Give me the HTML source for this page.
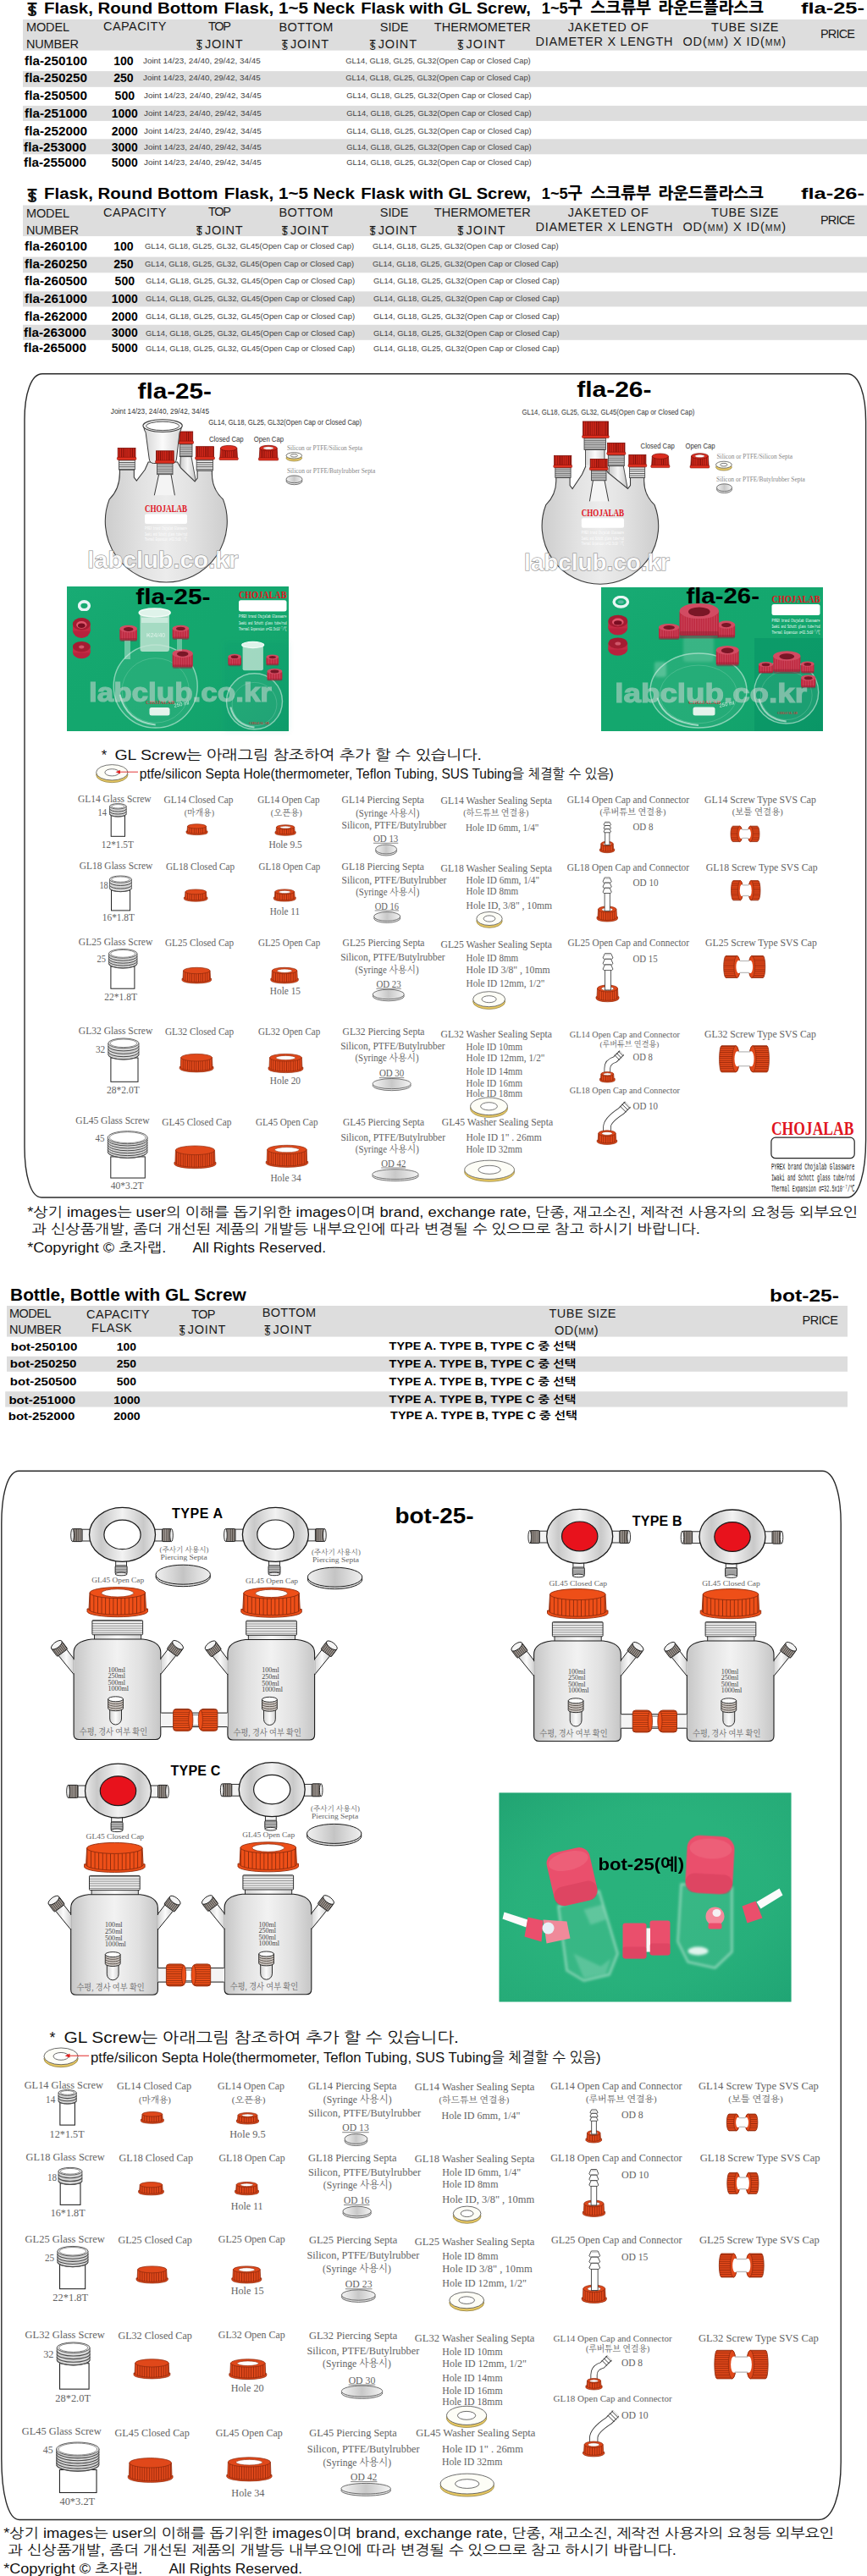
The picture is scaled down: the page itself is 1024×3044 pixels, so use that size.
<!DOCTYPE html>
<html lang="ko"><head><meta charset="utf-8"><title>fla-25 / fla-26 / bot-25</title>
<style>
html,body{margin:0;padding:0;background:#fff}
body{width:1024px;height:3044px;overflow:hidden;position:relative}
svg{display:block;position:absolute;left:0;top:0}
text{white-space:pre}
</style></head><body>
<svg width="1024" height="3044" viewBox="0 0 1024 3044">
<defs>
<linearGradient id="gl" x1="0" x2="1" y1="0" y2="0"><stop offset="0" stop-color="#d4d4d4"/><stop offset="0.5" stop-color="#fbfbfb"/><stop offset="1" stop-color="#d4d4d4"/></linearGradient>
<linearGradient id="gl2" x1="0" x2="1" y1="0" y2="0"><stop offset="0" stop-color="#c4c4c4"/><stop offset="0.5" stop-color="#f6f6f6"/><stop offset="1" stop-color="#c4c4c4"/></linearGradient>
<linearGradient id="ring" x1="0" x2="1" y1="0" y2="0"><stop offset="0" stop-color="#e8e8e8"/><stop offset="0.18" stop-color="#c9c9c9"/><stop offset="0.5" stop-color="#f2f2f2"/><stop offset="0.82" stop-color="#c9c9c9"/><stop offset="1" stop-color="#e8e8e8"/></linearGradient>
<linearGradient id="disc" x1="0" x2="1" y1="0" y2="0"><stop offset="0" stop-color="#f4f4f4"/><stop offset="0.5" stop-color="#c8c8c8"/><stop offset="1" stop-color="#f4f4f4"/></linearGradient>
<linearGradient id="body" x1="0" x2="1" y1="0" y2="0"><stop offset="0" stop-color="#cdcdcd"/><stop offset="0.3" stop-color="#e2e2e2"/><stop offset="0.5" stop-color="#ececec"/><stop offset="0.7" stop-color="#e2e2e2"/><stop offset="1" stop-color="#cdcdcd"/></linearGradient>
<pattern id="ribR" width="2.2" height="4" patternUnits="userSpaceOnUse"><rect width="2.2" height="4" fill="#d92a1c"/><rect x="0" width="0.9" height="4" fill="#7d0e08"/></pattern>
<pattern id="ribO" width="2.6" height="4" patternUnits="userSpaceOnUse"><rect width="2.6" height="4" fill="#e0481a"/><rect x="0" width="0.8" height="4" fill="#9a280a"/></pattern>
<pattern id="ribH" width="4" height="2.4" patternUnits="userSpaceOnUse"><rect width="4" height="2.4" fill="#e0481a"/><rect y="0" width="4" height="0.8" fill="#9a280a"/></pattern>
<pattern id="thr" width="4" height="2.6" patternUnits="userSpaceOnUse"><rect width="4" height="2.6" fill="#f4f4f4"/><rect y="0" width="4" height="1.1" fill="#555"/></pattern>
<pattern id="thrg" width="4" height="2.6" patternUnits="userSpaceOnUse"><rect width="4" height="2.6" fill="#bdbdbd"/><rect y="0" width="4" height="1" fill="#777"/></pattern>
<pattern id="thrv" width="2.2" height="4" patternUnits="userSpaceOnUse"><rect width="2.2" height="4" fill="#aaa49f"/><rect x="0" width="1" height="4" fill="#4a423c"/></pattern>
<filter id="b1" x="-10%" y="-10%" width="120%" height="120%"><feGaussianBlur stdDeviation="0.6"/></filter>
<filter id="b2" x="-10%" y="-10%" width="120%" height="120%"><feGaussianBlur stdDeviation="1.6"/></filter>
<filter id="b3" x="-20%" y="-20%" width="140%" height="140%"><feGaussianBlur stdDeviation="3"/></filter>
</defs>
<defs>
<linearGradient id="pgrad" x1="0" y1="0" x2="1" y2="1"><stop offset="0" stop-color="#25b888" stop-opacity="0.25"/><stop offset="0.5" stop-color="#14a76e" stop-opacity="0"/><stop offset="1" stop-color="#0a8660" stop-opacity="0.3"/></linearGradient>
</defs>
<defs>
<linearGradient id="bot" x1="0" x2="1" y1="0" y2="0"><stop offset="0" stop-color="#c6c6c6"/><stop offset="0.22" stop-color="#e0e0e0"/><stop offset="0.5" stop-color="#f2f2f2"/><stop offset="0.78" stop-color="#e0e0e0"/><stop offset="1" stop-color="#c6c6c6"/></linearGradient>
<linearGradient id="disc2" x1="0" x2="1" y1="0" y2="0"><stop offset="0" stop-color="#f0f0f0"/><stop offset="0.5" stop-color="#c4c4c4"/><stop offset="1" stop-color="#f0f0f0"/></linearGradient>
<pattern id="ribB" width="4.6" height="4" patternUnits="userSpaceOnUse"><rect width="4.6" height="4" fill="#ee4f18"/><rect x="0" width="0.9" height="4" fill="#8a2a0a"/></pattern>
<pattern id="ribH2" width="4" height="2.6" patternUnits="userSpaceOnUse"><rect width="4" height="2.6" fill="#ee4f18"/><rect y="0" width="4" height="0.8" fill="#8a2a0a"/></pattern>
<pattern id="thrb" width="4" height="2.8" patternUnits="userSpaceOnUse"><rect width="4" height="2.8" fill="#ececec"/><rect y="0" width="4" height="0.9" fill="#8a8a8a"/></pattern>
<pattern id="thrg2" width="2.2" height="4" patternUnits="userSpaceOnUse"><rect width="2.2" height="4" fill="#aaa49f"/><rect x="0" width="1" height="4" fill="#4a423c"/></pattern>
</defs>
<defs>
<linearGradient id="pgrad3" x1="0" y1="0" x2="1" y2="1"><stop offset="0" stop-color="#108a60" stop-opacity="0.22"/><stop offset="0.4" stop-color="#29b27c" stop-opacity="0"/><stop offset="1" stop-color="#0f956c" stop-opacity="0.25"/></linearGradient>
<radialGradient id="pvig3" cx="0.5" cy="0.5" r="0.75"><stop offset="0.55" stop-color="#0c7a58" stop-opacity="0"/><stop offset="1" stop-color="#0c7a58" stop-opacity="0.14"/></radialGradient>
</defs>
<text transform="translate(37.9,17.4) scale(1.87,1.99)" text-anchor="middle" font-family="'Liberation Sans','NanumGothic','Noto Sans CJK KR',sans-serif" font-size="10.0" font-weight="bold" fill="#111">T</text>
<text transform="translate(37.9,19.0) scale(1.71,1.67)" text-anchor="middle" font-family="'Liberation Sans','NanumGothic','Noto Sans CJK KR',sans-serif" font-size="10.0" font-weight="bold" fill="#111">S</text>
<text x="52.0" y="15.7" font-family="'Liberation Sans','NanumGothic','Noto Sans CJK KR',sans-serif" font-size="19.2" font-weight="bold" fill="#000" textLength="205.4" lengthAdjust="spacingAndGlyphs">Flask, Round Bottom</text>
<text x="264.7" y="15.7" font-family="'Liberation Sans','NanumGothic','Noto Sans CJK KR',sans-serif" font-size="19.2" font-weight="bold" fill="#000" textLength="154.3" lengthAdjust="spacingAndGlyphs">Flask, 1~5 Neck</text>
<text x="426.3" y="15.7" font-family="'Liberation Sans','NanumGothic','Noto Sans CJK KR',sans-serif" font-size="19.2" font-weight="bold" fill="#000" textLength="200.6" lengthAdjust="spacingAndGlyphs">Flask with GL Screw,</text>
<text x="639.8" y="15.7" font-family="'Liberation Sans','NanumGothic','Noto Sans CJK KR',sans-serif" font-size="19.2" font-weight="800" fill="#000" textLength="48.0" lengthAdjust="spacingAndGlyphs">1~5구</text>
<text x="697.8" y="15.7" font-family="'Liberation Sans','NanumGothic','Noto Sans CJK KR',sans-serif" font-size="19.2" font-weight="800" fill="#000" textLength="71.2" lengthAdjust="spacingAndGlyphs">스크류부</text>
<text x="777.5" y="15.7" font-family="'Liberation Sans','NanumGothic','Noto Sans CJK KR',sans-serif" font-size="19.2" font-weight="800" fill="#000" textLength="124.5" lengthAdjust="spacingAndGlyphs">라운드플라스크</text>
<text x="946.0" y="15.7" font-family="'Liberation Sans','NanumGothic','Noto Sans CJK KR',sans-serif" font-size="19.2" font-weight="bold" fill="#000" textLength="75.0" lengthAdjust="spacingAndGlyphs">fla-25-</text>
<rect x="27.0" y="23.0" width="997.0" height="36.6" fill="#dddddd"/>
<text x="31.0" y="37.4" font-family="'Liberation Sans','NanumGothic','Noto Sans CJK KR',sans-serif" font-size="14.5" fill="#1a1a1a" textLength="51.0" lengthAdjust="spacing">MODEL</text>
<text x="31.0" y="57.4" font-family="'Liberation Sans','NanumGothic','Noto Sans CJK KR',sans-serif" font-size="14.5" fill="#1a1a1a" textLength="62.0" lengthAdjust="spacing">NUMBER</text>
<text x="122.0" y="36.0" font-family="'Liberation Sans','NanumGothic','Noto Sans CJK KR',sans-serif" font-size="14.5" fill="#1a1a1a" textLength="74.5" lengthAdjust="spacing">CAPACITY</text>
<text x="246.0" y="35.5" font-family="'Liberation Sans','NanumGothic','Noto Sans CJK KR',sans-serif" font-size="14.5" fill="#1a1a1a" textLength="27.0" lengthAdjust="spacing">TOP</text>
<text transform="translate(235.3,57.4) scale(1.18,1.48)" text-anchor="middle" font-family="'Liberation Sans','NanumGothic','Noto Sans CJK KR',sans-serif" font-size="10.0" font-weight="normal" fill="#111">T</text>
<text transform="translate(235.3,58.6) scale(1.08,1.24)" text-anchor="middle" font-family="'Liberation Sans','NanumGothic','Noto Sans CJK KR',sans-serif" font-size="10.0" font-weight="normal" fill="#111">S</text>
<text x="242.0" y="57.4" font-family="'Liberation Sans','NanumGothic','Noto Sans CJK KR',sans-serif" font-size="14.5" fill="#1a1a1a" textLength="44.5" lengthAdjust="spacing">JOINT</text>
<text x="329.4" y="36.7" font-family="'Liberation Sans','NanumGothic','Noto Sans CJK KR',sans-serif" font-size="14.5" fill="#1a1a1a" textLength="64.0" lengthAdjust="spacing">BOTTOM</text>
<text transform="translate(336.3,57.4) scale(1.18,1.48)" text-anchor="middle" font-family="'Liberation Sans','NanumGothic','Noto Sans CJK KR',sans-serif" font-size="10.0" font-weight="normal" fill="#111">T</text>
<text transform="translate(336.3,58.6) scale(1.08,1.24)" text-anchor="middle" font-family="'Liberation Sans','NanumGothic','Noto Sans CJK KR',sans-serif" font-size="10.0" font-weight="normal" fill="#111">S</text>
<text x="343.0" y="57.4" font-family="'Liberation Sans','NanumGothic','Noto Sans CJK KR',sans-serif" font-size="14.5" fill="#1a1a1a" textLength="45.0" lengthAdjust="spacing">JOINT</text>
<text x="448.8" y="36.7" font-family="'Liberation Sans','NanumGothic','Noto Sans CJK KR',sans-serif" font-size="14.5" fill="#1a1a1a" textLength="33.6" lengthAdjust="spacing">SIDE</text>
<text transform="translate(440.0,57.4) scale(1.18,1.48)" text-anchor="middle" font-family="'Liberation Sans','NanumGothic','Noto Sans CJK KR',sans-serif" font-size="10.0" font-weight="normal" fill="#111">T</text>
<text transform="translate(440.0,58.6) scale(1.08,1.24)" text-anchor="middle" font-family="'Liberation Sans','NanumGothic','Noto Sans CJK KR',sans-serif" font-size="10.0" font-weight="normal" fill="#111">S</text>
<text x="446.7" y="57.4" font-family="'Liberation Sans','NanumGothic','Noto Sans CJK KR',sans-serif" font-size="14.5" fill="#1a1a1a" textLength="45.3" lengthAdjust="spacing">JOINT</text>
<text x="512.8" y="36.7" font-family="'Liberation Sans','NanumGothic','Noto Sans CJK KR',sans-serif" font-size="14.5" fill="#1a1a1a" textLength="113.9" lengthAdjust="spacing">THERMOMETER</text>
<text transform="translate(543.8,57.4) scale(1.18,1.48)" text-anchor="middle" font-family="'Liberation Sans','NanumGothic','Noto Sans CJK KR',sans-serif" font-size="10.0" font-weight="normal" fill="#111">T</text>
<text transform="translate(543.8,58.6) scale(1.08,1.24)" text-anchor="middle" font-family="'Liberation Sans','NanumGothic','Noto Sans CJK KR',sans-serif" font-size="10.0" font-weight="normal" fill="#111">S</text>
<text x="550.5" y="57.4" font-family="'Liberation Sans','NanumGothic','Noto Sans CJK KR',sans-serif" font-size="14.5" fill="#1a1a1a" textLength="46.1" lengthAdjust="spacing">JOINT</text>
<text x="670.7" y="36.7" font-family="'Liberation Sans','NanumGothic','Noto Sans CJK KR',sans-serif" font-size="14.5" fill="#1a1a1a" textLength="95.1" lengthAdjust="spacing">JAKETED OF</text>
<text x="632.6" y="53.6" font-family="'Liberation Sans','NanumGothic','Noto Sans CJK KR',sans-serif" font-size="14.5" fill="#1a1a1a" textLength="161.9" lengthAdjust="spacing">DIAMETER X LENGTH</text>
<text x="840.0" y="36.7" font-family="'Liberation Sans','NanumGothic','Noto Sans CJK KR',sans-serif" font-size="14.5" fill="#1a1a1a" textLength="79.5" lengthAdjust="spacing">TUBE SIZE</text>
<text x="806.4" y="53.6" font-family="'Liberation Sans','NanumGothic','Noto Sans CJK KR',sans-serif" font-size="14.5" fill="#1a1a1a" textLength="121.6" lengthAdjust="spacing"><tspan>OD(</tspan><tspan font-size="10.5">MM</tspan><tspan>) X ID(</tspan><tspan font-size="10.5">MM</tspan><tspan>)</tspan></text>
<text x="969.0" y="45.0" font-family="'Liberation Sans','NanumGothic','Noto Sans CJK KR',sans-serif" font-size="14.5" fill="#1a1a1a" textLength="41.0" lengthAdjust="spacing">PRICE</text>
<rect x="27.0" y="84.1" width="997.0" height="18.7" fill="#dddddd"/>
<rect x="27.0" y="124.9" width="997.0" height="18.0" fill="#dddddd"/>
<rect x="27.0" y="164.3" width="997.0" height="18.0" fill="#dddddd"/>
<text x="29.1" y="76.5" font-family="'Liberation Sans','NanumGothic','Noto Sans CJK KR',sans-serif" font-size="13.8" font-weight="bold" fill="#000" textLength="74.0" lengthAdjust="spacingAndGlyphs">fla-250100</text>
<text x="134.2" y="76.5" font-family="'Liberation Sans','NanumGothic','Noto Sans CJK KR',sans-serif" font-size="13.8" font-weight="bold" fill="#000" textLength="23.5" lengthAdjust="spacingAndGlyphs">100</text>
<text x="169.0" y="74.6" font-family="'Liberation Sans','NanumGothic','Noto Sans CJK KR',sans-serif" font-size="9.5" fill="#444" textLength="138.7" lengthAdjust="spacingAndGlyphs">Joint 14/23, 24/40, 29/42, 34/45</text>
<text x="408.3" y="74.6" font-family="'Liberation Sans','NanumGothic','Noto Sans CJK KR',sans-serif" font-size="9.5" fill="#444" textLength="218.4" lengthAdjust="spacingAndGlyphs">GL14, GL18, GL25, GL32(Open Cap or Closed Cap)</text>
<text x="29.1" y="97.2" font-family="'Liberation Sans','NanumGothic','Noto Sans CJK KR',sans-serif" font-size="13.8" font-weight="bold" fill="#000" textLength="74.0" lengthAdjust="spacingAndGlyphs">fla-250250</text>
<text x="134.2" y="97.2" font-family="'Liberation Sans','NanumGothic','Noto Sans CJK KR',sans-serif" font-size="13.8" font-weight="bold" fill="#000" textLength="23.5" lengthAdjust="spacingAndGlyphs">250</text>
<text x="169.0" y="95.3" font-family="'Liberation Sans','NanumGothic','Noto Sans CJK KR',sans-serif" font-size="9.5" fill="#444" textLength="138.7" lengthAdjust="spacingAndGlyphs">Joint 14/23, 24/40, 29/42, 34/45</text>
<text x="408.3" y="95.3" font-family="'Liberation Sans','NanumGothic','Noto Sans CJK KR',sans-serif" font-size="9.5" fill="#444" textLength="218.4" lengthAdjust="spacingAndGlyphs">GL14, GL18, GL25, GL32(Open Cap or Closed Cap)</text>
<text x="29.1" y="117.6" font-family="'Liberation Sans','NanumGothic','Noto Sans CJK KR',sans-serif" font-size="13.8" font-weight="bold" fill="#000" textLength="74.0" lengthAdjust="spacingAndGlyphs">fla-250500</text>
<text x="135.6" y="117.6" font-family="'Liberation Sans','NanumGothic','Noto Sans CJK KR',sans-serif" font-size="13.8" font-weight="bold" fill="#000" textLength="23.5" lengthAdjust="spacingAndGlyphs">500</text>
<text x="170.0" y="115.7" font-family="'Liberation Sans','NanumGothic','Noto Sans CJK KR',sans-serif" font-size="9.5" fill="#444" textLength="138.7" lengthAdjust="spacingAndGlyphs">Joint 14/23, 24/40, 29/42, 34/45</text>
<text x="409.3" y="115.7" font-family="'Liberation Sans','NanumGothic','Noto Sans CJK KR',sans-serif" font-size="9.5" fill="#444" textLength="218.4" lengthAdjust="spacingAndGlyphs">GL14, GL18, GL25, GL32(Open Cap or Closed Cap)</text>
<text x="29.1" y="138.7" font-family="'Liberation Sans','NanumGothic','Noto Sans CJK KR',sans-serif" font-size="13.8" font-weight="bold" fill="#000" textLength="74.0" lengthAdjust="spacingAndGlyphs">fla-251000</text>
<text x="131.8" y="138.7" font-family="'Liberation Sans','NanumGothic','Noto Sans CJK KR',sans-serif" font-size="13.8" font-weight="bold" fill="#000" textLength="31.0" lengthAdjust="spacingAndGlyphs">1000</text>
<text x="170.0" y="136.8" font-family="'Liberation Sans','NanumGothic','Noto Sans CJK KR',sans-serif" font-size="9.5" fill="#444" textLength="138.7" lengthAdjust="spacingAndGlyphs">Joint 14/23, 24/40, 29/42, 34/45</text>
<text x="409.3" y="136.8" font-family="'Liberation Sans','NanumGothic','Noto Sans CJK KR',sans-serif" font-size="9.5" fill="#444" textLength="218.4" lengthAdjust="spacingAndGlyphs">GL14, GL18, GL25, GL32(Open Cap or Closed Cap)</text>
<text x="29.1" y="159.5" font-family="'Liberation Sans','NanumGothic','Noto Sans CJK KR',sans-serif" font-size="13.8" font-weight="bold" fill="#000" textLength="74.0" lengthAdjust="spacingAndGlyphs">fla-252000</text>
<text x="131.8" y="159.5" font-family="'Liberation Sans','NanumGothic','Noto Sans CJK KR',sans-serif" font-size="13.8" font-weight="bold" fill="#000" textLength="31.0" lengthAdjust="spacingAndGlyphs">2000</text>
<text x="170.0" y="157.6" font-family="'Liberation Sans','NanumGothic','Noto Sans CJK KR',sans-serif" font-size="9.5" fill="#444" textLength="138.7" lengthAdjust="spacingAndGlyphs">Joint 14/23, 24/40, 29/42, 34/45</text>
<text x="409.3" y="157.6" font-family="'Liberation Sans','NanumGothic','Noto Sans CJK KR',sans-serif" font-size="9.5" fill="#444" textLength="218.4" lengthAdjust="spacingAndGlyphs">GL14, GL18, GL25, GL32(Open Cap or Closed Cap)</text>
<text x="28.1" y="178.9" font-family="'Liberation Sans','NanumGothic','Noto Sans CJK KR',sans-serif" font-size="13.8" font-weight="bold" fill="#000" textLength="74.0" lengthAdjust="spacingAndGlyphs">fla-253000</text>
<text x="131.8" y="178.9" font-family="'Liberation Sans','NanumGothic','Noto Sans CJK KR',sans-serif" font-size="13.8" font-weight="bold" fill="#000" textLength="31.0" lengthAdjust="spacingAndGlyphs">3000</text>
<text x="170.0" y="177.0" font-family="'Liberation Sans','NanumGothic','Noto Sans CJK KR',sans-serif" font-size="9.5" fill="#444" textLength="138.7" lengthAdjust="spacingAndGlyphs">Joint 14/23, 24/40, 29/42, 34/45</text>
<text x="409.3" y="177.0" font-family="'Liberation Sans','NanumGothic','Noto Sans CJK KR',sans-serif" font-size="9.5" fill="#444" textLength="218.4" lengthAdjust="spacingAndGlyphs">GL14, GL18, GL25, GL32(Open Cap or Closed Cap)</text>
<text x="28.1" y="196.9" font-family="'Liberation Sans','NanumGothic','Noto Sans CJK KR',sans-serif" font-size="13.8" font-weight="bold" fill="#000" textLength="74.0" lengthAdjust="spacingAndGlyphs">fla-255000</text>
<text x="131.8" y="196.9" font-family="'Liberation Sans','NanumGothic','Noto Sans CJK KR',sans-serif" font-size="13.8" font-weight="bold" fill="#000" textLength="31.0" lengthAdjust="spacingAndGlyphs">5000</text>
<text x="170.0" y="195.0" font-family="'Liberation Sans','NanumGothic','Noto Sans CJK KR',sans-serif" font-size="9.5" fill="#444" textLength="138.7" lengthAdjust="spacingAndGlyphs">Joint 14/23, 24/40, 29/42, 34/45</text>
<text x="409.3" y="195.0" font-family="'Liberation Sans','NanumGothic','Noto Sans CJK KR',sans-serif" font-size="9.5" fill="#444" textLength="218.4" lengthAdjust="spacingAndGlyphs">GL14, GL18, GL25, GL32(Open Cap or Closed Cap)</text>
<text transform="translate(37.9,236.9) scale(1.87,1.99)" text-anchor="middle" font-family="'Liberation Sans','NanumGothic','Noto Sans CJK KR',sans-serif" font-size="10.0" font-weight="bold" fill="#111">T</text>
<text transform="translate(37.9,238.5) scale(1.71,1.67)" text-anchor="middle" font-family="'Liberation Sans','NanumGothic','Noto Sans CJK KR',sans-serif" font-size="10.0" font-weight="bold" fill="#111">S</text>
<text x="52.0" y="235.2" font-family="'Liberation Sans','NanumGothic','Noto Sans CJK KR',sans-serif" font-size="19.2" font-weight="bold" fill="#000" textLength="205.4" lengthAdjust="spacingAndGlyphs">Flask, Round Bottom</text>
<text x="264.7" y="235.2" font-family="'Liberation Sans','NanumGothic','Noto Sans CJK KR',sans-serif" font-size="19.2" font-weight="bold" fill="#000" textLength="154.3" lengthAdjust="spacingAndGlyphs">Flask, 1~5 Neck</text>
<text x="426.3" y="235.2" font-family="'Liberation Sans','NanumGothic','Noto Sans CJK KR',sans-serif" font-size="19.2" font-weight="bold" fill="#000" textLength="200.6" lengthAdjust="spacingAndGlyphs">Flask with GL Screw,</text>
<text x="639.8" y="235.2" font-family="'Liberation Sans','NanumGothic','Noto Sans CJK KR',sans-serif" font-size="19.2" font-weight="800" fill="#000" textLength="48.0" lengthAdjust="spacingAndGlyphs">1~5구</text>
<text x="697.8" y="235.2" font-family="'Liberation Sans','NanumGothic','Noto Sans CJK KR',sans-serif" font-size="19.2" font-weight="800" fill="#000" textLength="71.2" lengthAdjust="spacingAndGlyphs">스크류부</text>
<text x="777.5" y="235.2" font-family="'Liberation Sans','NanumGothic','Noto Sans CJK KR',sans-serif" font-size="19.2" font-weight="800" fill="#000" textLength="124.5" lengthAdjust="spacingAndGlyphs">라운드플라스크</text>
<text x="946.0" y="235.2" font-family="'Liberation Sans','NanumGothic','Noto Sans CJK KR',sans-serif" font-size="19.2" font-weight="bold" fill="#000" textLength="75.0" lengthAdjust="spacingAndGlyphs">fla-26-</text>
<rect x="27.0" y="242.5" width="997.0" height="36.6" fill="#dddddd"/>
<text x="31.0" y="256.9" font-family="'Liberation Sans','NanumGothic','Noto Sans CJK KR',sans-serif" font-size="14.5" fill="#1a1a1a" textLength="51.0" lengthAdjust="spacing">MODEL</text>
<text x="31.0" y="276.9" font-family="'Liberation Sans','NanumGothic','Noto Sans CJK KR',sans-serif" font-size="14.5" fill="#1a1a1a" textLength="62.0" lengthAdjust="spacing">NUMBER</text>
<text x="122.0" y="255.5" font-family="'Liberation Sans','NanumGothic','Noto Sans CJK KR',sans-serif" font-size="14.5" fill="#1a1a1a" textLength="74.5" lengthAdjust="spacing">CAPACITY</text>
<text x="246.0" y="255.0" font-family="'Liberation Sans','NanumGothic','Noto Sans CJK KR',sans-serif" font-size="14.5" fill="#1a1a1a" textLength="27.0" lengthAdjust="spacing">TOP</text>
<text transform="translate(235.3,276.9) scale(1.18,1.48)" text-anchor="middle" font-family="'Liberation Sans','NanumGothic','Noto Sans CJK KR',sans-serif" font-size="10.0" font-weight="normal" fill="#111">T</text>
<text transform="translate(235.3,278.1) scale(1.08,1.24)" text-anchor="middle" font-family="'Liberation Sans','NanumGothic','Noto Sans CJK KR',sans-serif" font-size="10.0" font-weight="normal" fill="#111">S</text>
<text x="242.0" y="276.9" font-family="'Liberation Sans','NanumGothic','Noto Sans CJK KR',sans-serif" font-size="14.5" fill="#1a1a1a" textLength="44.5" lengthAdjust="spacing">JOINT</text>
<text x="329.4" y="256.2" font-family="'Liberation Sans','NanumGothic','Noto Sans CJK KR',sans-serif" font-size="14.5" fill="#1a1a1a" textLength="64.0" lengthAdjust="spacing">BOTTOM</text>
<text transform="translate(336.3,276.9) scale(1.18,1.48)" text-anchor="middle" font-family="'Liberation Sans','NanumGothic','Noto Sans CJK KR',sans-serif" font-size="10.0" font-weight="normal" fill="#111">T</text>
<text transform="translate(336.3,278.1) scale(1.08,1.24)" text-anchor="middle" font-family="'Liberation Sans','NanumGothic','Noto Sans CJK KR',sans-serif" font-size="10.0" font-weight="normal" fill="#111">S</text>
<text x="343.0" y="276.9" font-family="'Liberation Sans','NanumGothic','Noto Sans CJK KR',sans-serif" font-size="14.5" fill="#1a1a1a" textLength="45.0" lengthAdjust="spacing">JOINT</text>
<text x="448.8" y="256.2" font-family="'Liberation Sans','NanumGothic','Noto Sans CJK KR',sans-serif" font-size="14.5" fill="#1a1a1a" textLength="33.6" lengthAdjust="spacing">SIDE</text>
<text transform="translate(440.0,276.9) scale(1.18,1.48)" text-anchor="middle" font-family="'Liberation Sans','NanumGothic','Noto Sans CJK KR',sans-serif" font-size="10.0" font-weight="normal" fill="#111">T</text>
<text transform="translate(440.0,278.1) scale(1.08,1.24)" text-anchor="middle" font-family="'Liberation Sans','NanumGothic','Noto Sans CJK KR',sans-serif" font-size="10.0" font-weight="normal" fill="#111">S</text>
<text x="446.7" y="276.9" font-family="'Liberation Sans','NanumGothic','Noto Sans CJK KR',sans-serif" font-size="14.5" fill="#1a1a1a" textLength="45.3" lengthAdjust="spacing">JOINT</text>
<text x="512.8" y="256.2" font-family="'Liberation Sans','NanumGothic','Noto Sans CJK KR',sans-serif" font-size="14.5" fill="#1a1a1a" textLength="113.9" lengthAdjust="spacing">THERMOMETER</text>
<text transform="translate(543.8,276.9) scale(1.18,1.48)" text-anchor="middle" font-family="'Liberation Sans','NanumGothic','Noto Sans CJK KR',sans-serif" font-size="10.0" font-weight="normal" fill="#111">T</text>
<text transform="translate(543.8,278.1) scale(1.08,1.24)" text-anchor="middle" font-family="'Liberation Sans','NanumGothic','Noto Sans CJK KR',sans-serif" font-size="10.0" font-weight="normal" fill="#111">S</text>
<text x="550.5" y="276.9" font-family="'Liberation Sans','NanumGothic','Noto Sans CJK KR',sans-serif" font-size="14.5" fill="#1a1a1a" textLength="46.1" lengthAdjust="spacing">JOINT</text>
<text x="670.7" y="256.2" font-family="'Liberation Sans','NanumGothic','Noto Sans CJK KR',sans-serif" font-size="14.5" fill="#1a1a1a" textLength="95.1" lengthAdjust="spacing">JAKETED OF</text>
<text x="632.6" y="273.1" font-family="'Liberation Sans','NanumGothic','Noto Sans CJK KR',sans-serif" font-size="14.5" fill="#1a1a1a" textLength="161.9" lengthAdjust="spacing">DIAMETER X LENGTH</text>
<text x="840.0" y="256.2" font-family="'Liberation Sans','NanumGothic','Noto Sans CJK KR',sans-serif" font-size="14.5" fill="#1a1a1a" textLength="79.5" lengthAdjust="spacing">TUBE SIZE</text>
<text x="806.4" y="273.1" font-family="'Liberation Sans','NanumGothic','Noto Sans CJK KR',sans-serif" font-size="14.5" fill="#1a1a1a" textLength="121.6" lengthAdjust="spacing"><tspan>OD(</tspan><tspan font-size="10.5">MM</tspan><tspan>) X ID(</tspan><tspan font-size="10.5">MM</tspan><tspan>)</tspan></text>
<text x="969.0" y="264.5" font-family="'Liberation Sans','NanumGothic','Noto Sans CJK KR',sans-serif" font-size="14.5" fill="#1a1a1a" textLength="41.0" lengthAdjust="spacing">PRICE</text>
<rect x="27.0" y="303.6" width="997.0" height="18.7" fill="#dddddd"/>
<rect x="27.0" y="344.4" width="997.0" height="18.0" fill="#dddddd"/>
<rect x="27.0" y="383.8" width="997.0" height="18.0" fill="#dddddd"/>
<text x="29.1" y="296.0" font-family="'Liberation Sans','NanumGothic','Noto Sans CJK KR',sans-serif" font-size="13.8" font-weight="bold" fill="#000" textLength="74.0" lengthAdjust="spacingAndGlyphs">fla-260100</text>
<text x="134.2" y="296.0" font-family="'Liberation Sans','NanumGothic','Noto Sans CJK KR',sans-serif" font-size="13.8" font-weight="bold" fill="#000" textLength="23.5" lengthAdjust="spacingAndGlyphs">100</text>
<text x="171.0" y="294.1" font-family="'Liberation Sans','NanumGothic','Noto Sans CJK KR',sans-serif" font-size="9.5" fill="#444" textLength="247.0" lengthAdjust="spacingAndGlyphs">GL14, GL18, GL25, GL32, GL45(Open Cap or Closed Cap)</text>
<text x="440.0" y="294.1" font-family="'Liberation Sans','NanumGothic','Noto Sans CJK KR',sans-serif" font-size="9.5" fill="#444" textLength="219.6" lengthAdjust="spacingAndGlyphs">GL14, GL18, GL25, GL32(Open Cap or Closed Cap)</text>
<text x="29.1" y="316.7" font-family="'Liberation Sans','NanumGothic','Noto Sans CJK KR',sans-serif" font-size="13.8" font-weight="bold" fill="#000" textLength="74.0" lengthAdjust="spacingAndGlyphs">fla-260250</text>
<text x="134.2" y="316.7" font-family="'Liberation Sans','NanumGothic','Noto Sans CJK KR',sans-serif" font-size="13.8" font-weight="bold" fill="#000" textLength="23.5" lengthAdjust="spacingAndGlyphs">250</text>
<text x="171.0" y="314.8" font-family="'Liberation Sans','NanumGothic','Noto Sans CJK KR',sans-serif" font-size="9.5" fill="#444" textLength="247.0" lengthAdjust="spacingAndGlyphs">GL14, GL18, GL25, GL32, GL45(Open Cap or Closed Cap)</text>
<text x="440.0" y="314.8" font-family="'Liberation Sans','NanumGothic','Noto Sans CJK KR',sans-serif" font-size="9.5" fill="#444" textLength="219.6" lengthAdjust="spacingAndGlyphs">GL14, GL18, GL25, GL32(Open Cap or Closed Cap)</text>
<text x="29.1" y="337.1" font-family="'Liberation Sans','NanumGothic','Noto Sans CJK KR',sans-serif" font-size="13.8" font-weight="bold" fill="#000" textLength="74.0" lengthAdjust="spacingAndGlyphs">fla-260500</text>
<text x="135.6" y="337.1" font-family="'Liberation Sans','NanumGothic','Noto Sans CJK KR',sans-serif" font-size="13.8" font-weight="bold" fill="#000" textLength="23.5" lengthAdjust="spacingAndGlyphs">500</text>
<text x="172.0" y="335.2" font-family="'Liberation Sans','NanumGothic','Noto Sans CJK KR',sans-serif" font-size="9.5" fill="#444" textLength="247.0" lengthAdjust="spacingAndGlyphs">GL14, GL18, GL25, GL32, GL45(Open Cap or Closed Cap)</text>
<text x="441.0" y="335.2" font-family="'Liberation Sans','NanumGothic','Noto Sans CJK KR',sans-serif" font-size="9.5" fill="#444" textLength="219.6" lengthAdjust="spacingAndGlyphs">GL14, GL18, GL25, GL32(Open Cap or Closed Cap)</text>
<text x="29.1" y="358.2" font-family="'Liberation Sans','NanumGothic','Noto Sans CJK KR',sans-serif" font-size="13.8" font-weight="bold" fill="#000" textLength="74.0" lengthAdjust="spacingAndGlyphs">fla-261000</text>
<text x="131.8" y="358.2" font-family="'Liberation Sans','NanumGothic','Noto Sans CJK KR',sans-serif" font-size="13.8" font-weight="bold" fill="#000" textLength="31.0" lengthAdjust="spacingAndGlyphs">1000</text>
<text x="172.0" y="356.3" font-family="'Liberation Sans','NanumGothic','Noto Sans CJK KR',sans-serif" font-size="9.5" fill="#444" textLength="247.0" lengthAdjust="spacingAndGlyphs">GL14, GL18, GL25, GL32, GL45(Open Cap or Closed Cap)</text>
<text x="441.0" y="356.3" font-family="'Liberation Sans','NanumGothic','Noto Sans CJK KR',sans-serif" font-size="9.5" fill="#444" textLength="219.6" lengthAdjust="spacingAndGlyphs">GL14, GL18, GL25, GL32(Open Cap or Closed Cap)</text>
<text x="29.1" y="379.0" font-family="'Liberation Sans','NanumGothic','Noto Sans CJK KR',sans-serif" font-size="13.8" font-weight="bold" fill="#000" textLength="74.0" lengthAdjust="spacingAndGlyphs">fla-262000</text>
<text x="131.8" y="379.0" font-family="'Liberation Sans','NanumGothic','Noto Sans CJK KR',sans-serif" font-size="13.8" font-weight="bold" fill="#000" textLength="31.0" lengthAdjust="spacingAndGlyphs">2000</text>
<text x="172.0" y="377.1" font-family="'Liberation Sans','NanumGothic','Noto Sans CJK KR',sans-serif" font-size="9.5" fill="#444" textLength="247.0" lengthAdjust="spacingAndGlyphs">GL14, GL18, GL25, GL32, GL45(Open Cap or Closed Cap)</text>
<text x="441.0" y="377.1" font-family="'Liberation Sans','NanumGothic','Noto Sans CJK KR',sans-serif" font-size="9.5" fill="#444" textLength="219.6" lengthAdjust="spacingAndGlyphs">GL14, GL18, GL25, GL32(Open Cap or Closed Cap)</text>
<text x="28.1" y="398.4" font-family="'Liberation Sans','NanumGothic','Noto Sans CJK KR',sans-serif" font-size="13.8" font-weight="bold" fill="#000" textLength="74.0" lengthAdjust="spacingAndGlyphs">fla-263000</text>
<text x="131.8" y="398.4" font-family="'Liberation Sans','NanumGothic','Noto Sans CJK KR',sans-serif" font-size="13.8" font-weight="bold" fill="#000" textLength="31.0" lengthAdjust="spacingAndGlyphs">3000</text>
<text x="172.0" y="396.5" font-family="'Liberation Sans','NanumGothic','Noto Sans CJK KR',sans-serif" font-size="9.5" fill="#444" textLength="247.0" lengthAdjust="spacingAndGlyphs">GL14, GL18, GL25, GL32, GL45(Open Cap or Closed Cap)</text>
<text x="441.0" y="396.5" font-family="'Liberation Sans','NanumGothic','Noto Sans CJK KR',sans-serif" font-size="9.5" fill="#444" textLength="219.6" lengthAdjust="spacingAndGlyphs">GL14, GL18, GL25, GL32(Open Cap or Closed Cap)</text>
<text x="28.1" y="416.4" font-family="'Liberation Sans','NanumGothic','Noto Sans CJK KR',sans-serif" font-size="13.8" font-weight="bold" fill="#000" textLength="74.0" lengthAdjust="spacingAndGlyphs">fla-265000</text>
<text x="131.8" y="416.4" font-family="'Liberation Sans','NanumGothic','Noto Sans CJK KR',sans-serif" font-size="13.8" font-weight="bold" fill="#000" textLength="31.0" lengthAdjust="spacingAndGlyphs">5000</text>
<text x="172.0" y="414.5" font-family="'Liberation Sans','NanumGothic','Noto Sans CJK KR',sans-serif" font-size="9.5" fill="#444" textLength="247.0" lengthAdjust="spacingAndGlyphs">GL14, GL18, GL25, GL32, GL45(Open Cap or Closed Cap)</text>
<text x="441.0" y="414.5" font-family="'Liberation Sans','NanumGothic','Noto Sans CJK KR',sans-serif" font-size="9.5" fill="#444" textLength="219.6" lengthAdjust="spacingAndGlyphs">GL14, GL18, GL25, GL32(Open Cap or Closed Cap)</text>
<path d="M50,441.8 L1000.6,441.8 C1014.9,441.8 1022.6,467.0 1022.6,497.8 L1022.6,1347 C1022.6,1384.4 1014.9,1415 1000.6,1415 L49,1415 C36.0,1415 29,1388.0 29,1355 L29,495.8 C29,466.1 36.35,441.8 50,441.8 Z" fill="none" stroke="#2a2a2a" stroke-width="1.4"/>
<text x="162.6" y="471.2" font-family="'Liberation Sans','NanumGothic','Noto Sans CJK KR',sans-serif" font-size="25" font-weight="bold" fill="#000" textLength="87.4" lengthAdjust="spacingAndGlyphs">fla-25-</text>
<text x="130.8" y="488.8" font-family="'Liberation Sans','NanumGothic','Noto Sans CJK KR',sans-serif" font-size="9" fill="#333" textLength="116.2" lengthAdjust="spacingAndGlyphs">Joint 14/23, 24/40, 29/42, 34/45</text>
<text x="246.3" y="501.8" font-family="'Liberation Sans','NanumGothic','Noto Sans CJK KR',sans-serif" font-size="9" fill="#333" textLength="180.9" lengthAdjust="spacingAndGlyphs">GL14, GL18, GL25, GL32(Open Cap or Closed Cap)</text>
<text x="247.0" y="521.5" font-family="'Liberation Sans','NanumGothic','Noto Sans CJK KR',sans-serif" font-size="9" fill="#333" textLength="40.7" lengthAdjust="spacingAndGlyphs">Closed Cap</text>
<text x="299.8" y="521.5" font-family="'Liberation Sans','NanumGothic','Noto Sans CJK KR',sans-serif" font-size="9" fill="#333" textLength="35.2" lengthAdjust="spacingAndGlyphs">Open Cap</text>
<path d="M260.5,529.6 L259.8,541.0 L280.5,541.0 L279.8,529.6 Z" fill="url(#ribR)" stroke="#7d0e08" stroke-width="0.7"/>
<rect x="259.0" y="540.5" width="22.3" height="3.0" fill="#e0301f" stroke="#8d120a" stroke-width="0.6" rx="1"/>
<ellipse cx="270.1" cy="529.6" rx="9.7" ry="3.2" fill="#dc2c1e" stroke="#7d0e08" stroke-width="0.7"/>
<path d="M306.9,529.5 L306.2,541.5 L327.9,541.5 L327.2,529.5 Z" fill="url(#ribR)" stroke="#7d0e08" stroke-width="0.7"/>
<rect x="305.4" y="541.0" width="23.3" height="3.0" fill="#e0301f" stroke="#8d120a" stroke-width="0.6" rx="1"/>
<ellipse cx="317.0" cy="529.5" rx="10.2" ry="3.2" fill="#dc2c1e" stroke="#7d0e08" stroke-width="0.7"/>
<ellipse cx="317.0" cy="529.5" rx="6.2" ry="1.8" fill="#fff" stroke="#7d0e08" stroke-width="0.5"/>
<text x="338.9" y="531.9" font-family="'Liberation Serif','Noto Serif CJK KR','Noto Serif CJK SC',serif" font-size="8.5" fill="#888" textLength="89.1" lengthAdjust="spacingAndGlyphs">Silicon or PTFE/Silicon Septa</text>
<ellipse cx="347.3" cy="541.2" rx="9.3" ry="3.7" fill="#e9c962" stroke="#8a7a3a" stroke-width="0.7"/>
<ellipse cx="347.3" cy="538.4" rx="9.3" ry="3.7" fill="#fdfdf6" stroke="#555" stroke-width="0.8"/>
<ellipse cx="347.3" cy="538.4" rx="4.2" ry="1.7" fill="#fff" stroke="#555" stroke-width="0.8"/>
<text x="338.9" y="559.3" font-family="'Liberation Serif','Noto Serif CJK KR','Noto Serif CJK SC',serif" font-size="8.5" fill="#888" textLength="104.3" lengthAdjust="spacingAndGlyphs">Silicon or PTFE/Butylrubber Septa</text>
<ellipse cx="347.5" cy="568.3" rx="9.5" ry="4.4" fill="#e6e6e6" stroke="#555" stroke-width="0.8"/>
<ellipse cx="347.5" cy="566.3" rx="9.5" ry="4.4" fill="url(#disc)" stroke="#555" stroke-width="0.8"/>
<path d="M213.3,539.6 L211.8,569.6 L231.5,569.6 L226.0,539.6 Z" fill="url(#gl2)" stroke="#3a3a3a" stroke-width="0.9"/>
<rect x="212.3" y="524.4" width="14.7" height="15.2" fill="url(#thrg)" stroke="#3a3a3a" stroke-width="0.8"/>
<rect x="211.6" y="510.0" width="16.1" height="11.9" fill="url(#ribR)" stroke="#7d0e08" stroke-width="0.8"/>
<rect x="210.8" y="521.2" width="17.7" height="3.2" fill="#e0301f" stroke="#8d120a" stroke-width="0.6" rx="1"/>
<path d="M141.4,555 L141.4,559 Q141.4,578.1 129.1,590.1 A72,72 0 1 0 263.5,590.1 Q250.4,578.1 250.4,560 L250.4,556 L233.1,556 L233.1,565 L230.1,569 L213.5,553.0 L209.5,546.0 L175.2,546.0 L171.2,555.0 L161.3,568 L158.3,564 L158.3,555 Z" fill="url(#body)" stroke="#3a3a3a" stroke-width="1.1"/>
<path d="M169.7,503.1 L170.5,508.1 L172.1,511.1 L176.2,542.0 Q176.7,547.5 181.7,547.5 L203.0,547.5 Q208.0,547.5 208.5,542.0 L212.1,511.1 L213.7,508.1 L214.5,503.1 Z" fill="url(#gl)" stroke="#3a3a3a" stroke-width="1"/>
<ellipse cx="192.1" cy="503.1" rx="23.2" ry="7.4" fill="#f4f4f4" stroke="#3a3a3a" stroke-width="1.1"/>
<ellipse cx="192.1" cy="503.4" rx="19.6" ry="5.2" fill="#ffffff" stroke="#3a3a3a" stroke-width="0.9"/>
<path d="M187.6,560.7 L182.3,585.3 L206.4,585.3 L202.0,560.7 Z" fill="#f4f4f4"/>
<path d="M187.6,560.7 L182.3,585.3 M206.4,585.3 L202.0,560.7" fill="none" stroke="#3a3a3a" stroke-width="1"/>
<rect x="185.6" y="547.3" width="18.4" height="13.4" fill="url(#thrg)" stroke="#3a3a3a" stroke-width="0.8"/>
<rect x="184.4" y="532.8" width="20.8" height="12.0" fill="url(#ribR)" stroke="#7d0e08" stroke-width="0.8"/>
<rect x="183.6" y="544.1" width="22.4" height="3.2" fill="#e0301f" stroke="#8d120a" stroke-width="0.6" rx="1"/>
<rect x="140.4" y="543.5" width="18.9" height="11.5" fill="url(#thr)" stroke="#3a3a3a" stroke-width="0.8"/>
<rect x="139.2" y="529.5" width="20.8" height="11.5" fill="url(#ribR)" stroke="#7d0e08" stroke-width="0.8"/>
<rect x="138.4" y="540.3" width="22.4" height="3.2" fill="#e0301f" stroke="#8d120a" stroke-width="0.6" rx="1"/>
<rect x="232.1" y="543.0" width="19.3" height="13.0" fill="url(#thr)" stroke="#3a3a3a" stroke-width="0.8"/>
<rect x="231.4" y="527.7" width="21.2" height="12.8" fill="url(#ribR)" stroke="#7d0e08" stroke-width="0.8"/>
<rect x="230.6" y="539.8" width="22.8" height="3.2" fill="#e0301f" stroke="#8d120a" stroke-width="0.6" rx="1"/>
<text x="171.0" y="605.0" font-family="'Liberation Serif','Noto Serif CJK KR','Noto Serif CJK SC',serif" font-size="11.8" font-weight="bold" fill="#e0141e" textLength="50.0" lengthAdjust="spacingAndGlyphs">CHOJALAB</text>
<rect x="171.0" y="607.4" width="50.0" height="11.6" fill="#fff" rx="2"/>
<text x="171.0" y="626.3" font-family="'Liberation Mono','Noto Sans Mono CJK KR',monospace" font-size="5.5" fill="#fff" textLength="50.0" lengthAdjust="spacingAndGlyphs">PYREX brand Chojalab Glassware</text>
<text x="171.0" y="632.8" font-family="'Liberation Mono','Noto Sans Mono CJK KR',monospace" font-size="5.5" fill="#fff" textLength="50.0" lengthAdjust="spacingAndGlyphs">Iwaki and Schott glass tube/rod</text>
<text x="171.0" y="639.3" font-family="'Liberation Mono','Noto Sans Mono CJK KR',monospace" font-size="5.5" fill="#fff" textLength="50.0" lengthAdjust="spacingAndGlyphs">Thermal Expansion α=32.5x10⁻⁷/℃</text>
<text x="103.3" y="671.0" font-family="'Liberation Sans','NanumGothic','Noto Sans CJK KR',sans-serif" font-size="28" font-weight="bold" fill="#ffffff" textLength="178.2" lengthAdjust="spacingAndGlyphs" stroke="#8a8a8a" stroke-width="1.1" paint-order="stroke" fill-opacity="0.9">labclub.co.kr</text>
<text x="681.2" y="468.6" font-family="'Liberation Sans','NanumGothic','Noto Sans CJK KR',sans-serif" font-size="25" font-weight="bold" fill="#000" textLength="88.3" lengthAdjust="spacingAndGlyphs">fla-26-</text>
<text x="616.5" y="490.1" font-family="'Liberation Sans','NanumGothic','Noto Sans CJK KR',sans-serif" font-size="9" fill="#333" textLength="203.8" lengthAdjust="spacingAndGlyphs">GL14, GL18, GL25, GL32, GL45(Open Cap or Closed Cap)</text>
<text x="756.6" y="530.4" font-family="'Liberation Sans','NanumGothic','Noto Sans CJK KR',sans-serif" font-size="9" fill="#333" textLength="40.1" lengthAdjust="spacingAndGlyphs">Closed Cap</text>
<text x="809.4" y="530.4" font-family="'Liberation Sans','NanumGothic','Noto Sans CJK KR',sans-serif" font-size="9" fill="#333" textLength="35.2" lengthAdjust="spacingAndGlyphs">Open Cap</text>
<path d="M770.3,539.2 L769.6,550.1 L790.1,550.1 L789.4,539.2 Z" fill="url(#ribR)" stroke="#7d0e08" stroke-width="0.7"/>
<rect x="768.8" y="549.6" width="22.1" height="3.0" fill="#e0301f" stroke="#8d120a" stroke-width="0.6" rx="1"/>
<ellipse cx="779.8" cy="539.2" rx="9.6" ry="3.2" fill="#dc2c1e" stroke="#7d0e08" stroke-width="0.7"/>
<path d="M816.5,538.9 L815.8,550.5 L837.1,550.5 L836.4,538.9 Z" fill="url(#ribR)" stroke="#7d0e08" stroke-width="0.7"/>
<rect x="815.0" y="550.0" width="22.9" height="3.0" fill="#e0301f" stroke="#8d120a" stroke-width="0.6" rx="1"/>
<ellipse cx="826.5" cy="538.9" rx="9.9" ry="3.2" fill="#dc2c1e" stroke="#7d0e08" stroke-width="0.7"/>
<ellipse cx="826.5" cy="538.9" rx="5.9" ry="1.8" fill="#fff" stroke="#7d0e08" stroke-width="0.5"/>
<text x="846.5" y="542.0" font-family="'Liberation Serif','Noto Serif CJK KR','Noto Serif CJK SC',serif" font-size="8.5" fill="#888" textLength="89.5" lengthAdjust="spacingAndGlyphs">Silicon or PTFE/Silicon Septa</text>
<ellipse cx="854.9" cy="552.0" rx="9.4" ry="4.0" fill="#e9c962" stroke="#8a7a3a" stroke-width="0.7"/>
<ellipse cx="854.9" cy="549.2" rx="9.4" ry="4.0" fill="#fdfdf6" stroke="#555" stroke-width="0.8"/>
<ellipse cx="854.9" cy="549.2" rx="4.2" ry="1.8" fill="#fff" stroke="#555" stroke-width="0.8"/>
<text x="846.0" y="569.1" font-family="'Liberation Serif','Noto Serif CJK KR','Noto Serif CJK SC',serif" font-size="8.5" fill="#888" textLength="104.8" lengthAdjust="spacingAndGlyphs">Silicon or PTFE/Butylrubber Septa</text>
<ellipse cx="855.5" cy="578.2" rx="9.0" ry="4.4" fill="#e6e6e6" stroke="#555" stroke-width="0.8"/>
<ellipse cx="855.5" cy="576.2" rx="9.0" ry="4.4" fill="url(#disc)" stroke="#555" stroke-width="0.8"/>
<path d="M719.3,550.6 L717.8,580.6 L741.8,580.6 L736.3,550.6 Z" fill="url(#gl2)" stroke="#3a3a3a" stroke-width="0.9"/>
<rect x="718.3" y="537.4" width="19.0" height="13.2" fill="url(#thrg)" stroke="#3a3a3a" stroke-width="0.8"/>
<rect x="717.6" y="523.4" width="20.4" height="11.5" fill="url(#ribR)" stroke="#7d0e08" stroke-width="0.8"/>
<rect x="716.8" y="534.2" width="22.0" height="3.2" fill="#e0301f" stroke="#8d120a" stroke-width="0.6" rx="1"/>
<path d="M691.5,531.5 L691.5,571.5 L714.0,571.5 L714.0,531.5 Z" fill="url(#gl)" stroke="#3a3a3a" stroke-width="0.9"/>
<rect x="690.0" y="517.6" width="25.5" height="13.9" fill="url(#thrg)" stroke="#3a3a3a" stroke-width="0.8"/>
<rect x="688.4" y="498.0" width="30.1" height="17.1" fill="url(#ribR)" stroke="#7d0e08" stroke-width="0.8"/>
<rect x="687.6" y="514.4" width="31.7" height="3.2" fill="#e0301f" stroke="#8d120a" stroke-width="0.6" rx="1"/>
<path d="M656.8,564.5 L656.8,568.5 Q656.8,584.7 644.7,596.7 A68.8,68.8 0 1 0 773.1,596.7 Q760.7,584.7 760.7,568.5 L760.7,564.5 L744.5,564.5 L744.5,573.5 L741.5,577.5 L718.0,558.5 L714.0,551.5 L691.5,551.5 L687.5,560.5 L676.1,577.5 L673.1,573.5 L673.1,564.5 Z" fill="url(#body)" stroke="#3a3a3a" stroke-width="1.1"/>
<rect x="692.1" y="549.5" width="21.3" height="5.0" fill="#ececec"/>
<path d="M700.4,567.8 L696.4,592.4 L718.8,592.4 L714.0,567.8 Z" fill="#f4f4f4"/>
<path d="M700.4,567.8 L696.4,592.4 M718.8,592.4 L714.0,567.8" fill="none" stroke="#3a3a3a" stroke-width="1"/>
<rect x="698.4" y="555.6" width="17.6" height="12.2" fill="url(#thrg)" stroke="#3a3a3a" stroke-width="0.8"/>
<rect x="697.2" y="542.4" width="20.0" height="10.7" fill="url(#ribR)" stroke="#7d0e08" stroke-width="0.8"/>
<rect x="696.4" y="552.4" width="21.6" height="3.2" fill="#e0301f" stroke="#8d120a" stroke-width="0.6" rx="1"/>
<rect x="655.8" y="552.6" width="18.3" height="11.9" fill="url(#thrg)" stroke="#3a3a3a" stroke-width="0.8"/>
<rect x="654.6" y="538.4" width="20.2" height="11.7" fill="url(#ribR)" stroke="#7d0e08" stroke-width="0.8"/>
<rect x="653.8" y="549.4" width="21.8" height="3.2" fill="#e0301f" stroke="#8d120a" stroke-width="0.6" rx="1"/>
<rect x="743.5" y="551.8" width="18.2" height="12.7" fill="url(#thr)" stroke="#3a3a3a" stroke-width="0.8"/>
<rect x="742.8" y="537.4" width="20.1" height="11.9" fill="url(#ribR)" stroke="#7d0e08" stroke-width="0.8"/>
<rect x="742.0" y="548.6" width="21.7" height="3.2" fill="#e0301f" stroke="#8d120a" stroke-width="0.6" rx="1"/>
<text x="686.8" y="609.8" font-family="'Liberation Serif','Noto Serif CJK KR','Noto Serif CJK SC',serif" font-size="11.8" font-weight="bold" fill="#e0141e" textLength="50.2" lengthAdjust="spacingAndGlyphs">CHOJALAB</text>
<rect x="686.8" y="612.2" width="50.2" height="11.6" fill="#fff" rx="2"/>
<text x="686.8" y="631.1" font-family="'Liberation Mono','Noto Sans Mono CJK KR',monospace" font-size="5.5" fill="#fff" textLength="50.2" lengthAdjust="spacingAndGlyphs">PYREX brand Chojalab Glassware</text>
<text x="686.8" y="637.6" font-family="'Liberation Mono','Noto Sans Mono CJK KR',monospace" font-size="5.5" fill="#fff" textLength="50.2" lengthAdjust="spacingAndGlyphs">Iwaki and Schott glass tube/rod</text>
<text x="686.8" y="644.1" font-family="'Liberation Mono','Noto Sans Mono CJK KR',monospace" font-size="5.5" fill="#fff" textLength="50.2" lengthAdjust="spacingAndGlyphs">Thermal Expansion α=32.5x10⁻⁷/℃</text>
<text x="619.0" y="673.8" font-family="'Liberation Sans','NanumGothic','Noto Sans CJK KR',sans-serif" font-size="28" font-weight="bold" fill="#ffffff" textLength="171.9" lengthAdjust="spacingAndGlyphs" stroke="#8a8a8a" stroke-width="1.1" paint-order="stroke" fill-opacity="0.9">labclub.co.kr</text>
<g><rect x="79.0" y="693.0" width="262.0" height="171.0" fill="#14a76e"/>
<rect x="79" y="693" width="262" height="171" fill="url(#pgrad)"/><g filter="url(#b1)"><ellipse cx="99.4" cy="715.8" rx="5.9" ry="4.9" fill="none" stroke="#e6f4f6" stroke-width="3.6"/>
</g><g filter="url(#b1)"><ellipse cx="96.3" cy="745.1" rx="10.4" ry="8.8" fill="#b8243c"/>
<rect x="86.0" y="737.3" width="20.7" height="8.5" fill="#c42a44"/>
<ellipse cx="96.3" cy="737.3" rx="10.4" ry="7.3" fill="#a41c30"/>
<ellipse cx="96.3" cy="738.3" rx="6.2" ry="4.4" fill="#e0566c"/>
<ellipse cx="96.3" cy="739.3" rx="4.3" ry="2.7" fill="#7a1020"/>
</g><g filter="url(#b1)"><ellipse cx="96.3" cy="770.7" rx="10.4" ry="7.5" fill="#b8243c"/>
<rect x="86.0" y="764.1" width="20.7" height="7.2" fill="#c42a44"/>
<ellipse cx="96.3" cy="764.1" rx="10.4" ry="6.2" fill="#a41c30"/>
<ellipse cx="96.3" cy="764.5" rx="3.1" ry="1.9" fill="#d0566a"/>
</g><g filter="url(#b1)"><ellipse cx="183.7" cy="811.0" rx="49.5" ry="49.0" fill="#ffffff" stroke="#e6f5ee" stroke-width="1.4" fill-opacity="0.07" stroke-opacity="0.55"/>
<ellipse cx="183.7" cy="815.9" rx="39.6" ry="38.2" fill="none" stroke="#d5f0e2" stroke-width="1" stroke-opacity="0.2"/>
<path d="M141.6,820.8 Q149.0,852.6 183.7,856.6" fill="none" stroke="#ffffff" stroke-width="2" stroke-opacity="0.55"/>
</g><g filter="url(#b1)"><rect x="165.5" y="723.0" width="34.5" height="47.0" fill="#c4e6d6" rx="3" fill-opacity="0.82"/>
<ellipse cx="182.7" cy="724.0" rx="18.5" ry="5.0" fill="#dff3ea" stroke="#f2fbf7" stroke-width="1.5"/>
<rect x="167.0" y="730.0" width="31.5" height="6.0" fill="#e2f4ec" fill-opacity="0.6"/>
</g><text x="173.0" y="753.0" font-family="'Liberation Sans','NanumGothic','Noto Sans CJK KR',sans-serif" font-size="7" fill="#eef8f3" opacity="0.8">₭24/40</text>
<g filter="url(#b1)"><rect x="141.3" y="742.6" width="20.7" height="13.8" fill="#bf2c42" rx="2.5"/>
<line x1="144.3" y1="745.3" x2="144.3" y2="756.0" stroke="#e27286" stroke-width="0.7" stroke-opacity="0.55"/>
<line x1="147.2" y1="745.3" x2="147.2" y2="756.0" stroke="#e27286" stroke-width="0.7" stroke-opacity="0.55"/>
<line x1="150.2" y1="745.3" x2="150.2" y2="756.0" stroke="#e27286" stroke-width="0.7" stroke-opacity="0.55"/>
<line x1="153.1" y1="745.3" x2="153.1" y2="756.0" stroke="#e27286" stroke-width="0.7" stroke-opacity="0.55"/>
<line x1="156.1" y1="745.3" x2="156.1" y2="756.0" stroke="#e27286" stroke-width="0.7" stroke-opacity="0.55"/>
<line x1="159.0" y1="745.3" x2="159.0" y2="756.0" stroke="#e27286" stroke-width="0.7" stroke-opacity="0.55"/>
<ellipse cx="151.7" cy="743.0" rx="10.3" ry="4.2" fill="#d24c62"/>
<ellipse cx="151.7" cy="743.4" rx="5.7" ry="2.5" fill="#7a1426"/>
<rect x="141.3" y="754.1" width="20.7" height="3.8" fill="#8e1c30" rx="2" fill-opacity="0.45"/>
</g><g filter="url(#b1)"><rect x="203.6" y="742.2" width="19.7" height="12.4" fill="#bf2c42" rx="2.5"/>
<line x1="206.4" y1="744.6" x2="206.4" y2="754.3" stroke="#e27286" stroke-width="0.7" stroke-opacity="0.55"/>
<line x1="209.2" y1="744.6" x2="209.2" y2="754.3" stroke="#e27286" stroke-width="0.7" stroke-opacity="0.55"/>
<line x1="212.0" y1="744.6" x2="212.0" y2="754.3" stroke="#e27286" stroke-width="0.7" stroke-opacity="0.55"/>
<line x1="214.9" y1="744.6" x2="214.9" y2="754.3" stroke="#e27286" stroke-width="0.7" stroke-opacity="0.55"/>
<line x1="217.7" y1="744.6" x2="217.7" y2="754.3" stroke="#e27286" stroke-width="0.7" stroke-opacity="0.55"/>
<line x1="220.5" y1="744.6" x2="220.5" y2="754.3" stroke="#e27286" stroke-width="0.7" stroke-opacity="0.55"/>
<ellipse cx="213.4" cy="742.6" rx="9.9" ry="3.8" fill="#d24c62"/>
<ellipse cx="213.4" cy="742.9" rx="5.4" ry="2.2" fill="#7a1426"/>
<rect x="203.6" y="752.6" width="19.7" height="3.4" fill="#8e1c30" rx="2" fill-opacity="0.45"/>
</g><g filter="url(#b1)"><rect x="203.6" y="771.8" width="24.2" height="16.4" fill="#bf2c42" rx="2.5"/>
<line x1="206.3" y1="775.0" x2="206.3" y2="787.7" stroke="#e27286" stroke-width="0.7" stroke-opacity="0.55"/>
<line x1="209.0" y1="775.0" x2="209.0" y2="787.7" stroke="#e27286" stroke-width="0.7" stroke-opacity="0.55"/>
<line x1="211.7" y1="775.0" x2="211.7" y2="787.7" stroke="#e27286" stroke-width="0.7" stroke-opacity="0.55"/>
<line x1="214.4" y1="775.0" x2="214.4" y2="787.7" stroke="#e27286" stroke-width="0.7" stroke-opacity="0.55"/>
<line x1="217.0" y1="775.0" x2="217.0" y2="787.7" stroke="#e27286" stroke-width="0.7" stroke-opacity="0.55"/>
<line x1="219.7" y1="775.0" x2="219.7" y2="787.7" stroke="#e27286" stroke-width="0.7" stroke-opacity="0.55"/>
<line x1="222.4" y1="775.0" x2="222.4" y2="787.7" stroke="#e27286" stroke-width="0.7" stroke-opacity="0.55"/>
<line x1="225.1" y1="775.0" x2="225.1" y2="787.7" stroke="#e27286" stroke-width="0.7" stroke-opacity="0.55"/>
<ellipse cx="215.7" cy="772.2" rx="12.1" ry="5.0" fill="#d24c62"/>
<ellipse cx="215.7" cy="772.7" rx="6.7" ry="3.0" fill="#7a1426"/>
<rect x="203.6" y="785.4" width="24.2" height="4.6" fill="#8e1c30" rx="2" fill-opacity="0.45"/>
</g><g filter="url(#b1)"><rect x="147.0" y="757.0" width="7.0" height="22.0" fill="#d5efe3" fill-opacity="0.45"/>
<rect x="209.0" y="755.0" width="6.0" height="14.0" fill="#d5efe3" fill-opacity="0.4"/>
</g><text x="172.0" y="831.5" font-family="'Liberation Serif','Noto Serif CJK KR','Noto Serif CJK SC',serif" font-size="6.5" font-weight="bold" fill="#b8423e" textLength="34.0" lengthAdjust="spacingAndGlyphs">CHOJALAB</text>
<g filter="url(#b1)"><rect x="176.5" y="836.0" width="24.0" height="9.5" fill="#e4f3ec" rx="2.5"/>
</g><text x="206.0" y="836.0" font-family="'Liberation Sans','NanumGothic','Noto Sans CJK KR',sans-serif" font-size="6" fill="#e8f5ee" transform="rotate(-12 206 836)" opacity="0.85">250 ml</text>
<rect x="265.0" y="759.0" width="76.0" height="105.0" fill="#0f8f68" fill-opacity="0.12" filter="url(#b3)"/>
<g filter="url(#b1)"><ellipse cx="300.5" cy="828.8" rx="33.0" ry="33.0" fill="#ffffff" stroke="#e6f5ee" stroke-width="1.4" fill-opacity="0.07" stroke-opacity="0.55"/>
<ellipse cx="300.5" cy="832.1" rx="26.4" ry="25.7" fill="none" stroke="#d5f0e2" stroke-width="1" stroke-opacity="0.2"/>
<path d="M272.4,835.4 Q277.4,856.8 300.5,859.5" fill="none" stroke="#ffffff" stroke-width="2" stroke-opacity="0.55"/>
</g><g filter="url(#b1)"><rect x="286.6" y="761.3" width="24.3" height="31.0" fill="#c4e6d6" rx="2" fill-opacity="0.8"/>
<ellipse cx="298.7" cy="762.0" rx="13.0" ry="3.6" fill="#dff3ea" stroke="#f2fbf7" stroke-width="1.2"/>
</g><g filter="url(#b1)"><rect x="269.3" y="775.6" width="15.7" height="10.5" fill="#bf2c42" rx="2.5"/>
<line x1="271.9" y1="777.7" x2="271.9" y2="785.8" stroke="#e27286" stroke-width="0.7" stroke-opacity="0.55"/>
<line x1="274.5" y1="777.7" x2="274.5" y2="785.8" stroke="#e27286" stroke-width="0.7" stroke-opacity="0.55"/>
<line x1="277.1" y1="777.7" x2="277.1" y2="785.8" stroke="#e27286" stroke-width="0.7" stroke-opacity="0.55"/>
<line x1="279.8" y1="777.7" x2="279.8" y2="785.8" stroke="#e27286" stroke-width="0.7" stroke-opacity="0.55"/>
<line x1="282.4" y1="777.7" x2="282.4" y2="785.8" stroke="#e27286" stroke-width="0.7" stroke-opacity="0.55"/>
<ellipse cx="277.1" cy="775.9" rx="7.8" ry="3.2" fill="#d24c62"/>
<ellipse cx="277.1" cy="776.2" rx="4.3" ry="1.9" fill="#7a1426"/>
<rect x="269.3" y="784.4" width="15.7" height="2.9" fill="#8e1c30" rx="2" fill-opacity="0.45"/>
</g><g filter="url(#b1)"><rect x="314.3" y="776.0" width="14.9" height="9.5" fill="#bf2c42" rx="2.5"/>
<line x1="317.3" y1="777.9" x2="317.3" y2="785.3" stroke="#e27286" stroke-width="0.7" stroke-opacity="0.55"/>
<line x1="320.3" y1="777.9" x2="320.3" y2="785.3" stroke="#e27286" stroke-width="0.7" stroke-opacity="0.55"/>
<line x1="323.2" y1="777.9" x2="323.2" y2="785.3" stroke="#e27286" stroke-width="0.7" stroke-opacity="0.55"/>
<line x1="326.2" y1="777.9" x2="326.2" y2="785.3" stroke="#e27286" stroke-width="0.7" stroke-opacity="0.55"/>
<ellipse cx="321.8" cy="776.3" rx="7.4" ry="2.9" fill="#d24c62"/>
<ellipse cx="321.8" cy="776.6" rx="4.1" ry="1.7" fill="#7a1426"/>
<rect x="314.3" y="784.0" width="14.9" height="2.6" fill="#8e1c30" rx="2" fill-opacity="0.45"/>
</g><g filter="url(#b1)"><rect x="315.4" y="792.9" width="18.0" height="10.5" fill="#bf2c42" rx="2.5"/>
<line x1="318.4" y1="795.0" x2="318.4" y2="803.1" stroke="#e27286" stroke-width="0.7" stroke-opacity="0.55"/>
<line x1="321.4" y1="795.0" x2="321.4" y2="803.1" stroke="#e27286" stroke-width="0.7" stroke-opacity="0.55"/>
<line x1="324.4" y1="795.0" x2="324.4" y2="803.1" stroke="#e27286" stroke-width="0.7" stroke-opacity="0.55"/>
<line x1="327.4" y1="795.0" x2="327.4" y2="803.1" stroke="#e27286" stroke-width="0.7" stroke-opacity="0.55"/>
<line x1="330.4" y1="795.0" x2="330.4" y2="803.1" stroke="#e27286" stroke-width="0.7" stroke-opacity="0.55"/>
<ellipse cx="324.4" cy="793.2" rx="9.0" ry="3.2" fill="#d24c62"/>
<ellipse cx="324.4" cy="793.5" rx="5.0" ry="1.9" fill="#7a1426"/>
<rect x="315.4" y="801.7" width="18.0" height="2.9" fill="#8e1c30" rx="2" fill-opacity="0.45"/>
</g><text x="294.0" y="856.0" font-family="'Liberation Serif','Noto Serif CJK KR','Noto Serif CJK SC',serif" font-size="5" font-weight="bold" fill="#b8423e" textLength="24.0" lengthAdjust="spacingAndGlyphs">CHOJALAB</text>
<text x="160.3" y="714.4" font-family="'Liberation Sans','NanumGothic','Noto Sans CJK KR',sans-serif" font-size="25" font-weight="bold" fill="#000" textLength="88.3" lengthAdjust="spacingAndGlyphs">fla-25-</text>
<text x="282.0" y="706.8" font-family="'Liberation Serif','Noto Serif CJK KR','Noto Serif CJK SC',serif" font-size="11.8" font-weight="bold" fill="#e0141e" textLength="56.5" lengthAdjust="spacingAndGlyphs">CHOJALAB</text>
<rect x="282.0" y="709.2" width="56.5" height="13.2" fill="#fff" rx="2.5"/>
<text x="282.0" y="730.3" font-family="'Liberation Mono','Noto Sans Mono CJK KR',monospace" font-size="6" fill="#fff" textLength="56.5" lengthAdjust="spacingAndGlyphs">PYREX brand Chojalab Glassware</text>
<text x="282.0" y="737.5" font-family="'Liberation Mono','Noto Sans Mono CJK KR',monospace" font-size="6" fill="#fff" textLength="56.5" lengthAdjust="spacingAndGlyphs">Iwaki and Schott glass tube/rod</text>
<text x="282.0" y="744.7" font-family="'Liberation Mono','Noto Sans Mono CJK KR',monospace" font-size="6" fill="#fff" textLength="56.5" lengthAdjust="spacingAndGlyphs">Thermal Expansion α=32.5x10⁻⁷/℃</text>
<g opacity="0.5"><text x="105.0" y="829.2" font-family="'Liberation Sans','NanumGothic','Noto Sans CJK KR',sans-serif" font-size="31.5" font-weight="bold" fill="#dcdcdc" textLength="216.0" lengthAdjust="spacingAndGlyphs" stroke="#dcdcdc" stroke-width="1.2">labclub.co.kr</text>
</g></g><g><rect x="710.0" y="694.0" width="262.0" height="170.0" fill="#14a76e"/>
<rect x="710" y="694" width="262" height="170" fill="url(#pgrad)"/><rect x="891.0" y="754.0" width="81.0" height="110.0" fill="#0c8a62" fill-opacity="0.4" filter="url(#b1)"/>
<g filter="url(#b1)"><ellipse cx="733.3" cy="711.2" rx="8.2" ry="5.8" fill="none" stroke="#e8f6f4" stroke-width="3.4"/>
<ellipse cx="733.3" cy="711.2" rx="3.4" ry="2.0" fill="#58b8a0"/>
</g><g filter="url(#b1)"><ellipse cx="729.8" cy="741.8" rx="11.4" ry="8.7" fill="#b8243c"/>
<rect x="718.4" y="734.0" width="22.8" height="8.5" fill="#c42a44"/>
<ellipse cx="729.8" cy="734.0" rx="11.4" ry="7.3" fill="#a41c30"/>
<ellipse cx="729.8" cy="735.0" rx="6.8" ry="4.4" fill="#e0566c"/>
<ellipse cx="729.8" cy="735.9" rx="4.8" ry="2.7" fill="#7a1020"/>
</g><g filter="url(#b1)"><ellipse cx="729.8" cy="766.9" rx="11.4" ry="7.8" fill="#b8243c"/>
<rect x="718.4" y="759.9" width="22.8" height="7.6" fill="#c42a44"/>
<ellipse cx="729.8" cy="759.9" rx="11.4" ry="6.5" fill="#a41c30"/>
<ellipse cx="729.8" cy="760.4" rx="3.4" ry="2.0" fill="#d0566a"/>
</g><g filter="url(#b1)"><ellipse cx="825.0" cy="816.0" rx="57.0" ry="44.0" fill="#ffffff" stroke="#e6f5ee" stroke-width="1.4" fill-opacity="0.07" stroke-opacity="0.55"/>
<ellipse cx="825.0" cy="820.4" rx="45.6" ry="34.3" fill="none" stroke="#d5f0e2" stroke-width="1" stroke-opacity="0.2"/>
<path d="M776.5,824.8 Q785.1,853.4 825.0,856.9" fill="none" stroke="#ffffff" stroke-width="2" stroke-opacity="0.55"/>
</g><g filter="url(#b2)"><rect x="807.0" y="752.0" width="36.0" height="30.0" fill="#cdeadc" rx="4" fill-opacity="0.2"/>
<rect x="773.0" y="782.0" width="14.0" height="18.0" fill="#e8f6f0" rx="3" fill-opacity="0.25"/>
</g><g filter="url(#b1)"><rect x="778.0" y="740.8" width="24.5" height="13.7" fill="#bf2c42" rx="2.5"/>
<line x1="780.7" y1="743.5" x2="780.7" y2="754.1" stroke="#e27286" stroke-width="0.7" stroke-opacity="0.55"/>
<line x1="783.4" y1="743.5" x2="783.4" y2="754.1" stroke="#e27286" stroke-width="0.7" stroke-opacity="0.55"/>
<line x1="786.2" y1="743.5" x2="786.2" y2="754.1" stroke="#e27286" stroke-width="0.7" stroke-opacity="0.55"/>
<line x1="788.9" y1="743.5" x2="788.9" y2="754.1" stroke="#e27286" stroke-width="0.7" stroke-opacity="0.55"/>
<line x1="791.6" y1="743.5" x2="791.6" y2="754.1" stroke="#e27286" stroke-width="0.7" stroke-opacity="0.55"/>
<line x1="794.3" y1="743.5" x2="794.3" y2="754.1" stroke="#e27286" stroke-width="0.7" stroke-opacity="0.55"/>
<line x1="797.1" y1="743.5" x2="797.1" y2="754.1" stroke="#e27286" stroke-width="0.7" stroke-opacity="0.55"/>
<line x1="799.8" y1="743.5" x2="799.8" y2="754.1" stroke="#e27286" stroke-width="0.7" stroke-opacity="0.55"/>
<ellipse cx="790.2" cy="741.2" rx="12.2" ry="4.2" fill="#d24c62"/>
<ellipse cx="790.2" cy="741.6" rx="6.7" ry="2.5" fill="#7a1426"/>
<rect x="778.0" y="752.2" width="24.5" height="3.8" fill="#8e1c30" rx="2" fill-opacity="0.45"/>
</g><g filter="url(#b1)"><rect x="847.4" y="737.8" width="20.8" height="15.0" fill="#bf2c42" rx="2.5"/>
<line x1="850.0" y1="740.7" x2="850.0" y2="752.3" stroke="#e27286" stroke-width="0.7" stroke-opacity="0.55"/>
<line x1="852.6" y1="740.7" x2="852.6" y2="752.3" stroke="#e27286" stroke-width="0.7" stroke-opacity="0.55"/>
<line x1="855.2" y1="740.7" x2="855.2" y2="752.3" stroke="#e27286" stroke-width="0.7" stroke-opacity="0.55"/>
<line x1="857.8" y1="740.7" x2="857.8" y2="752.3" stroke="#e27286" stroke-width="0.7" stroke-opacity="0.55"/>
<line x1="860.4" y1="740.7" x2="860.4" y2="752.3" stroke="#e27286" stroke-width="0.7" stroke-opacity="0.55"/>
<line x1="863.0" y1="740.7" x2="863.0" y2="752.3" stroke="#e27286" stroke-width="0.7" stroke-opacity="0.55"/>
<line x1="865.6" y1="740.7" x2="865.6" y2="752.3" stroke="#e27286" stroke-width="0.7" stroke-opacity="0.55"/>
<ellipse cx="857.8" cy="738.2" rx="10.4" ry="4.6" fill="#d24c62"/>
<ellipse cx="857.8" cy="738.6" rx="5.7" ry="2.7" fill="#7a1426"/>
<rect x="847.4" y="750.2" width="20.8" height="4.2" fill="#8e1c30" rx="2" fill-opacity="0.45"/>
</g><g filter="url(#b1)"><rect x="802.5" y="721.2" width="46.5" height="29.9" fill="#bf2c42" rx="2.5"/>
<line x1="805.2" y1="727.0" x2="805.2" y2="750.2" stroke="#e27286" stroke-width="0.7" stroke-opacity="0.55"/>
<line x1="808.0" y1="727.0" x2="808.0" y2="750.2" stroke="#e27286" stroke-width="0.7" stroke-opacity="0.55"/>
<line x1="810.7" y1="727.0" x2="810.7" y2="750.2" stroke="#e27286" stroke-width="0.7" stroke-opacity="0.55"/>
<line x1="813.4" y1="727.0" x2="813.4" y2="750.2" stroke="#e27286" stroke-width="0.7" stroke-opacity="0.55"/>
<line x1="816.2" y1="727.0" x2="816.2" y2="750.2" stroke="#e27286" stroke-width="0.7" stroke-opacity="0.55"/>
<line x1="818.9" y1="727.0" x2="818.9" y2="750.2" stroke="#e27286" stroke-width="0.7" stroke-opacity="0.55"/>
<line x1="821.6" y1="727.0" x2="821.6" y2="750.2" stroke="#e27286" stroke-width="0.7" stroke-opacity="0.55"/>
<line x1="824.4" y1="727.0" x2="824.4" y2="750.2" stroke="#e27286" stroke-width="0.7" stroke-opacity="0.55"/>
<line x1="827.1" y1="727.0" x2="827.1" y2="750.2" stroke="#e27286" stroke-width="0.7" stroke-opacity="0.55"/>
<line x1="829.9" y1="727.0" x2="829.9" y2="750.2" stroke="#e27286" stroke-width="0.7" stroke-opacity="0.55"/>
<line x1="832.6" y1="727.0" x2="832.6" y2="750.2" stroke="#e27286" stroke-width="0.7" stroke-opacity="0.55"/>
<line x1="835.3" y1="727.0" x2="835.3" y2="750.2" stroke="#e27286" stroke-width="0.7" stroke-opacity="0.55"/>
<line x1="838.1" y1="727.0" x2="838.1" y2="750.2" stroke="#e27286" stroke-width="0.7" stroke-opacity="0.55"/>
<line x1="840.8" y1="727.0" x2="840.8" y2="750.2" stroke="#e27286" stroke-width="0.7" stroke-opacity="0.55"/>
<line x1="843.5" y1="727.0" x2="843.5" y2="750.2" stroke="#e27286" stroke-width="0.7" stroke-opacity="0.55"/>
<line x1="846.3" y1="727.0" x2="846.3" y2="750.2" stroke="#e27286" stroke-width="0.7" stroke-opacity="0.55"/>
<ellipse cx="825.8" cy="722.0" rx="23.2" ry="9.1" fill="#d24c62"/>
<ellipse cx="825.8" cy="722.9" rx="12.8" ry="5.4" fill="#7a1426"/>
<rect x="802.5" y="746.1" width="46.5" height="8.3" fill="#8e1c30" rx="2" fill-opacity="0.45"/>
</g><g filter="url(#b1)"><rect x="845.7" y="767.9" width="27.0" height="17.5" fill="#bf2c42" rx="2.5"/>
<line x1="848.4" y1="771.3" x2="848.4" y2="784.9" stroke="#e27286" stroke-width="0.7" stroke-opacity="0.55"/>
<line x1="851.1" y1="771.3" x2="851.1" y2="784.9" stroke="#e27286" stroke-width="0.7" stroke-opacity="0.55"/>
<line x1="853.8" y1="771.3" x2="853.8" y2="784.9" stroke="#e27286" stroke-width="0.7" stroke-opacity="0.55"/>
<line x1="856.5" y1="771.3" x2="856.5" y2="784.9" stroke="#e27286" stroke-width="0.7" stroke-opacity="0.55"/>
<line x1="859.2" y1="771.3" x2="859.2" y2="784.9" stroke="#e27286" stroke-width="0.7" stroke-opacity="0.55"/>
<line x1="861.9" y1="771.3" x2="861.9" y2="784.9" stroke="#e27286" stroke-width="0.7" stroke-opacity="0.55"/>
<line x1="864.6" y1="771.3" x2="864.6" y2="784.9" stroke="#e27286" stroke-width="0.7" stroke-opacity="0.55"/>
<line x1="867.3" y1="771.3" x2="867.3" y2="784.9" stroke="#e27286" stroke-width="0.7" stroke-opacity="0.55"/>
<line x1="870.0" y1="771.3" x2="870.0" y2="784.9" stroke="#e27286" stroke-width="0.7" stroke-opacity="0.55"/>
<ellipse cx="859.2" cy="768.3" rx="13.5" ry="5.3" fill="#d24c62"/>
<ellipse cx="859.2" cy="768.8" rx="7.4" ry="3.2" fill="#7a1426"/>
<rect x="845.7" y="782.4" width="27.0" height="4.9" fill="#8e1c30" rx="2" fill-opacity="0.45"/>
</g><text x="813.0" y="831.5" font-family="'Liberation Serif','Noto Serif CJK KR','Noto Serif CJK SC',serif" font-size="7" font-weight="bold" fill="#b8423e" textLength="38.0" lengthAdjust="spacingAndGlyphs">CHOJALAB</text>
<g filter="url(#b1)"><rect x="818.5" y="835.5" width="26.0" height="10.0" fill="#e4f3ec" rx="2.5"/>
</g><text x="850.0" y="836.0" font-family="'Liberation Sans','NanumGothic','Noto Sans CJK KR',sans-serif" font-size="6" fill="#e8f5ee" transform="rotate(-12 850 836)" opacity="0.85">250 ml</text>
<g filter="url(#b1)"><ellipse cx="928.7" cy="818.0" rx="38.0" ry="37.0" fill="#ffffff" stroke="#e6f5ee" stroke-width="1.4" fill-opacity="0.07" stroke-opacity="0.55"/>
<ellipse cx="928.7" cy="821.7" rx="30.4" ry="28.9" fill="none" stroke="#d5f0e2" stroke-width="1" stroke-opacity="0.2"/>
<path d="M896.4,825.4 Q902.1,849.5 928.7,852.4" fill="none" stroke="#ffffff" stroke-width="2" stroke-opacity="0.55"/>
</g><g filter="url(#b1)"><rect x="895.9" y="784.8" width="17.3" height="10.1" fill="#bf2c42" rx="2.5"/>
<line x1="898.8" y1="786.8" x2="898.8" y2="794.6" stroke="#e27286" stroke-width="0.7" stroke-opacity="0.55"/>
<line x1="901.7" y1="786.8" x2="901.7" y2="794.6" stroke="#e27286" stroke-width="0.7" stroke-opacity="0.55"/>
<line x1="904.5" y1="786.8" x2="904.5" y2="794.6" stroke="#e27286" stroke-width="0.7" stroke-opacity="0.55"/>
<line x1="907.4" y1="786.8" x2="907.4" y2="794.6" stroke="#e27286" stroke-width="0.7" stroke-opacity="0.55"/>
<line x1="910.3" y1="786.8" x2="910.3" y2="794.6" stroke="#e27286" stroke-width="0.7" stroke-opacity="0.55"/>
<ellipse cx="904.5" cy="785.1" rx="8.7" ry="3.1" fill="#d24c62"/>
<ellipse cx="904.5" cy="785.4" rx="4.8" ry="1.8" fill="#7a1426"/>
<rect x="895.9" y="793.2" width="17.3" height="2.8" fill="#8e1c30" rx="2" fill-opacity="0.45"/>
</g><g filter="url(#b1)"><rect x="946.0" y="784.3" width="15.6" height="10.5" fill="#bf2c42" rx="2.5"/>
<line x1="948.6" y1="786.4" x2="948.6" y2="794.5" stroke="#e27286" stroke-width="0.7" stroke-opacity="0.55"/>
<line x1="951.2" y1="786.4" x2="951.2" y2="794.5" stroke="#e27286" stroke-width="0.7" stroke-opacity="0.55"/>
<line x1="953.8" y1="786.4" x2="953.8" y2="794.5" stroke="#e27286" stroke-width="0.7" stroke-opacity="0.55"/>
<line x1="956.4" y1="786.4" x2="956.4" y2="794.5" stroke="#e27286" stroke-width="0.7" stroke-opacity="0.55"/>
<line x1="959.0" y1="786.4" x2="959.0" y2="794.5" stroke="#e27286" stroke-width="0.7" stroke-opacity="0.55"/>
<ellipse cx="953.8" cy="784.6" rx="7.8" ry="3.2" fill="#d24c62"/>
<ellipse cx="953.8" cy="784.9" rx="4.3" ry="1.9" fill="#7a1426"/>
<rect x="946.0" y="793.1" width="15.6" height="2.9" fill="#8e1c30" rx="2" fill-opacity="0.45"/>
</g><g filter="url(#b1)"><rect x="913.2" y="774.6" width="32.2" height="19.2" fill="#bf2c42" rx="2.5"/>
<line x1="915.9" y1="778.4" x2="915.9" y2="793.3" stroke="#e27286" stroke-width="0.7" stroke-opacity="0.55"/>
<line x1="918.6" y1="778.4" x2="918.6" y2="793.3" stroke="#e27286" stroke-width="0.7" stroke-opacity="0.55"/>
<line x1="921.2" y1="778.4" x2="921.2" y2="793.3" stroke="#e27286" stroke-width="0.7" stroke-opacity="0.55"/>
<line x1="923.9" y1="778.4" x2="923.9" y2="793.3" stroke="#e27286" stroke-width="0.7" stroke-opacity="0.55"/>
<line x1="926.6" y1="778.4" x2="926.6" y2="793.3" stroke="#e27286" stroke-width="0.7" stroke-opacity="0.55"/>
<line x1="929.3" y1="778.4" x2="929.3" y2="793.3" stroke="#e27286" stroke-width="0.7" stroke-opacity="0.55"/>
<line x1="932.0" y1="778.4" x2="932.0" y2="793.3" stroke="#e27286" stroke-width="0.7" stroke-opacity="0.55"/>
<line x1="934.7" y1="778.4" x2="934.7" y2="793.3" stroke="#e27286" stroke-width="0.7" stroke-opacity="0.55"/>
<line x1="937.4" y1="778.4" x2="937.4" y2="793.3" stroke="#e27286" stroke-width="0.7" stroke-opacity="0.55"/>
<line x1="940.0" y1="778.4" x2="940.0" y2="793.3" stroke="#e27286" stroke-width="0.7" stroke-opacity="0.55"/>
<line x1="942.7" y1="778.4" x2="942.7" y2="793.3" stroke="#e27286" stroke-width="0.7" stroke-opacity="0.55"/>
<ellipse cx="929.3" cy="775.2" rx="16.1" ry="5.9" fill="#d24c62"/>
<ellipse cx="929.3" cy="775.7" rx="8.9" ry="3.5" fill="#7a1426"/>
<rect x="913.2" y="790.7" width="32.2" height="5.3" fill="#8e1c30" rx="2" fill-opacity="0.45"/>
</g><g filter="url(#b1)"><rect x="946.0" y="800.7" width="17.4" height="11.2" fill="#bf2c42" rx="2.5"/>
<line x1="948.9" y1="802.9" x2="948.9" y2="811.6" stroke="#e27286" stroke-width="0.7" stroke-opacity="0.55"/>
<line x1="951.8" y1="802.9" x2="951.8" y2="811.6" stroke="#e27286" stroke-width="0.7" stroke-opacity="0.55"/>
<line x1="954.7" y1="802.9" x2="954.7" y2="811.6" stroke="#e27286" stroke-width="0.7" stroke-opacity="0.55"/>
<line x1="957.6" y1="802.9" x2="957.6" y2="811.6" stroke="#e27286" stroke-width="0.7" stroke-opacity="0.55"/>
<line x1="960.5" y1="802.9" x2="960.5" y2="811.6" stroke="#e27286" stroke-width="0.7" stroke-opacity="0.55"/>
<ellipse cx="954.7" cy="801.0" rx="8.7" ry="3.4" fill="#d24c62"/>
<ellipse cx="954.7" cy="801.3" rx="4.8" ry="2.0" fill="#7a1426"/>
<rect x="946.0" y="810.1" width="17.4" height="3.1" fill="#8e1c30" rx="2" fill-opacity="0.45"/>
</g><text x="918.0" y="844.0" font-family="'Liberation Serif','Noto Serif CJK KR','Noto Serif CJK SC',serif" font-size="5" font-weight="bold" fill="#b8423e" textLength="24.0" lengthAdjust="spacingAndGlyphs">CHOJALAB</text>
<text x="810.4" y="712.9" font-family="'Liberation Sans','NanumGothic','Noto Sans CJK KR',sans-serif" font-size="25" font-weight="bold" fill="#000" textLength="86.6" lengthAdjust="spacingAndGlyphs">fla-26-</text>
<text x="911.5" y="711.5" font-family="'Liberation Serif','Noto Serif CJK KR','Noto Serif CJK SC',serif" font-size="11.8" font-weight="bold" fill="#e0141e" textLength="57.0" lengthAdjust="spacingAndGlyphs">CHOJALAB</text>
<rect x="911.5" y="713.9" width="57.0" height="13.2" fill="#fff" rx="2.5"/>
<text x="911.5" y="735.0" font-family="'Liberation Mono','Noto Sans Mono CJK KR',monospace" font-size="6" fill="#fff" textLength="57.0" lengthAdjust="spacingAndGlyphs">PYREX brand Chojalab Glassware</text>
<text x="911.5" y="742.2" font-family="'Liberation Mono','Noto Sans Mono CJK KR',monospace" font-size="6" fill="#fff" textLength="57.0" lengthAdjust="spacingAndGlyphs">Iwaki and Schott glass tube/rod</text>
<text x="911.5" y="749.4" font-family="'Liberation Mono','Noto Sans Mono CJK KR',monospace" font-size="6" fill="#fff" textLength="57.0" lengthAdjust="spacingAndGlyphs">Thermal Expansion α=32.5x10⁻⁷/℃</text>
<g opacity="0.5"><text x="726.3" y="830.0" font-family="'Liberation Sans','NanumGothic','Noto Sans CJK KR',sans-serif" font-size="32" font-weight="bold" fill="#dcdcdc" textLength="226.7" lengthAdjust="spacingAndGlyphs" stroke="#dcdcdc" stroke-width="1.2">labclub.co.kr</text>
</g></g><g id="chart1"><text x="119.8" y="897.7" font-family="'Liberation Sans','NanumGothic','Noto Sans CJK KR',sans-serif" font-size="16.5" fill="#111">*</text>
<text x="135.4" y="897.7" font-family="'Liberation Sans','NanumGothic','Noto Sans CJK KR',sans-serif" font-size="16.5" fill="#111" textLength="433.6" lengthAdjust="spacingAndGlyphs">GL Screw는 아래그림 참조하여 추가 할 수 있습니다.</text>
<ellipse cx="132.3" cy="915.5" rx="18.7" ry="9.2" fill="#e9c962" stroke="#8a7a3a" stroke-width="0.7"/>
<ellipse cx="132.3" cy="912.8" rx="18.7" ry="9.2" fill="#fdfdf6" stroke="#555" stroke-width="0.8"/>
<ellipse cx="132.3" cy="912.8" rx="8.4" ry="4.1" fill="#fff" stroke="#555" stroke-width="0.8"/>
<line x1="139.0" y1="912.2" x2="163.0" y2="912.2" stroke="#e02020" stroke-width="0.9"/>
<path d="M136.5,912.2 L142,910 L142,914.4 Z" fill="#e02020"/>
<text x="164.8" y="919.5" font-family="'Liberation Sans','NanumGothic','Noto Sans CJK KR',sans-serif" font-size="16" fill="#111" textLength="560.0" lengthAdjust="spacingAndGlyphs">ptfe/silicon Septa Hole(thermometer, Teflon Tubing, SUS Tubing을 체결할 수 있음)</text>
<text x="92.0" y="947.8" font-family="'Liberation Serif','Noto Serif CJK KR','Noto Serif CJK SC',serif" font-size="11.5" fill="#636363" textLength="86.6" lengthAdjust="spacingAndGlyphs">GL14 Glass Screw</text>
<text x="115.6" y="963.8" font-family="'Liberation Serif','Noto Serif CJK KR','Noto Serif CJK SC',serif" font-size="11.5" fill="#636363" textLength="10.4" lengthAdjust="spacingAndGlyphs">14</text>
<rect x="131.2" y="963.0" width="16.3" height="25.3" fill="#fff" stroke="#222" stroke-width="1"/>
<path d="M129.5,952.8 L129.5,961.8 A9.8,3.2 0 0 0 149.2,961.8 L149.2,952.8 Z" fill="#d6d6d6" stroke="#444" stroke-width="0.8"/>
<path d="M129.5,955.8 A9.8,3.2 0 0 0 149.2,955.8" fill="none" stroke="#4a4a4a" stroke-width="1.0"/>
<path d="M129.5,958.8 A9.8,3.2 0 0 0 149.2,958.8" fill="none" stroke="#4a4a4a" stroke-width="1.0"/>
<path d="M129.5,961.8 A9.8,3.2 0 0 0 149.2,961.8" fill="none" stroke="#4a4a4a" stroke-width="1.0"/>
<ellipse cx="139.3" cy="952.8" rx="9.8" ry="3.2" fill="#f0f0f0" stroke="#555" stroke-width="0.9"/>
<ellipse cx="139.3" cy="952.8" rx="7.6" ry="2.2" fill="#fff" stroke="#666" stroke-width="0.7"/>
<text x="119.8" y="1001.8" font-family="'Liberation Serif','Noto Serif CJK KR','Noto Serif CJK SC',serif" font-size="11.5" fill="#636363" textLength="38.1" lengthAdjust="spacingAndGlyphs">12*1.5T</text>
<text x="193.5" y="948.8" font-family="'Liberation Serif','Noto Serif CJK KR','Noto Serif CJK SC',serif" font-size="11.5" fill="#636363" textLength="82.0" lengthAdjust="spacingAndGlyphs">GL14 Closed Cap</text>
<text x="217.7" y="964.0" font-family="'Liberation Serif','Noto Serif CJK KR','Noto Serif CJK SC',serif" font-size="10" fill="#636363" textLength="35.3" lengthAdjust="spacingAndGlyphs">(마개용)</text>
<path d="M220.0,984.0 A12.5,2.6 0 0 0 245.0,984.0 L245.0,982.0 L220.0,982.0 Z" fill="#e0481a" stroke="#8f2a0c" stroke-width="0.7"/>
<path d="M221.5,976.4 L221.0,982.5 A11.5,2.6 0 0 0 244.0,982.5 L243.5,976.4 Z" fill="url(#ribO)" stroke="#8f2a0c" stroke-width="0.7"/>
<ellipse cx="232.5" cy="976.4" rx="11.0" ry="2.6" fill="#e0481a" stroke="#8f2a0c" stroke-width="0.7"/>
<text x="304.2" y="948.8" font-family="'Liberation Serif','Noto Serif CJK KR','Noto Serif CJK SC',serif" font-size="11.5" fill="#636363" textLength="73.4" lengthAdjust="spacingAndGlyphs">GL14 Open Cap</text>
<text x="319.8" y="964.0" font-family="'Liberation Serif','Noto Serif CJK KR','Noto Serif CJK SC',serif" font-size="10" fill="#636363" textLength="37.0" lengthAdjust="spacingAndGlyphs">(오픈용)</text>
<path d="M325.0,984.7 A12.1,2.6 0 0 0 349.2,984.7 L349.2,982.7 L325.0,982.7 Z" fill="#e0481a" stroke="#8f2a0c" stroke-width="0.7"/>
<path d="M326.5,977.4 L326.0,983.2 A11.1,2.6 0 0 0 348.2,983.2 L347.7,977.4 Z" fill="url(#ribO)" stroke="#8f2a0c" stroke-width="0.7"/>
<ellipse cx="337.1" cy="977.4" rx="10.6" ry="2.6" fill="#e0481a" stroke="#8f2a0c" stroke-width="0.7"/>
<ellipse cx="337.1" cy="977.6" rx="6.6" ry="1.5" fill="#fff" stroke="#8f2a0c" stroke-width="0.6"/>
<text x="317.4" y="1001.8" font-family="'Liberation Serif','Noto Serif CJK KR','Noto Serif CJK SC',serif" font-size="11.5" fill="#636363" textLength="39.4" lengthAdjust="spacingAndGlyphs">Hole 9.5</text>
<text x="403.6" y="949.2" font-family="'Liberation Serif','Noto Serif CJK KR','Noto Serif CJK SC',serif" font-size="11.5" fill="#636363" textLength="97.2" lengthAdjust="spacingAndGlyphs">GL14 Piercing Septa</text>
<text x="420.2" y="964.5" font-family="'Liberation Serif','Noto Serif CJK KR','Noto Serif CJK SC',serif" font-size="11.5" fill="#636363" textLength="75.1" lengthAdjust="spacingAndGlyphs">(Syringe 사용시)</text>
<text x="403.6" y="978.6" font-family="'Liberation Serif','Noto Serif CJK KR','Noto Serif CJK SC',serif" font-size="11.5" fill="#636363" textLength="123.8" lengthAdjust="spacingAndGlyphs">Silicon, PTFE/Butylrubber</text>
<text x="441.0" y="994.8" font-family="'Liberation Serif','Noto Serif CJK KR','Noto Serif CJK SC',serif" font-size="11.5" fill="#636363" textLength="29.3" lengthAdjust="spacingAndGlyphs">OD 13</text>
<line x1="441.0" y1="996.3" x2="470.3" y2="996.3" stroke="#555" stroke-width="0.7"/>
<ellipse cx="456.1" cy="1005.5" rx="12.5" ry="5.5" fill="#e6e6e6" stroke="#555" stroke-width="0.8"/>
<ellipse cx="456.1" cy="1003.5" rx="12.5" ry="5.5" fill="url(#disc)" stroke="#555" stroke-width="0.8"/>
<text x="520.5" y="949.8" font-family="'Liberation Serif','Noto Serif CJK KR','Noto Serif CJK SC',serif" font-size="11.5" fill="#636363" textLength="131.5" lengthAdjust="spacingAndGlyphs">GL14 Washer Sealing Septa</text>
<text x="547.2" y="964.0" font-family="'Liberation Serif','Noto Serif CJK KR','Noto Serif CJK SC',serif" font-size="10" fill="#636363" textLength="77.1" lengthAdjust="spacingAndGlyphs">(하드튜브 연결용)</text>
<text x="550.0" y="981.8" font-family="'Liberation Serif','Noto Serif CJK KR','Noto Serif CJK SC',serif" font-size="11.5" fill="#636363" textLength="86.4" lengthAdjust="spacingAndGlyphs">Hole ID 6mm, 1/4&quot;</text>
<text x="669.7" y="949.2" font-family="'Liberation Serif','Noto Serif CJK KR','Noto Serif CJK SC',serif" font-size="11.5" fill="#636363" textLength="144.3" lengthAdjust="spacingAndGlyphs">GL14 Open Cap and Connector</text>
<text x="708.4" y="963.3" font-family="'Liberation Serif','Noto Serif CJK KR','Noto Serif CJK SC',serif" font-size="10" fill="#636363" textLength="77.9" lengthAdjust="spacingAndGlyphs">(루버튜브 연결용)</text>
<text x="747.5" y="981.1" font-family="'Liberation Serif','Noto Serif CJK KR','Noto Serif CJK SC',serif" font-size="11.5" fill="#636363" textLength="23.9" lengthAdjust="spacingAndGlyphs">OD 8</text>
<path d="M708.4,1005.2 A8.7,2.8 0 0 0 725.7,1005.2 L725.7,1003.2 L708.4,1003.2 Z" fill="#e0481a" stroke="#8f2a0c" stroke-width="0.7"/>
<path d="M709.9,997.1 L709.4,1003.7 A7.7,2.8 0 0 0 724.7,1003.7 L724.2,997.1 Z" fill="url(#ribO)" stroke="#8f2a0c" stroke-width="0.7"/>
<ellipse cx="717.0" cy="997.1" rx="7.2" ry="2.8" fill="#e0481a" stroke="#8f2a0c" stroke-width="0.7"/>
<ellipse cx="717.0" cy="997.3" rx="4.4" ry="1.7" fill="#fff" stroke="#8f2a0c" stroke-width="0.6"/>
<rect x="714.7" y="982.8" width="5.2" height="15.6" fill="#fff" stroke="#333" stroke-width="0.8"/>
<path d="M714.7,971.4 L719.9,971.4 L721.6,974.7 L720.4,975.5 L714.2,975.5 L713.0,974.7 Z" fill="#fff" stroke="#333" stroke-width="0.8"/>
<path d="M714.7,975.5 L719.9,975.5 L721.6,978.9 L720.4,979.7 L714.2,979.7 L713.0,978.9 Z" fill="#fff" stroke="#333" stroke-width="0.8"/>
<path d="M714.7,979.7 L719.9,979.7 L721.6,983.0 L720.4,983.8 L714.2,983.8 L713.0,983.0 Z" fill="#fff" stroke="#333" stroke-width="0.8"/>
<rect x="715.1" y="971.8" width="4.4" height="1.6" fill="#cfcfcf"/>
<text x="832.0" y="949.2" font-family="'Liberation Serif','Noto Serif CJK KR','Noto Serif CJK SC',serif" font-size="11.5" fill="#636363" textLength="131.9" lengthAdjust="spacingAndGlyphs">GL14 Screw Type SVS Cap</text>
<text x="864.8" y="963.3" font-family="'Liberation Serif','Noto Serif CJK KR','Noto Serif CJK SC',serif" font-size="10" fill="#636363" textLength="59.9" lengthAdjust="spacingAndGlyphs">(보틀 연결용)</text>
<path d="M865.6,976.2 L873.7,976.2 A2.9,9.2 0 0 1 873.7,994.6 L865.6,994.6 A2.6,9.2 0 0 1 865.6,976.2 Z" fill="url(#ribH)" stroke="#8f2a0c" stroke-width="0.8"/>
<ellipse cx="873.7" cy="985.4" rx="2.9" ry="9.2" fill="#e0481a" stroke="#8f2a0c" stroke-width="0.7"/>
<path d="M894.4,976.2 L886.3,976.2 A2.9,9.2 0 0 0 886.3,994.6 L894.4,994.6 A2.6,9.2 0 0 0 894.4,976.2 Z" fill="url(#ribH)" stroke="#8f2a0c" stroke-width="0.8"/>
<ellipse cx="886.3" cy="985.4" rx="2.9" ry="9.2" fill="#e0481a" stroke="#8f2a0c" stroke-width="0.7"/>
<rect x="874.7" y="980.4" width="10.6" height="9.9" fill="#fff"/>
<line x1="875.7" y1="980.4" x2="884.3" y2="980.4" stroke="#bdbdbd" stroke-width="1.3"/>
<line x1="875.7" y1="990.4" x2="884.3" y2="990.4" stroke="#bdbdbd" stroke-width="1.3"/>
<ellipse cx="875.3" cy="985.4" rx="2.2" ry="5.6" fill="#fff"/>
<ellipse cx="884.7" cy="985.4" rx="2.2" ry="5.6" fill="#fff"/>
<text x="93.8" y="1026.8" font-family="'Liberation Serif','Noto Serif CJK KR','Noto Serif CJK SC',serif" font-size="11.5" fill="#636363" textLength="86.5" lengthAdjust="spacingAndGlyphs">GL18 Glass Screw</text>
<text x="117.4" y="1049.6" font-family="'Liberation Serif','Noto Serif CJK KR','Noto Serif CJK SC',serif" font-size="11.5" fill="#636363" textLength="10.4" lengthAdjust="spacingAndGlyphs">18</text>
<rect x="131.5" y="1052.0" width="22.1" height="23.9" fill="#fff" stroke="#222" stroke-width="1"/>
<path d="M129.5,1039.1 L129.5,1049.9 A13.0,4.1 0 0 0 155.4,1049.9 L155.4,1039.1 Z" fill="#d6d6d6" stroke="#444" stroke-width="0.8"/>
<path d="M129.5,1042.7 A13.0,4.1 0 0 0 155.4,1042.7" fill="none" stroke="#4a4a4a" stroke-width="1.0"/>
<path d="M129.5,1046.3 A13.0,4.1 0 0 0 155.4,1046.3" fill="none" stroke="#4a4a4a" stroke-width="1.0"/>
<path d="M129.5,1049.9 A13.0,4.1 0 0 0 155.4,1049.9" fill="none" stroke="#4a4a4a" stroke-width="1.0"/>
<ellipse cx="142.4" cy="1039.1" rx="13.0" ry="4.1" fill="#f0f0f0" stroke="#555" stroke-width="0.9"/>
<ellipse cx="142.4" cy="1039.1" rx="10.8" ry="3.1" fill="#fff" stroke="#666" stroke-width="0.7"/>
<text x="120.8" y="1088.3" font-family="'Liberation Serif','Noto Serif CJK KR','Noto Serif CJK SC',serif" font-size="11.5" fill="#636363" textLength="38.1" lengthAdjust="spacingAndGlyphs">16*1.8T</text>
<text x="196.0" y="1027.8" font-family="'Liberation Serif','Noto Serif CJK KR','Noto Serif CJK SC',serif" font-size="11.5" fill="#636363" textLength="81.2" lengthAdjust="spacingAndGlyphs">GL18 Closed Cap</text>
<path d="M217.4,1062.3 A13.8,2.9 0 0 0 245.0,1062.3 L245.0,1060.3 L217.4,1060.3 Z" fill="#e0481a" stroke="#8f2a0c" stroke-width="0.7"/>
<path d="M218.9,1053.9 L218.4,1060.8 A12.8,2.9 0 0 0 244.0,1060.8 L243.5,1053.9 Z" fill="url(#ribO)" stroke="#8f2a0c" stroke-width="0.7"/>
<ellipse cx="231.2" cy="1053.9" rx="12.3" ry="2.9" fill="#e0481a" stroke="#8f2a0c" stroke-width="0.7"/>
<text x="305.6" y="1027.8" font-family="'Liberation Serif','Noto Serif CJK KR','Noto Serif CJK SC',serif" font-size="11.5" fill="#636363" textLength="72.7" lengthAdjust="spacingAndGlyphs">GL18 Open Cap</text>
<path d="M323.3,1062.2 A12.9,2.9 0 0 0 349.2,1062.2 L349.2,1060.2 L323.3,1060.2 Z" fill="#e0481a" stroke="#8f2a0c" stroke-width="0.7"/>
<path d="M324.8,1053.8 L324.3,1060.7 A11.9,2.9 0 0 0 348.2,1060.7 L347.7,1053.8 Z" fill="url(#ribO)" stroke="#8f2a0c" stroke-width="0.7"/>
<ellipse cx="336.2" cy="1053.8" rx="11.4" ry="2.9" fill="#e0481a" stroke="#8f2a0c" stroke-width="0.7"/>
<ellipse cx="336.2" cy="1054.0" rx="7.1" ry="1.7" fill="#fff" stroke="#8f2a0c" stroke-width="0.6"/>
<text x="318.8" y="1080.8" font-family="'Liberation Serif','Noto Serif CJK KR','Noto Serif CJK SC',serif" font-size="11.5" fill="#636363" textLength="35.2" lengthAdjust="spacingAndGlyphs">Hole 11</text>
<text x="403.6" y="1027.8" font-family="'Liberation Serif','Noto Serif CJK KR','Noto Serif CJK SC',serif" font-size="11.5" fill="#636363" textLength="97.2" lengthAdjust="spacingAndGlyphs">GL18 Piercing Septa</text>
<text x="403.6" y="1044.0" font-family="'Liberation Serif','Noto Serif CJK KR','Noto Serif CJK SC',serif" font-size="11.5" fill="#636363" textLength="123.8" lengthAdjust="spacingAndGlyphs">Silicon, PTFE/Butylrubber</text>
<text x="420.2" y="1057.8" font-family="'Liberation Serif','Noto Serif CJK KR','Noto Serif CJK SC',serif" font-size="11.5" fill="#636363" textLength="75.1" lengthAdjust="spacingAndGlyphs">(Syringe 사용시)</text>
<text x="442.7" y="1074.5" font-family="'Liberation Serif','Noto Serif CJK KR','Noto Serif CJK SC',serif" font-size="11.5" fill="#636363" textLength="28.3" lengthAdjust="spacingAndGlyphs">OD 16</text>
<line x1="442.7" y1="1076.0" x2="471.0" y2="1076.0" stroke="#555" stroke-width="0.7"/>
<ellipse cx="457.2" cy="1085.0" rx="15.6" ry="5.4" fill="#e6e6e6" stroke="#555" stroke-width="0.8"/>
<ellipse cx="457.2" cy="1083.0" rx="15.6" ry="5.4" fill="url(#disc)" stroke="#555" stroke-width="0.8"/>
<text x="520.5" y="1029.5" font-family="'Liberation Serif','Noto Serif CJK KR','Noto Serif CJK SC',serif" font-size="11.5" fill="#636363" textLength="131.5" lengthAdjust="spacingAndGlyphs">GL18 Washer Sealing Septa</text>
<text x="550.6" y="1044.0" font-family="'Liberation Serif','Noto Serif CJK KR','Noto Serif CJK SC',serif" font-size="11.5" fill="#636363" textLength="86.4" lengthAdjust="spacingAndGlyphs">Hole ID 6mm, 1/4&quot;</text>
<text x="550.6" y="1057.2" font-family="'Liberation Serif','Noto Serif CJK KR','Noto Serif CJK SC',serif" font-size="11.5" fill="#636363" textLength="61.6" lengthAdjust="spacingAndGlyphs">Hole ID 8mm</text>
<text x="550.6" y="1073.8" font-family="'Liberation Serif','Noto Serif CJK KR','Noto Serif CJK SC',serif" font-size="11.5" fill="#636363" textLength="101.4" lengthAdjust="spacingAndGlyphs">Hole ID, 3/8&quot; , 10mm</text>
<ellipse cx="578.0" cy="1088.3" rx="15.2" ry="8.0" fill="#e9c962" stroke="#8a7a3a" stroke-width="0.7"/>
<ellipse cx="578.0" cy="1085.5" rx="15.2" ry="8.0" fill="#fdfdf6" stroke="#555" stroke-width="0.8"/>
<ellipse cx="578.0" cy="1085.5" rx="6.9" ry="3.6" fill="#fff" stroke="#555" stroke-width="0.8"/>
<text x="669.7" y="1028.5" font-family="'Liberation Serif','Noto Serif CJK KR','Noto Serif CJK SC',serif" font-size="11.5" fill="#636363" textLength="144.3" lengthAdjust="spacingAndGlyphs">GL18 Open Cap and Connector</text>
<text x="747.5" y="1046.8" font-family="'Liberation Serif','Noto Serif CJK KR','Noto Serif CJK SC',serif" font-size="11.5" fill="#636363" textLength="30.1" lengthAdjust="spacingAndGlyphs">OD 10</text>
<path d="M705.0,1085.4 A12.2,3.6 0 0 0 729.5,1085.4 L729.5,1083.4 L705.0,1083.4 Z" fill="#e0481a" stroke="#8f2a0c" stroke-width="0.7"/>
<path d="M706.5,1074.6 L706.0,1083.9 A11.2,3.6 0 0 0 728.5,1083.9 L728.0,1074.6 Z" fill="url(#ribO)" stroke="#8f2a0c" stroke-width="0.7"/>
<ellipse cx="717.2" cy="1074.6" rx="10.8" ry="3.6" fill="#e0481a" stroke="#8f2a0c" stroke-width="0.7"/>
<ellipse cx="717.2" cy="1074.8" rx="6.7" ry="2.2" fill="#fff" stroke="#8f2a0c" stroke-width="0.6"/>
<rect x="714.1" y="1054.5" width="6.2" height="21.9" fill="#fff" stroke="#333" stroke-width="0.8"/>
<path d="M714.1,1037.0 L720.2,1037.0 L722.3,1041.9 L720.9,1043.2 L713.4,1043.2 L712.0,1041.9 Z" fill="#fff" stroke="#333" stroke-width="0.8"/>
<path d="M714.1,1043.2 L720.2,1043.2 L722.3,1048.1 L720.9,1049.3 L713.4,1049.3 L712.0,1048.1 Z" fill="#fff" stroke="#333" stroke-width="0.8"/>
<path d="M714.1,1049.3 L720.2,1049.3 L722.3,1054.3 L720.9,1055.5 L713.4,1055.5 L712.0,1054.3 Z" fill="#fff" stroke="#333" stroke-width="0.8"/>
<rect x="714.5" y="1037.4" width="5.4" height="1.6" fill="#cfcfcf"/>
<text x="833.7" y="1028.5" font-family="'Liberation Serif','Noto Serif CJK KR','Noto Serif CJK SC',serif" font-size="11.5" fill="#636363" textLength="131.9" lengthAdjust="spacingAndGlyphs">GL18 Screw Type SVS Cap</text>
<path d="M866.1,1040.6 L874.4,1040.6 A2.9,11.6 0 0 1 874.4,1063.8 L866.1,1063.8 A2.6,11.6 0 0 1 866.1,1040.6 Z" fill="url(#ribH)" stroke="#8f2a0c" stroke-width="0.8"/>
<ellipse cx="874.4" cy="1052.2" rx="2.9" ry="11.6" fill="#e0481a" stroke="#8f2a0c" stroke-width="0.7"/>
<path d="M895.4,1040.6 L887.1,1040.6 A2.9,11.6 0 0 0 887.1,1063.8 L895.4,1063.8 A2.6,11.6 0 0 0 895.4,1040.6 Z" fill="url(#ribH)" stroke="#8f2a0c" stroke-width="0.8"/>
<ellipse cx="887.1" cy="1052.2" rx="2.9" ry="11.6" fill="#e0481a" stroke="#8f2a0c" stroke-width="0.7"/>
<rect x="875.4" y="1045.9" width="10.8" height="12.5" fill="#fff"/>
<line x1="876.4" y1="1045.9" x2="885.1" y2="1045.9" stroke="#bdbdbd" stroke-width="1.3"/>
<line x1="876.4" y1="1058.5" x2="885.1" y2="1058.5" stroke="#bdbdbd" stroke-width="1.3"/>
<ellipse cx="876.0" cy="1052.2" rx="2.2" ry="6.9" fill="#fff"/>
<ellipse cx="885.5" cy="1052.2" rx="2.2" ry="6.9" fill="#fff"/>
<text x="92.8" y="1117.4" font-family="'Liberation Serif','Noto Serif CJK KR','Noto Serif CJK SC',serif" font-size="11.5" fill="#636363" textLength="87.5" lengthAdjust="spacingAndGlyphs">GL25 Glass Screw</text>
<text x="114.6" y="1137.4" font-family="'Liberation Serif','Noto Serif CJK KR','Noto Serif CJK SC',serif" font-size="11.5" fill="#636363" textLength="10.4" lengthAdjust="spacingAndGlyphs">25</text>
<rect x="130.9" y="1142.0" width="28.0" height="26.2" fill="#fff" stroke="#222" stroke-width="1"/>
<path d="M128.4,1126.9 L128.4,1138.6 A16.8,5.4 0 0 0 162.0,1138.6 L162.0,1126.9 Z" fill="#d6d6d6" stroke="#444" stroke-width="0.8"/>
<path d="M128.4,1129.8 A16.8,5.4 0 0 0 162.0,1129.8" fill="none" stroke="#4a4a4a" stroke-width="1.0"/>
<path d="M128.4,1132.8 A16.8,5.4 0 0 0 162.0,1132.8" fill="none" stroke="#4a4a4a" stroke-width="1.0"/>
<path d="M128.4,1135.7 A16.8,5.4 0 0 0 162.0,1135.7" fill="none" stroke="#4a4a4a" stroke-width="1.0"/>
<path d="M128.4,1138.6 A16.8,5.4 0 0 0 162.0,1138.6" fill="none" stroke="#4a4a4a" stroke-width="1.0"/>
<ellipse cx="145.2" cy="1126.9" rx="16.8" ry="5.4" fill="#f0f0f0" stroke="#555" stroke-width="0.9"/>
<ellipse cx="145.2" cy="1126.9" rx="14.6" ry="4.4" fill="#fff" stroke="#666" stroke-width="0.7"/>
<text x="123.3" y="1181.8" font-family="'Liberation Serif','Noto Serif CJK KR','Noto Serif CJK SC',serif" font-size="11.5" fill="#636363" textLength="38.7" lengthAdjust="spacingAndGlyphs">22*1.8T</text>
<text x="194.9" y="1118.4" font-family="'Liberation Serif','Noto Serif CJK KR','Noto Serif CJK SC',serif" font-size="11.5" fill="#636363" textLength="81.3" lengthAdjust="spacingAndGlyphs">GL25 Closed Cap</text>
<path d="M215.0,1158.3 A17.3,3.7 0 0 0 249.6,1158.3 L249.6,1156.3 L215.0,1156.3 Z" fill="#e0481a" stroke="#8f2a0c" stroke-width="0.7"/>
<path d="M216.5,1147.0 L216.0,1156.8 A16.3,3.7 0 0 0 248.6,1156.8 L248.1,1147.0 Z" fill="url(#ribO)" stroke="#8f2a0c" stroke-width="0.7"/>
<ellipse cx="232.3" cy="1147.0" rx="15.8" ry="3.7" fill="#e0481a" stroke="#8f2a0c" stroke-width="0.7"/>
<text x="305.0" y="1117.8" font-family="'Liberation Serif','Noto Serif CJK KR','Noto Serif CJK SC',serif" font-size="11.5" fill="#636363" textLength="73.3" lengthAdjust="spacingAndGlyphs">GL25 Open Cap</text>
<path d="M319.8,1158.3 A16.2,3.7 0 0 0 352.3,1158.3 L352.3,1156.3 L319.8,1156.3 Z" fill="#e0481a" stroke="#8f2a0c" stroke-width="0.7"/>
<path d="M321.3,1147.0 L320.8,1156.8 A15.2,3.7 0 0 0 351.3,1156.8 L350.8,1147.0 Z" fill="url(#ribO)" stroke="#8f2a0c" stroke-width="0.7"/>
<ellipse cx="336.1" cy="1147.0" rx="14.8" ry="3.7" fill="#e0481a" stroke="#8f2a0c" stroke-width="0.7"/>
<ellipse cx="336.1" cy="1147.2" rx="9.1" ry="2.2" fill="#fff" stroke="#8f2a0c" stroke-width="0.6"/>
<text x="318.8" y="1174.5" font-family="'Liberation Serif','Noto Serif CJK KR','Noto Serif CJK SC',serif" font-size="11.5" fill="#636363" textLength="36.2" lengthAdjust="spacingAndGlyphs">Hole 15</text>
<text x="404.6" y="1118.4" font-family="'Liberation Serif','Noto Serif CJK KR','Noto Serif CJK SC',serif" font-size="11.5" fill="#636363" textLength="96.9" lengthAdjust="spacingAndGlyphs">GL25 Piercing Septa</text>
<text x="402.2" y="1135.0" font-family="'Liberation Serif','Noto Serif CJK KR','Noto Serif CJK SC',serif" font-size="11.5" fill="#636363" textLength="123.5" lengthAdjust="spacingAndGlyphs">Silicon, PTFE/Butylrubber</text>
<text x="419.5" y="1149.5" font-family="'Liberation Serif','Noto Serif CJK KR','Noto Serif CJK SC',serif" font-size="11.5" fill="#636363" textLength="75.1" lengthAdjust="spacingAndGlyphs">(Syringe 사용시)</text>
<text x="444.4" y="1166.8" font-family="'Liberation Serif','Noto Serif CJK KR','Noto Serif CJK SC',serif" font-size="11.5" fill="#636363" textLength="29.4" lengthAdjust="spacingAndGlyphs">OD 23</text>
<line x1="444.4" y1="1168.3" x2="473.8" y2="1168.3" stroke="#555" stroke-width="0.7"/>
<ellipse cx="458.8" cy="1177.0" rx="18.6" ry="5.8" fill="#e6e6e6" stroke="#555" stroke-width="0.8"/>
<ellipse cx="458.8" cy="1175.0" rx="18.6" ry="5.8" fill="url(#disc)" stroke="#555" stroke-width="0.8"/>
<text x="520.5" y="1120.1" font-family="'Liberation Serif','Noto Serif CJK KR','Noto Serif CJK SC',serif" font-size="11.5" fill="#636363" textLength="131.5" lengthAdjust="spacingAndGlyphs">GL25 Washer Sealing Septa</text>
<text x="550.6" y="1136.4" font-family="'Liberation Serif','Noto Serif CJK KR','Noto Serif CJK SC',serif" font-size="11.5" fill="#636363" textLength="61.6" lengthAdjust="spacingAndGlyphs">Hole ID 8mm</text>
<text x="550.6" y="1150.2" font-family="'Liberation Serif','Noto Serif CJK KR','Noto Serif CJK SC',serif" font-size="11.5" fill="#636363" textLength="99.0" lengthAdjust="spacingAndGlyphs">Hole ID 3/8&quot; , 10mm</text>
<text x="550.6" y="1165.8" font-family="'Liberation Serif','Noto Serif CJK KR','Noto Serif CJK SC',serif" font-size="11.5" fill="#636363" textLength="92.8" lengthAdjust="spacingAndGlyphs">Hole ID 12mm, 1/2&quot;</text>
<ellipse cx="577.6" cy="1183.5" rx="19.0" ry="9.0" fill="#e9c962" stroke="#8a7a3a" stroke-width="0.7"/>
<ellipse cx="577.6" cy="1180.7" rx="19.0" ry="9.0" fill="#fdfdf6" stroke="#555" stroke-width="0.8"/>
<ellipse cx="577.6" cy="1180.7" rx="8.6" ry="4.0" fill="#fff" stroke="#555" stroke-width="0.8"/>
<text x="670.4" y="1118.4" font-family="'Liberation Serif','Noto Serif CJK KR','Noto Serif CJK SC',serif" font-size="11.5" fill="#636363" textLength="143.6" lengthAdjust="spacingAndGlyphs">GL25 Open Cap and Connector</text>
<text x="747.5" y="1136.8" font-family="'Liberation Serif','Noto Serif CJK KR','Noto Serif CJK SC',serif" font-size="11.5" fill="#636363" textLength="29.1" lengthAdjust="spacingAndGlyphs">OD 15</text>
<path d="M704.0,1179.8 A13.5,4.0 0 0 0 731.0,1179.8 L731.0,1177.8 L704.0,1177.8 Z" fill="#e0481a" stroke="#8f2a0c" stroke-width="0.7"/>
<path d="M705.5,1168.0 L705.0,1178.3 A12.5,4.0 0 0 0 730.0,1178.3 L729.5,1168.0 Z" fill="url(#ribO)" stroke="#8f2a0c" stroke-width="0.7"/>
<ellipse cx="717.5" cy="1168.0" rx="12.0" ry="4.0" fill="#e0481a" stroke="#8f2a0c" stroke-width="0.7"/>
<ellipse cx="717.5" cy="1168.2" rx="7.4" ry="2.4" fill="#fff" stroke="#8f2a0c" stroke-width="0.6"/>
<rect x="714.4" y="1145.6" width="7.2" height="24.3" fill="#fff" stroke="#333" stroke-width="0.8"/>
<path d="M714.4,1126.7 L721.6,1126.7 L724.0,1132.0 L722.3,1133.3 L713.7,1133.3 L712.0,1132.0 Z" fill="#fff" stroke="#333" stroke-width="0.8"/>
<path d="M714.4,1133.3 L721.6,1133.3 L724.0,1138.6 L722.3,1140.0 L713.7,1140.0 L712.0,1138.6 Z" fill="#fff" stroke="#333" stroke-width="0.8"/>
<path d="M714.4,1140.0 L721.6,1140.0 L724.0,1145.3 L722.3,1146.6 L713.7,1146.6 L712.0,1145.3 Z" fill="#fff" stroke="#333" stroke-width="0.8"/>
<rect x="714.8" y="1127.1" width="6.4" height="1.6" fill="#cfcfcf"/>
<text x="833.0" y="1118.4" font-family="'Liberation Serif','Noto Serif CJK KR','Noto Serif CJK SC',serif" font-size="11.5" fill="#636363" textLength="131.9" lengthAdjust="spacingAndGlyphs">GL25 Screw Type SVS Cap</text>
<path d="M857.1,1129.5 L870.6,1129.5 A3.7,13.0 0 0 1 870.6,1155.4 L857.1,1155.4 A2.6,13.0 0 0 1 857.1,1129.5 Z" fill="url(#ribH)" stroke="#8f2a0c" stroke-width="0.8"/>
<ellipse cx="870.6" cy="1142.5" rx="3.7" ry="13.0" fill="#e0481a" stroke="#8f2a0c" stroke-width="0.7"/>
<path d="M901.4,1129.5 L887.9,1129.5 A3.7,13.0 0 0 0 887.9,1155.4 L901.4,1155.4 A2.6,13.0 0 0 0 901.4,1129.5 Z" fill="url(#ribH)" stroke="#8f2a0c" stroke-width="0.8"/>
<ellipse cx="887.9" cy="1142.5" rx="3.7" ry="13.0" fill="#e0481a" stroke="#8f2a0c" stroke-width="0.7"/>
<rect x="871.6" y="1135.5" width="15.2" height="14.0" fill="#fff"/>
<line x1="872.6" y1="1135.5" x2="885.9" y2="1135.5" stroke="#bdbdbd" stroke-width="1.3"/>
<line x1="872.6" y1="1149.4" x2="885.9" y2="1149.4" stroke="#bdbdbd" stroke-width="1.3"/>
<ellipse cx="872.2" cy="1142.5" rx="2.8" ry="7.6" fill="#fff"/>
<ellipse cx="886.3" cy="1142.5" rx="2.8" ry="7.6" fill="#fff"/>
<text x="92.8" y="1222.2" font-family="'Liberation Serif','Noto Serif CJK KR','Noto Serif CJK SC',serif" font-size="11.5" fill="#636363" textLength="87.5" lengthAdjust="spacingAndGlyphs">GL32 Glass Screw</text>
<text x="112.9" y="1243.7" font-family="'Liberation Serif','Noto Serif CJK KR','Noto Serif CJK SC',serif" font-size="11.5" fill="#636363" textLength="11.4" lengthAdjust="spacingAndGlyphs">32</text>
<rect x="130.9" y="1250.0" width="32.1" height="28.3" fill="#fff" stroke="#222" stroke-width="1"/>
<path d="M127.8,1232.8 L127.8,1246.2 A18.1,5.8 0 0 0 164.0,1246.2 L164.0,1232.8 Z" fill="#d6d6d6" stroke="#444" stroke-width="0.8"/>
<path d="M127.8,1236.1 A18.1,5.8 0 0 0 164.0,1236.1" fill="none" stroke="#4a4a4a" stroke-width="1.0"/>
<path d="M127.8,1239.5 A18.1,5.8 0 0 0 164.0,1239.5" fill="none" stroke="#4a4a4a" stroke-width="1.0"/>
<path d="M127.8,1242.9 A18.1,5.8 0 0 0 164.0,1242.9" fill="none" stroke="#4a4a4a" stroke-width="1.0"/>
<path d="M127.8,1246.2 A18.1,5.8 0 0 0 164.0,1246.2" fill="none" stroke="#4a4a4a" stroke-width="1.0"/>
<ellipse cx="145.9" cy="1232.8" rx="18.1" ry="5.8" fill="#f0f0f0" stroke="#555" stroke-width="0.9"/>
<ellipse cx="145.9" cy="1232.8" rx="15.9" ry="4.8" fill="#fff" stroke="#666" stroke-width="0.7"/>
<text x="126.0" y="1292.1" font-family="'Liberation Serif','Noto Serif CJK KR','Noto Serif CJK SC',serif" font-size="11.5" fill="#636363" textLength="38.8" lengthAdjust="spacingAndGlyphs">28*2.0T</text>
<text x="194.9" y="1223.2" font-family="'Liberation Serif','Noto Serif CJK KR','Noto Serif CJK SC',serif" font-size="11.5" fill="#636363" textLength="81.3" lengthAdjust="spacingAndGlyphs">GL32 Closed Cap</text>
<path d="M212.2,1262.6 A19.9,4.3 0 0 0 252.0,1262.6 L252.0,1260.6 L212.2,1260.6 Z" fill="#e0481a" stroke="#8f2a0c" stroke-width="0.7"/>
<path d="M213.7,1249.7 L213.2,1261.1 A18.9,4.3 0 0 0 251.0,1261.1 L250.5,1249.7 Z" fill="url(#ribO)" stroke="#8f2a0c" stroke-width="0.7"/>
<ellipse cx="232.1" cy="1249.7" rx="18.4" ry="4.3" fill="#e0481a" stroke="#8f2a0c" stroke-width="0.7"/>
<text x="305.0" y="1222.8" font-family="'Liberation Serif','Noto Serif CJK KR','Noto Serif CJK SC',serif" font-size="11.5" fill="#636363" textLength="73.3" lengthAdjust="spacingAndGlyphs">GL32 Open Cap</text>
<path d="M317.0,1263.2 A20.4,4.4 0 0 0 357.9,1263.2 L357.9,1261.2 L317.0,1261.2 Z" fill="#e0481a" stroke="#8f2a0c" stroke-width="0.7"/>
<path d="M318.5,1249.8 L318.0,1261.7 A19.4,4.4 0 0 0 356.9,1261.7 L356.4,1249.8 Z" fill="url(#ribO)" stroke="#8f2a0c" stroke-width="0.7"/>
<ellipse cx="337.4" cy="1249.8" rx="18.9" ry="4.4" fill="#e0481a" stroke="#8f2a0c" stroke-width="0.7"/>
<ellipse cx="337.4" cy="1250.0" rx="11.7" ry="2.6" fill="#fff" stroke="#8f2a0c" stroke-width="0.6"/>
<text x="318.8" y="1281.0" font-family="'Liberation Serif','Noto Serif CJK KR','Noto Serif CJK SC',serif" font-size="11.5" fill="#636363" textLength="36.2" lengthAdjust="spacingAndGlyphs">Hole 20</text>
<text x="404.6" y="1223.2" font-family="'Liberation Serif','Noto Serif CJK KR','Noto Serif CJK SC',serif" font-size="11.5" fill="#636363" textLength="96.9" lengthAdjust="spacingAndGlyphs">GL32 Piercing Septa</text>
<text x="402.2" y="1240.2" font-family="'Liberation Serif','Noto Serif CJK KR','Noto Serif CJK SC',serif" font-size="11.5" fill="#636363" textLength="123.5" lengthAdjust="spacingAndGlyphs">Silicon, PTFE/Butylrubber</text>
<text x="419.5" y="1254.4" font-family="'Liberation Serif','Noto Serif CJK KR','Noto Serif CJK SC',serif" font-size="11.5" fill="#636363" textLength="75.1" lengthAdjust="spacingAndGlyphs">(Syringe 사용시)</text>
<text x="447.9" y="1272.4" font-family="'Liberation Serif','Noto Serif CJK KR','Noto Serif CJK SC',serif" font-size="11.5" fill="#636363" textLength="29.4" lengthAdjust="spacingAndGlyphs">OD 30</text>
<line x1="447.9" y1="1273.6" x2="477.3" y2="1273.6" stroke="#555" stroke-width="0.7"/>
<ellipse cx="462.7" cy="1282.6" rx="22.5" ry="6.1" fill="#e6e6e6" stroke="#555" stroke-width="0.8"/>
<ellipse cx="462.7" cy="1280.6" rx="22.5" ry="6.1" fill="url(#disc)" stroke="#555" stroke-width="0.8"/>
<text x="520.5" y="1225.7" font-family="'Liberation Serif','Noto Serif CJK KR','Noto Serif CJK SC',serif" font-size="11.5" fill="#636363" textLength="131.5" lengthAdjust="spacingAndGlyphs">GL32 Washer Sealing Septa</text>
<text x="550.6" y="1241.2" font-family="'Liberation Serif','Noto Serif CJK KR','Noto Serif CJK SC',serif" font-size="11.5" fill="#636363" textLength="66.4" lengthAdjust="spacingAndGlyphs">Hole ID 10mm</text>
<text x="550.6" y="1254.4" font-family="'Liberation Serif','Noto Serif CJK KR','Noto Serif CJK SC',serif" font-size="11.5" fill="#636363" textLength="92.8" lengthAdjust="spacingAndGlyphs">Hole ID 12mm, 1/2&quot;</text>
<text x="550.6" y="1270.0" font-family="'Liberation Serif','Noto Serif CJK KR','Noto Serif CJK SC',serif" font-size="11.5" fill="#636363" textLength="66.4" lengthAdjust="spacingAndGlyphs">Hole ID 14mm</text>
<text x="550.6" y="1283.5" font-family="'Liberation Serif','Noto Serif CJK KR','Noto Serif CJK SC',serif" font-size="11.5" fill="#636363" textLength="66.4" lengthAdjust="spacingAndGlyphs">Hole ID 16mm</text>
<text x="550.6" y="1295.8" font-family="'Liberation Serif','Noto Serif CJK KR','Noto Serif CJK SC',serif" font-size="11.5" fill="#636363" textLength="66.4" lengthAdjust="spacingAndGlyphs">Hole ID 18mm</text>
<ellipse cx="577.5" cy="1310.1" rx="21.9" ry="10.3" fill="#e9c962" stroke="#8a7a3a" stroke-width="0.7"/>
<ellipse cx="577.5" cy="1307.3" rx="21.9" ry="10.3" fill="#fdfdf6" stroke="#555" stroke-width="0.8"/>
<ellipse cx="577.5" cy="1307.3" rx="9.9" ry="4.6" fill="#fff" stroke="#555" stroke-width="0.8"/>
<text x="672.8" y="1226.1" font-family="'Liberation Serif','Noto Serif CJK KR','Noto Serif CJK SC',serif" font-size="10.5" fill="#636363" textLength="130.2" lengthAdjust="spacingAndGlyphs">GL14 Open Cap and Connector</text>
<text x="708.4" y="1237.0" font-family="'Liberation Serif','Noto Serif CJK KR','Noto Serif CJK SC',serif" font-size="9" fill="#636363" textLength="69.9" lengthAdjust="spacingAndGlyphs">(루버튜브 연결용)</text>
<text x="747.5" y="1253.4" font-family="'Liberation Serif','Noto Serif CJK KR','Noto Serif CJK SC',serif" font-size="11.5" fill="#636363" textLength="23.2" lengthAdjust="spacingAndGlyphs">OD 8</text>
<path d="M717.3,1270.6 L717.3,1262.6 Q717.3,1254.6 726.4,1252.0 L734.4,1244.0" fill="none" stroke="#333" stroke-width="7.6" stroke-linejoin="round"/>
<path d="M717.3,1270.6 L717.3,1262.6 Q717.3,1254.6 726.4,1252.0 L734.4,1244.0" fill="none" stroke="#fff" stroke-width="6" stroke-linejoin="round"/>
<line x1="730.4" y1="1242.1" x2="736.3" y2="1248.0" stroke="#333" stroke-width="0.9"/>
<line x1="728.1" y1="1244.4" x2="734.0" y2="1250.3" stroke="#333" stroke-width="0.9"/>
<line x1="725.8" y1="1246.6" x2="731.8" y2="1252.6" stroke="#333" stroke-width="0.9"/>
<path d="M708.4,1276.5 A8.9,2.5 0 0 0 726.2,1276.5 L726.2,1274.5 L708.4,1274.5 Z" fill="#e0481a" stroke="#8f2a0c" stroke-width="0.7"/>
<path d="M709.9,1269.1 L709.4,1275.0 A7.9,2.5 0 0 0 725.2,1275.0 L724.7,1269.1 Z" fill="url(#ribO)" stroke="#8f2a0c" stroke-width="0.7"/>
<ellipse cx="717.3" cy="1269.1" rx="7.4" ry="2.5" fill="#e0481a" stroke="#8f2a0c" stroke-width="0.7"/>
<ellipse cx="717.3" cy="1269.3" rx="4.6" ry="1.5" fill="#fff" stroke="#8f2a0c" stroke-width="0.6"/>
<text x="672.8" y="1292.2" font-family="'Liberation Serif','Noto Serif CJK KR','Noto Serif CJK SC',serif" font-size="10.5" fill="#636363" textLength="130.2" lengthAdjust="spacingAndGlyphs">GL18 Open Cap and Connector</text>
<text x="747.6" y="1311.1" font-family="'Liberation Serif','Noto Serif CJK KR','Noto Serif CJK SC',serif" font-size="11.5" fill="#636363" textLength="29.4" lengthAdjust="spacingAndGlyphs">OD 10</text>
<path d="M717.0,1339.8 L717.0,1331.8 Q717.0,1323.8 733.5,1313.0 L741.5,1305.0" fill="none" stroke="#333" stroke-width="9.6" stroke-linejoin="round"/>
<path d="M717.0,1339.8 L717.0,1331.8 Q717.0,1323.8 733.5,1313.0 L741.5,1305.0" fill="none" stroke="#fff" stroke-width="8" stroke-linejoin="round"/>
<line x1="736.8" y1="1302.4" x2="744.1" y2="1309.7" stroke="#333" stroke-width="0.9"/>
<line x1="734.5" y1="1304.6" x2="741.9" y2="1312.0" stroke="#333" stroke-width="0.9"/>
<line x1="732.2" y1="1306.9" x2="739.6" y2="1314.3" stroke="#333" stroke-width="0.9"/>
<path d="M705.2,1349.3 A11.8,3.4 0 0 0 728.7,1349.3 L728.7,1347.3 L705.2,1347.3 Z" fill="#e0481a" stroke="#8f2a0c" stroke-width="0.7"/>
<path d="M706.7,1339.2 L706.2,1347.8 A10.8,3.4 0 0 0 727.7,1347.8 L727.2,1339.2 Z" fill="url(#ribO)" stroke="#8f2a0c" stroke-width="0.7"/>
<ellipse cx="717.0" cy="1339.2" rx="10.2" ry="3.4" fill="#e0481a" stroke="#8f2a0c" stroke-width="0.7"/>
<ellipse cx="717.0" cy="1339.4" rx="6.4" ry="2.0" fill="#fff" stroke="#8f2a0c" stroke-width="0.6"/>
<text x="832.0" y="1225.7" font-family="'Liberation Serif','Noto Serif CJK KR','Noto Serif CJK SC',serif" font-size="11.5" fill="#636363" textLength="131.9" lengthAdjust="spacingAndGlyphs">GL32 Screw Type SVS Cap</text>
<path d="M852.2,1235.7 L869.0,1235.7 A4.1,15.6 0 0 1 869.0,1266.9 L852.2,1266.9 A2.6,15.6 0 0 1 852.2,1235.7 Z" fill="url(#ribH)" stroke="#8f2a0c" stroke-width="0.8"/>
<ellipse cx="869.0" cy="1251.3" rx="4.1" ry="15.6" fill="#e0481a" stroke="#8f2a0c" stroke-width="0.7"/>
<path d="M905.8,1235.7 L889.0,1235.7 A4.1,15.6 0 0 0 889.0,1266.9 L905.8,1266.9 A2.6,15.6 0 0 0 905.8,1235.7 Z" fill="url(#ribH)" stroke="#8f2a0c" stroke-width="0.8"/>
<ellipse cx="889.0" cy="1251.3" rx="4.1" ry="15.6" fill="#e0481a" stroke="#8f2a0c" stroke-width="0.7"/>
<rect x="870.0" y="1242.9" width="18.0" height="16.8" fill="#fff"/>
<line x1="871.0" y1="1242.9" x2="887.0" y2="1242.9" stroke="#bdbdbd" stroke-width="1.3"/>
<line x1="871.0" y1="1259.7" x2="887.0" y2="1259.7" stroke="#bdbdbd" stroke-width="1.3"/>
<ellipse cx="870.6" cy="1251.3" rx="3.1" ry="9.0" fill="#fff"/>
<ellipse cx="887.4" cy="1251.3" rx="3.1" ry="9.0" fill="#fff"/>
<text x="89.3" y="1328.4" font-family="'Liberation Serif','Noto Serif CJK KR','Noto Serif CJK SC',serif" font-size="11.5" fill="#636363" textLength="87.2" lengthAdjust="spacingAndGlyphs">GL45 Glass Screw</text>
<text x="112.5" y="1349.2" font-family="'Liberation Serif','Noto Serif CJK KR','Noto Serif CJK SC',serif" font-size="11.5" fill="#636363" textLength="11.0" lengthAdjust="spacingAndGlyphs">45</text>
<rect x="130.8" y="1366.9" width="40.5" height="25.1" fill="#fff" stroke="#222" stroke-width="1"/>
<path d="M127.3,1344.2 L127.3,1361.4 A23.4,7.5 0 0 0 174.0,1361.4 L174.0,1344.2 Z" fill="#d6d6d6" stroke="#444" stroke-width="0.8"/>
<path d="M127.3,1347.0 A23.4,7.5 0 0 0 174.0,1347.0" fill="none" stroke="#4a4a4a" stroke-width="1.0"/>
<path d="M127.3,1349.9 A23.4,7.5 0 0 0 174.0,1349.9" fill="none" stroke="#4a4a4a" stroke-width="1.0"/>
<path d="M127.3,1352.8 A23.4,7.5 0 0 0 174.0,1352.8" fill="none" stroke="#4a4a4a" stroke-width="1.0"/>
<path d="M127.3,1355.7 A23.4,7.5 0 0 0 174.0,1355.7" fill="none" stroke="#4a4a4a" stroke-width="1.0"/>
<path d="M127.3,1358.6 A23.4,7.5 0 0 0 174.0,1358.6" fill="none" stroke="#4a4a4a" stroke-width="1.0"/>
<path d="M127.3,1361.4 A23.4,7.5 0 0 0 174.0,1361.4" fill="none" stroke="#4a4a4a" stroke-width="1.0"/>
<ellipse cx="150.7" cy="1344.2" rx="23.4" ry="7.5" fill="#f0f0f0" stroke="#555" stroke-width="0.9"/>
<ellipse cx="150.7" cy="1344.2" rx="21.2" ry="6.5" fill="#fff" stroke="#666" stroke-width="0.7"/>
<text x="130.8" y="1405.2" font-family="'Liberation Serif','Noto Serif CJK KR','Noto Serif CJK SC',serif" font-size="11.5" fill="#636363" textLength="38.8" lengthAdjust="spacingAndGlyphs">40*3.2T</text>
<text x="191.3" y="1330.1" font-family="'Liberation Serif','Noto Serif CJK KR','Noto Serif CJK SC',serif" font-size="11.5" fill="#636363" textLength="82.1" lengthAdjust="spacingAndGlyphs">GL45 Closed Cap</text>
<path d="M205.9,1375.4 A24.5,5.3 0 0 0 255.0,1375.4 L255.0,1373.4 L205.9,1373.4 Z" fill="#e0481a" stroke="#8f2a0c" stroke-width="0.7"/>
<path d="M207.4,1359.3 L206.9,1373.9 A23.5,5.3 0 0 0 254.0,1373.9 L253.5,1359.3 Z" fill="url(#ribO)" stroke="#8f2a0c" stroke-width="0.7"/>
<ellipse cx="230.4" cy="1359.3" rx="23.0" ry="5.3" fill="#e0481a" stroke="#8f2a0c" stroke-width="0.7"/>
<text x="302.0" y="1330.1" font-family="'Liberation Serif','Noto Serif CJK KR','Noto Serif CJK SC',serif" font-size="11.5" fill="#636363" textLength="73.5" lengthAdjust="spacingAndGlyphs">GL45 Open Cap</text>
<path d="M314.2,1374.5 A24.8,5.2 0 0 0 363.7,1374.5 L363.7,1372.5 L314.2,1372.5 Z" fill="#e0481a" stroke="#8f2a0c" stroke-width="0.7"/>
<path d="M315.7,1358.5 L315.2,1373.0 A23.8,5.2 0 0 0 362.7,1373.0 L362.2,1358.5 Z" fill="url(#ribO)" stroke="#8f2a0c" stroke-width="0.7"/>
<ellipse cx="338.9" cy="1358.5" rx="23.2" ry="5.2" fill="#e0481a" stroke="#8f2a0c" stroke-width="0.7"/>
<ellipse cx="338.9" cy="1358.7" rx="14.4" ry="3.1" fill="#fff" stroke="#8f2a0c" stroke-width="0.6"/>
<text x="319.4" y="1395.8" font-family="'Liberation Serif','Noto Serif CJK KR','Noto Serif CJK SC',serif" font-size="11.5" fill="#636363" textLength="36.3" lengthAdjust="spacingAndGlyphs">Hole 34</text>
<text x="404.9" y="1330.1" font-family="'Liberation Serif','Noto Serif CJK KR','Noto Serif CJK SC',serif" font-size="11.5" fill="#636363" textLength="96.1" lengthAdjust="spacingAndGlyphs">GL45 Piercing Septa</text>
<text x="402.5" y="1348.1" font-family="'Liberation Serif','Noto Serif CJK KR','Noto Serif CJK SC',serif" font-size="11.5" fill="#636363" textLength="123.5" lengthAdjust="spacingAndGlyphs">Silicon, PTFE/Butylrubber</text>
<text x="419.8" y="1362.3" font-family="'Liberation Serif','Noto Serif CJK KR','Noto Serif CJK SC',serif" font-size="11.5" fill="#636363" textLength="75.0" lengthAdjust="spacingAndGlyphs">(Syringe 사용시)</text>
<text x="450.2" y="1378.6" font-family="'Liberation Serif','Noto Serif CJK KR','Noto Serif CJK SC',serif" font-size="11.5" fill="#636363" textLength="29.1" lengthAdjust="spacingAndGlyphs">OD 42</text>
<line x1="450.2" y1="1380.0" x2="479.3" y2="1380.0" stroke="#555" stroke-width="0.7"/>
<ellipse cx="467.0" cy="1389.6" rx="27.2" ry="5.9" fill="#e6e6e6" stroke="#555" stroke-width="0.8"/>
<ellipse cx="467.0" cy="1387.6" rx="27.2" ry="5.9" fill="url(#disc)" stroke="#555" stroke-width="0.8"/>
<text x="521.8" y="1330.1" font-family="'Liberation Serif','Noto Serif CJK KR','Noto Serif CJK SC',serif" font-size="11.5" fill="#636363" textLength="131.3" lengthAdjust="spacingAndGlyphs">GL45 Washer Sealing Septa</text>
<text x="550.4" y="1348.1" font-family="'Liberation Serif','Noto Serif CJK KR','Noto Serif CJK SC',serif" font-size="11.5" fill="#636363" textLength="89.3" lengthAdjust="spacingAndGlyphs">Hole ID 1&quot; . 26mm</text>
<text x="550.4" y="1362.0" font-family="'Liberation Serif','Noto Serif CJK KR','Noto Serif CJK SC',serif" font-size="11.5" fill="#636363" textLength="66.4" lengthAdjust="spacingAndGlyphs">Hole ID 32mm</text>
<ellipse cx="578.1" cy="1385.1" rx="29.4" ry="11.1" fill="#e9c962" stroke="#8a7a3a" stroke-width="0.7"/>
<ellipse cx="578.1" cy="1382.3" rx="29.4" ry="11.1" fill="#fdfdf6" stroke="#555" stroke-width="0.8"/>
<ellipse cx="578.1" cy="1382.3" rx="13.2" ry="5.0" fill="#fff" stroke="#555" stroke-width="0.8"/>
<text x="910.9" y="1340.7" font-family="'Liberation Serif','Noto Serif CJK KR','Noto Serif CJK SC',serif" font-size="23.5" font-weight="bold" fill="#e0141e" textLength="97.5" lengthAdjust="spacingAndGlyphs">CHOJALAB</text>
<rect x="910.9" y="1344.1" width="98.3" height="24.6" fill="#fff" stroke="#222" stroke-width="1.2" rx="5"/>
<text x="910.9" y="1382.2" font-family="'Liberation Mono','Noto Sans Mono CJK KR',monospace" font-size="10.5" fill="#111" textLength="98.5" lengthAdjust="spacingAndGlyphs">PYREX brand Chojalab Glassware</text>
<text x="910.9" y="1395.0" font-family="'Liberation Mono','Noto Sans Mono CJK KR',monospace" font-size="10.5" fill="#111" textLength="98.5" lengthAdjust="spacingAndGlyphs">Iwaki and Schott glass tube/rod</text>
<text x="910.9" y="1407.8" font-family="'Liberation Mono','Noto Sans Mono CJK KR',monospace" font-size="10.5" fill="#111" textLength="98.5" lengthAdjust="spacingAndGlyphs">Thermal Expansion α=32.5x10⁻⁷/℃</text>
</g><text x="32.2" y="1438.0" font-family="'Liberation Sans','NanumGothic','Noto Sans CJK KR',sans-serif" font-size="16" fill="#111" textLength="980.8" lengthAdjust="spacingAndGlyphs">*상기 images는 user의 이해를 돕기위한 images이며 brand, exchange rate, 단종, 재고소진, 제작전 사용자의 요청등 외부요인</text>
<text x="37.4" y="1457.8" font-family="'Liberation Sans','NanumGothic','Noto Sans CJK KR',sans-serif" font-size="16" fill="#111" textLength="789.6" lengthAdjust="spacingAndGlyphs">과 신상품개발, 좀더 개선된 제품의 개발등 내부요인에 따라 변경될 수 있으므로 참고 하시기 바랍니다.</text>
<text x="32.2" y="1480.3" font-family="'Liberation Sans','NanumGothic','Noto Sans CJK KR',sans-serif" font-size="16" fill="#111" textLength="164.0" lengthAdjust="spacingAndGlyphs">*Copyright © 초자랩.</text>
<text x="227.5" y="1480.3" font-family="'Liberation Sans','NanumGothic','Noto Sans CJK KR',sans-serif" font-size="16" fill="#111" textLength="157.5" lengthAdjust="spacingAndGlyphs">All Rights Reserved.</text>
<text x="12.1" y="1537.0" font-family="'Liberation Sans','NanumGothic','Noto Sans CJK KR',sans-serif" font-size="19.4" font-weight="bold" fill="#000" textLength="278.6" lengthAdjust="spacingAndGlyphs">Bottle, Bottle with GL Screw</text>
<text x="909.0" y="1537.5" font-family="'Liberation Sans','NanumGothic','Noto Sans CJK KR',sans-serif" font-size="19.4" font-weight="bold" fill="#000" textLength="82.0" lengthAdjust="spacingAndGlyphs">bot-25-</text>
<rect x="8.0" y="1543.0" width="993.0" height="36.6" fill="#dddddd"/>
<text x="11.0" y="1556.7" font-family="'Liberation Sans','NanumGothic','Noto Sans CJK KR',sans-serif" font-size="14.5" fill="#1a1a1a" textLength="49.6" lengthAdjust="spacing">MODEL</text>
<text x="11.0" y="1576.4" font-family="'Liberation Sans','NanumGothic','Noto Sans CJK KR',sans-serif" font-size="14.5" fill="#1a1a1a" textLength="61.7" lengthAdjust="spacing">NUMBER</text>
<text x="102.0" y="1557.8" font-family="'Liberation Sans','NanumGothic','Noto Sans CJK KR',sans-serif" font-size="14.5" fill="#1a1a1a" textLength="74.5" lengthAdjust="spacing">CAPACITY</text>
<text x="108.0" y="1574.0" font-family="'Liberation Sans','NanumGothic','Noto Sans CJK KR',sans-serif" font-size="14.5" fill="#1a1a1a" textLength="47.7" lengthAdjust="spacing">FLASK</text>
<text x="226.0" y="1557.8" font-family="'Liberation Sans','NanumGothic','Noto Sans CJK KR',sans-serif" font-size="14.5" fill="#1a1a1a" textLength="28.3" lengthAdjust="spacing">TOP</text>
<text transform="translate(215.1,1576.4) scale(1.18,1.48)" text-anchor="middle" font-family="'Liberation Sans','NanumGothic','Noto Sans CJK KR',sans-serif" font-size="10.0" font-weight="normal" fill="#111">T</text>
<text transform="translate(215.1,1577.6) scale(1.08,1.24)" text-anchor="middle" font-family="'Liberation Sans','NanumGothic','Noto Sans CJK KR',sans-serif" font-size="10.0" font-weight="normal" fill="#111">S</text>
<text x="221.8" y="1576.4" font-family="'Liberation Sans','NanumGothic','Noto Sans CJK KR',sans-serif" font-size="14.5" fill="#1a1a1a" textLength="44.6" lengthAdjust="spacing">JOINT</text>
<text x="309.7" y="1555.7" font-family="'Liberation Sans','NanumGothic','Noto Sans CJK KR',sans-serif" font-size="14.5" fill="#1a1a1a" textLength="63.3" lengthAdjust="spacing">BOTTOM</text>
<text transform="translate(315.8,1576.4) scale(1.18,1.48)" text-anchor="middle" font-family="'Liberation Sans','NanumGothic','Noto Sans CJK KR',sans-serif" font-size="10.0" font-weight="normal" fill="#111">T</text>
<text transform="translate(315.8,1577.6) scale(1.08,1.24)" text-anchor="middle" font-family="'Liberation Sans','NanumGothic','Noto Sans CJK KR',sans-serif" font-size="10.0" font-weight="normal" fill="#111">S</text>
<text x="322.5" y="1576.4" font-family="'Liberation Sans','NanumGothic','Noto Sans CJK KR',sans-serif" font-size="14.5" fill="#1a1a1a" textLength="45.4" lengthAdjust="spacing">JOINT</text>
<text x="648.5" y="1556.5" font-family="'Liberation Sans','NanumGothic','Noto Sans CJK KR',sans-serif" font-size="14.5" fill="#1a1a1a" textLength="79.0" lengthAdjust="spacing">TUBE SIZE</text>
<text x="655.0" y="1576.5" font-family="'Liberation Sans','NanumGothic','Noto Sans CJK KR',sans-serif" font-size="14.5" fill="#1a1a1a" textLength="51.5" lengthAdjust="spacing"><tspan>OD(</tspan><tspan font-size="10.5">MM</tspan><tspan>)</tspan></text>
<text x="947.5" y="1565.0" font-family="'Liberation Sans','NanumGothic','Noto Sans CJK KR',sans-serif" font-size="14.5" fill="#1a1a1a" textLength="42.5" lengthAdjust="spacing">PRICE</text>
<rect x="8.0" y="1602.8" width="993.0" height="18.0" fill="#dddddd"/>
<rect x="6.2" y="1644.3" width="994.8" height="18.3" fill="#dddddd"/>
<text x="12.7" y="1595.5" font-family="'Liberation Sans','NanumGothic','Noto Sans CJK KR',sans-serif" font-size="13.6" font-weight="bold" fill="#000" textLength="78.7" lengthAdjust="spacingAndGlyphs">bot-250100</text>
<text x="137.7" y="1595.5" font-family="'Liberation Sans','NanumGothic','Noto Sans CJK KR',sans-serif" font-size="13.6" font-weight="bold" fill="#000" textLength="23.2" lengthAdjust="spacingAndGlyphs">100</text>
<text x="459.6" y="1595.3" font-family="'Liberation Sans','NanumGothic','Noto Sans CJK KR',sans-serif" font-size="12.5" font-weight="bold" fill="#000" textLength="220.5" lengthAdjust="spacingAndGlyphs">TYPE A. TYPE B, TYPE C 중 선택</text>
<text x="11.8" y="1616.4" font-family="'Liberation Sans','NanumGothic','Noto Sans CJK KR',sans-serif" font-size="13.6" font-weight="bold" fill="#000" textLength="78.7" lengthAdjust="spacingAndGlyphs">bot-250250</text>
<text x="137.7" y="1616.4" font-family="'Liberation Sans','NanumGothic','Noto Sans CJK KR',sans-serif" font-size="13.6" font-weight="bold" fill="#000" textLength="23.2" lengthAdjust="spacingAndGlyphs">250</text>
<text x="459.6" y="1616.2" font-family="'Liberation Sans','NanumGothic','Noto Sans CJK KR',sans-serif" font-size="12.5" font-weight="bold" fill="#000" textLength="220.5" lengthAdjust="spacingAndGlyphs">TYPE A. TYPE B, TYPE C 중 선택</text>
<text x="11.8" y="1637.0" font-family="'Liberation Sans','NanumGothic','Noto Sans CJK KR',sans-serif" font-size="13.6" font-weight="bold" fill="#000" textLength="78.7" lengthAdjust="spacingAndGlyphs">bot-250500</text>
<text x="137.7" y="1637.0" font-family="'Liberation Sans','NanumGothic','Noto Sans CJK KR',sans-serif" font-size="13.6" font-weight="bold" fill="#000" textLength="23.2" lengthAdjust="spacingAndGlyphs">500</text>
<text x="459.6" y="1636.8" font-family="'Liberation Sans','NanumGothic','Noto Sans CJK KR',sans-serif" font-size="12.5" font-weight="bold" fill="#000" textLength="220.5" lengthAdjust="spacingAndGlyphs">TYPE A. TYPE B, TYPE C 중 선택</text>
<text x="10.4" y="1658.5" font-family="'Liberation Sans','NanumGothic','Noto Sans CJK KR',sans-serif" font-size="13.6" font-weight="bold" fill="#000" textLength="78.7" lengthAdjust="spacingAndGlyphs">bot-251000</text>
<text x="134.2" y="1658.5" font-family="'Liberation Sans','NanumGothic','Noto Sans CJK KR',sans-serif" font-size="13.6" font-weight="bold" fill="#000" textLength="31.5" lengthAdjust="spacingAndGlyphs">1000</text>
<text x="459.6" y="1658.3" font-family="'Liberation Sans','NanumGothic','Noto Sans CJK KR',sans-serif" font-size="12.5" font-weight="bold" fill="#000" textLength="220.5" lengthAdjust="spacingAndGlyphs">TYPE A. TYPE B, TYPE C 중 선택</text>
<text x="9.7" y="1677.6" font-family="'Liberation Sans','NanumGothic','Noto Sans CJK KR',sans-serif" font-size="13.6" font-weight="bold" fill="#000" textLength="78.7" lengthAdjust="spacingAndGlyphs">bot-252000</text>
<text x="134.2" y="1677.6" font-family="'Liberation Sans','NanumGothic','Noto Sans CJK KR',sans-serif" font-size="13.6" font-weight="bold" fill="#000" textLength="31.5" lengthAdjust="spacingAndGlyphs">2000</text>
<text x="461.1" y="1677.4" font-family="'Liberation Sans','NanumGothic','Noto Sans CJK KR',sans-serif" font-size="12.5" font-weight="bold" fill="#000" textLength="220.5" lengthAdjust="spacingAndGlyphs">TYPE A. TYPE B, TYPE C 중 선택</text>
<path d="M22.3,1738.3 L971.2,1738.3 C985.5,1738.3 993.2,1766.2 993.2,1800.3 L993.2,2909.5 C993.2,2946.9 984.1,2977.5 967.2,2977.5 L22.8,2977.5 C9.15,2977.5 1.8,2945.1 1.8,2905.5 L1.8,1800.3 C1.8,1766.2 8.975,1738.3 22.3,1738.3 Z" fill="none" stroke="#2a2a2a" stroke-width="1.4"/>
<text x="466.5" y="1800.2" font-family="'Liberation Sans','NanumGothic','Noto Sans CJK KR',sans-serif" font-size="25" font-weight="bold" fill="#000" textLength="93.0" lengthAdjust="spacingAndGlyphs">bot-25-</text>
<text x="203.0" y="1794.4" font-family="'Liberation Sans','NanumGothic','Noto Sans CJK KR',sans-serif" font-size="16" font-weight="bold" fill="#000" textLength="60.0" lengthAdjust="spacing">TYPE A</text>
<text x="746.8" y="1803.3" font-family="'Liberation Sans','NanumGothic','Noto Sans CJK KR',sans-serif" font-size="16" font-weight="bold" fill="#000" textLength="58.8" lengthAdjust="spacing">TYPE B</text>
<text x="201.6" y="2098.0" font-family="'Liberation Sans','NanumGothic','Noto Sans CJK KR',sans-serif" font-size="16" font-weight="bold" fill="#000" textLength="58.8" lengthAdjust="spacing">TYPE C</text>
<g transform="translate(0.0,0.0)"><rect x="85.5" y="1807.2" width="21.0" height="13.8" fill="#f2f2f2" stroke="#1a1a1a" stroke-width="0.9"/>
<rect x="85.5" y="1806.6" width="11.6" height="15.0" fill="url(#thrv)" stroke="#1a1a1a" stroke-width="0.9" rx="1.5"/>
<ellipse cx="85.5" cy="1814.1" rx="1.8" ry="7.5" fill="#f4f4f4" stroke="#1a1a1a" stroke-width="0.9"/>
<rect x="182.5" y="1807.2" width="20.0" height="13.8" fill="#f2f2f2" stroke="#1a1a1a" stroke-width="0.9"/>
<rect x="191.5" y="1806.6" width="11.0" height="15.0" fill="url(#thrv)" stroke="#1a1a1a" stroke-width="0.9" rx="1.5"/>
<ellipse cx="202.5" cy="1814.1" rx="1.8" ry="7.5" fill="#f4f4f4" stroke="#1a1a1a" stroke-width="0.9"/>
<rect x="136.7" y="1843.4" width="12.8" height="16.6" fill="#f2f2f2" stroke="#1a1a1a" stroke-width="0.9"/>
<rect x="136.1" y="1850.0" width="14.0" height="10.0" fill="url(#thrg)" stroke="#1a1a1a" stroke-width="0.9" rx="1.5"/>
<ellipse cx="143.1" cy="1860.0" rx="7.0" ry="1.8" fill="#f4f4f4" stroke="#1a1a1a" stroke-width="0.9"/>
<ellipse cx="144.5" cy="1813.4" rx="39.0" ry="32.0" fill="url(#ring)" stroke="#1a1a1a" stroke-width="1.3"/>
<ellipse cx="144.5" cy="1813.4" rx="21.6" ry="17.3" fill="#fff" stroke="#1a1a1a" stroke-width="1.2"/>
<text x="108.3" y="1870.0" font-family="'Liberation Serif','Noto Serif CJK KR','Noto Serif CJK SC',serif" font-size="9" fill="#636363" textLength="61.9" lengthAdjust="spacingAndGlyphs">GL45 Open Cap</text>
<g transform="translate(0,0)"><text x="188.6" y="1833.5" font-family="'Liberation Serif','Noto Serif CJK KR','Noto Serif CJK SC',serif" font-size="8.5" fill="#636363" textLength="57.8" lengthAdjust="spacingAndGlyphs">(주사기 사용시)</text>
<text x="189.6" y="1843.2" font-family="'Liberation Serif','Noto Serif CJK KR','Noto Serif CJK SC',serif" font-size="8.5" fill="#636363" textLength="55.0" lengthAdjust="spacingAndGlyphs">Piercing Septa</text>
<ellipse cx="216.2" cy="1863.2" rx="32.2" ry="11.5" fill="#e4e4e4" stroke="#1a1a1a" stroke-width="1"/>
<ellipse cx="216.2" cy="1860.7" rx="32.2" ry="11.5" fill="url(#disc2)" stroke="#1a1a1a" stroke-width="1"/>
</g><path d="M87.1,1960.0 L78.7,1949.1 L69.3,1956.6 L87.1,1978.5 Z" fill="url(#gl)"/>
<path d="M87.1,1960.0 L78.7,1949.1 M69.3,1956.6 L87.1,1978.5" fill="none" stroke="#1a1a1a" stroke-width="1"/>
<g transform="rotate(-36.9 70.3 1948.4)"><rect x="62.7" y="1942.6" width="15.2" height="11.6" fill="url(#thrg2)" stroke="#1a1a1a" stroke-width="0.9" rx="1.5"/>
<ellipse cx="70.3" cy="1942.6" rx="7.6" ry="3.4" fill="#f4f4f4" stroke="#1a1a1a" stroke-width="0.9"/>
</g><path d="M189.8,1960.0 L198.2,1949.1 L207.6,1956.6 L189.8,1978.5 Z" fill="url(#gl)"/>
<path d="M189.8,1960.0 L198.2,1949.1 M207.6,1956.6 L189.8,1978.5" fill="none" stroke="#1a1a1a" stroke-width="1"/>
<g transform="rotate(36.9 206.6 1948.4)"><rect x="199.0" y="1942.6" width="15.2" height="11.6" fill="url(#thrg2)" stroke="#1a1a1a" stroke-width="0.9" rx="1.5"/>
<ellipse cx="206.6" cy="1942.6" rx="7.6" ry="3.4" fill="#f4f4f4" stroke="#1a1a1a" stroke-width="0.9"/>
</g><rect x="111.5" y="1930.0" width="55.2" height="9.0" fill="url(#gl)" stroke="#1a1a1a" stroke-width="0.9"/>
<rect x="108.9" y="1914.6" width="59.7" height="17.2" fill="url(#thrb)" stroke="#1a1a1a" stroke-width="0.9" rx="1"/>
<path d="M87.1,1953 Q87.1,1939.5 108.1,1937 L168.8,1937 Q189.8,1939.5 189.8,1953 L189.8,2049.5 Q189.8,2055.5 183.8,2055.5 L93.1,2055.5 Q87.1,2055.5 87.1,2049.5 Z" fill="url(#bot)" stroke="#1a1a1a" stroke-width="1.1"/>
<line x1="87.1" y1="1961.2" x2="87.1" y2="1977.2" stroke="#cdcdcd" stroke-width="1.8"/>
<line x1="189.8" y1="1961.2" x2="189.8" y2="1977.2" stroke="#cdcdcd" stroke-width="1.8"/>
<path d="M103.0,1904.5 A35.8,6.5 0 0 0 174.5,1904.5 L174.5,1901.0 L103.0,1901.0 Z" fill="#ee4f18" stroke="#8f2a0c" stroke-width="0.9"/>
<path d="M106.0,1882.1 L105.0,1902.0 A33.8,6.5 0 0 0 172.5,1902.0 L171.5,1882.1 Z" fill="url(#ribB)" stroke="#8f2a0c" stroke-width="0.9"/>
<ellipse cx="138.8" cy="1882.1" rx="32.8" ry="6.5" fill="#ee4f18" stroke="#8f2a0c" stroke-width="0.9"/>
<ellipse cx="138.8" cy="1882.4" rx="19.0" ry="4.7" fill="#fff" stroke="#8f2a0c" stroke-width="0.8"/>
<text x="127.5" y="1975.7" font-family="'Liberation Serif','Noto Serif CJK KR','Noto Serif CJK SC',serif" font-size="8" fill="#444" textLength="20.5" lengthAdjust="spacingAndGlyphs">100ml</text>
<text x="127.5" y="1983.1" font-family="'Liberation Serif','Noto Serif CJK KR','Noto Serif CJK SC',serif" font-size="8" fill="#444" textLength="20.5" lengthAdjust="spacingAndGlyphs">250ml</text>
<text x="127.5" y="1991.0" font-family="'Liberation Serif','Noto Serif CJK KR','Noto Serif CJK SC',serif" font-size="8" fill="#444" textLength="20.5" lengthAdjust="spacingAndGlyphs">500ml</text>
<text x="127.5" y="1998.2" font-family="'Liberation Serif','Noto Serif CJK KR','Noto Serif CJK SC',serif" font-size="8" fill="#444" textLength="24.6" lengthAdjust="spacingAndGlyphs">1000ml</text>
<path d="M129.7,2018.7 L129.7,2031.0 A6.9,7 0 0 0 143.5,2031.0 L143.5,2018.7 Z" fill="url(#gl)" stroke="#1a1a1a" stroke-width="0.9"/>
<path d="M127.7,2007.8 L127.7,2018.7 A8.9,3 0 0 0 145.5,2018.7 L145.5,2007.8 Z" fill="#cfc9c4" stroke="#1a1a1a" stroke-width="0.9"/>
<path d="M127.7,2010.5 A8.9,3 0 0 0 145.5,2010.5" fill="none" stroke="#5a514b" stroke-width="1"/>
<path d="M127.7,2013.2 A8.9,3 0 0 0 145.5,2013.2" fill="none" stroke="#5a514b" stroke-width="1"/>
<path d="M127.7,2016.0 A8.9,3 0 0 0 145.5,2016.0" fill="none" stroke="#5a514b" stroke-width="1"/>
<ellipse cx="136.6" cy="2007.8" rx="8.9" ry="3.0" fill="#fff" stroke="#1a1a1a" stroke-width="0.9"/>
<text x="93.8" y="2050.3" font-family="'Liberation Serif','Noto Serif CJK KR','Noto Serif CJK SC',serif" font-size="10" fill="#666" textLength="80.3" lengthAdjust="spacingAndGlyphs">수평, 경사 여부 확인</text>
</g><g transform="translate(181.8,0.5)"><rect x="84.6" y="1806.6" width="21.0" height="13.8" fill="#f2f2f2" stroke="#1a1a1a" stroke-width="0.9"/>
<rect x="84.6" y="1806.0" width="11.6" height="15.0" fill="url(#thrv)" stroke="#1a1a1a" stroke-width="0.9" rx="1.5"/>
<ellipse cx="84.6" cy="1813.5" rx="1.8" ry="7.5" fill="#f4f4f4" stroke="#1a1a1a" stroke-width="0.9"/>
<rect x="181.6" y="1806.6" width="20.0" height="13.8" fill="#f2f2f2" stroke="#1a1a1a" stroke-width="0.9"/>
<rect x="190.6" y="1806.0" width="11.0" height="15.0" fill="url(#thrv)" stroke="#1a1a1a" stroke-width="0.9" rx="1.5"/>
<ellipse cx="201.6" cy="1813.5" rx="1.8" ry="7.5" fill="#f4f4f4" stroke="#1a1a1a" stroke-width="0.9"/>
<rect x="135.8" y="1842.8" width="12.8" height="16.6" fill="#f2f2f2" stroke="#1a1a1a" stroke-width="0.9"/>
<rect x="135.2" y="1849.4" width="14.0" height="10.0" fill="url(#thrg)" stroke="#1a1a1a" stroke-width="0.9" rx="1.5"/>
<ellipse cx="142.2" cy="1859.4" rx="7.0" ry="1.8" fill="#f4f4f4" stroke="#1a1a1a" stroke-width="0.9"/>
<ellipse cx="143.6" cy="1812.8" rx="39.0" ry="32.0" fill="url(#ring)" stroke="#1a1a1a" stroke-width="1.3"/>
<ellipse cx="143.6" cy="1812.8" rx="21.6" ry="17.3" fill="#fff" stroke="#1a1a1a" stroke-width="1.2"/>
<text x="108.3" y="1870.0" font-family="'Liberation Serif','Noto Serif CJK KR','Noto Serif CJK SC',serif" font-size="9" fill="#636363" textLength="61.9" lengthAdjust="spacingAndGlyphs">GL45 Open Cap</text>
<g transform="translate(-2.4,2.5)"><text x="188.6" y="1833.5" font-family="'Liberation Serif','Noto Serif CJK KR','Noto Serif CJK SC',serif" font-size="8.5" fill="#636363" textLength="57.8" lengthAdjust="spacingAndGlyphs">(주사기 사용시)</text>
<text x="189.6" y="1843.2" font-family="'Liberation Serif','Noto Serif CJK KR','Noto Serif CJK SC',serif" font-size="8.5" fill="#636363" textLength="55.0" lengthAdjust="spacingAndGlyphs">Piercing Septa</text>
<ellipse cx="216.2" cy="1863.2" rx="32.2" ry="11.5" fill="#e4e4e4" stroke="#1a1a1a" stroke-width="1"/>
<ellipse cx="216.2" cy="1860.7" rx="32.2" ry="11.5" fill="url(#disc2)" stroke="#1a1a1a" stroke-width="1"/>
</g><path d="M87.1,1960.0 L78.7,1949.1 L69.3,1956.6 L87.1,1978.5 Z" fill="url(#gl)"/>
<path d="M87.1,1960.0 L78.7,1949.1 M69.3,1956.6 L87.1,1978.5" fill="none" stroke="#1a1a1a" stroke-width="1"/>
<g transform="rotate(-36.9 70.3 1948.4)"><rect x="62.7" y="1942.6" width="15.2" height="11.6" fill="url(#thrg2)" stroke="#1a1a1a" stroke-width="0.9" rx="1.5"/>
<ellipse cx="70.3" cy="1942.6" rx="7.6" ry="3.4" fill="#f4f4f4" stroke="#1a1a1a" stroke-width="0.9"/>
</g><path d="M189.8,1960.0 L198.2,1949.1 L207.6,1956.6 L189.8,1978.5 Z" fill="url(#gl)"/>
<path d="M189.8,1960.0 L198.2,1949.1 M207.6,1956.6 L189.8,1978.5" fill="none" stroke="#1a1a1a" stroke-width="1"/>
<g transform="rotate(36.9 206.6 1948.4)"><rect x="199.0" y="1942.6" width="15.2" height="11.6" fill="url(#thrg2)" stroke="#1a1a1a" stroke-width="0.9" rx="1.5"/>
<ellipse cx="206.6" cy="1942.6" rx="7.6" ry="3.4" fill="#f4f4f4" stroke="#1a1a1a" stroke-width="0.9"/>
</g><rect x="111.5" y="1930.0" width="55.2" height="9.0" fill="url(#gl)" stroke="#1a1a1a" stroke-width="0.9"/>
<rect x="108.9" y="1914.6" width="59.7" height="17.2" fill="url(#thrb)" stroke="#1a1a1a" stroke-width="0.9" rx="1"/>
<path d="M87.1,1953 Q87.1,1939.5 108.1,1937 L168.8,1937 Q189.8,1939.5 189.8,1953 L189.8,2049.5 Q189.8,2055.5 183.8,2055.5 L93.1,2055.5 Q87.1,2055.5 87.1,2049.5 Z" fill="url(#bot)" stroke="#1a1a1a" stroke-width="1.1"/>
<line x1="87.1" y1="1961.2" x2="87.1" y2="1977.2" stroke="#cdcdcd" stroke-width="1.8"/>
<line x1="189.8" y1="1961.2" x2="189.8" y2="1977.2" stroke="#cdcdcd" stroke-width="1.8"/>
<path d="M103.0,1904.5 A35.8,6.5 0 0 0 174.5,1904.5 L174.5,1901.0 L103.0,1901.0 Z" fill="#ee4f18" stroke="#8f2a0c" stroke-width="0.9"/>
<path d="M106.0,1882.1 L105.0,1902.0 A33.8,6.5 0 0 0 172.5,1902.0 L171.5,1882.1 Z" fill="url(#ribB)" stroke="#8f2a0c" stroke-width="0.9"/>
<ellipse cx="138.8" cy="1882.1" rx="32.8" ry="6.5" fill="#ee4f18" stroke="#8f2a0c" stroke-width="0.9"/>
<ellipse cx="138.8" cy="1882.4" rx="19.0" ry="4.7" fill="#fff" stroke="#8f2a0c" stroke-width="0.8"/>
<text x="127.5" y="1975.7" font-family="'Liberation Serif','Noto Serif CJK KR','Noto Serif CJK SC',serif" font-size="8" fill="#444" textLength="20.5" lengthAdjust="spacingAndGlyphs">100ml</text>
<text x="127.5" y="1983.1" font-family="'Liberation Serif','Noto Serif CJK KR','Noto Serif CJK SC',serif" font-size="8" fill="#444" textLength="20.5" lengthAdjust="spacingAndGlyphs">250ml</text>
<text x="127.5" y="1991.0" font-family="'Liberation Serif','Noto Serif CJK KR','Noto Serif CJK SC',serif" font-size="8" fill="#444" textLength="20.5" lengthAdjust="spacingAndGlyphs">500ml</text>
<text x="127.5" y="1998.2" font-family="'Liberation Serif','Noto Serif CJK KR','Noto Serif CJK SC',serif" font-size="8" fill="#444" textLength="24.6" lengthAdjust="spacingAndGlyphs">1000ml</text>
<path d="M129.7,2018.7 L129.7,2031.0 A6.9,7 0 0 0 143.5,2031.0 L143.5,2018.7 Z" fill="url(#gl)" stroke="#1a1a1a" stroke-width="0.9"/>
<path d="M127.7,2007.8 L127.7,2018.7 A8.9,3 0 0 0 145.5,2018.7 L145.5,2007.8 Z" fill="#cfc9c4" stroke="#1a1a1a" stroke-width="0.9"/>
<path d="M127.7,2010.5 A8.9,3 0 0 0 145.5,2010.5" fill="none" stroke="#5a514b" stroke-width="1"/>
<path d="M127.7,2013.2 A8.9,3 0 0 0 145.5,2013.2" fill="none" stroke="#5a514b" stroke-width="1"/>
<path d="M127.7,2016.0 A8.9,3 0 0 0 145.5,2016.0" fill="none" stroke="#5a514b" stroke-width="1"/>
<ellipse cx="136.6" cy="2007.8" rx="8.9" ry="3.0" fill="#fff" stroke="#1a1a1a" stroke-width="0.9"/>
<text x="93.8" y="2050.3" font-family="'Liberation Serif','Noto Serif CJK KR','Noto Serif CJK SC',serif" font-size="10" fill="#666" textLength="80.3" lengthAdjust="spacingAndGlyphs">수평, 경사 여부 확인</text>
</g><rect x="189.8" y="2024.1" width="79.1" height="16.5" fill="#f4f4f4"/>
<line x1="190.3" y1="2024.1" x2="268.4" y2="2024.1" stroke="#1a1a1a" stroke-width="1"/>
<line x1="190.3" y1="2040.6" x2="268.4" y2="2040.6" stroke="#1a1a1a" stroke-width="1"/>
<g transform="translate(0.0,0.0)"><rect x="224.0" y="2026.5" width="14.0" height="12.5" fill="#fff" stroke="#555" stroke-width="0.8"/>
<rect x="204.6" y="2019.4" width="21.0" height="26.0" fill="url(#ribH2)" stroke="#8f2a0c" stroke-width="0.9" rx="3.5"/>
<rect x="236.5" y="2019.4" width="20.4" height="26.0" fill="url(#ribH2)" stroke="#8f2a0c" stroke-width="0.9" rx="3.5"/>
<ellipse cx="225.3" cy="2032.4" rx="2.6" ry="11.5" fill="#ee4f18" stroke="#8f2a0c" stroke-width="0.8"/>
<ellipse cx="236.8" cy="2032.4" rx="2.6" ry="11.5" fill="#ee4f18" stroke="#8f2a0c" stroke-width="0.8"/>
</g><g transform="translate(543.5,2.0)"><rect x="82.2" y="1807.2" width="21.0" height="13.8" fill="#f2f2f2" stroke="#1a1a1a" stroke-width="0.9"/>
<rect x="82.2" y="1806.6" width="11.6" height="15.0" fill="url(#thrv)" stroke="#1a1a1a" stroke-width="0.9" rx="1.5"/>
<ellipse cx="82.2" cy="1814.1" rx="1.8" ry="7.5" fill="#f4f4f4" stroke="#1a1a1a" stroke-width="0.9"/>
<rect x="179.2" y="1807.2" width="20.0" height="13.8" fill="#f2f2f2" stroke="#1a1a1a" stroke-width="0.9"/>
<rect x="188.2" y="1806.6" width="11.0" height="15.0" fill="url(#thrv)" stroke="#1a1a1a" stroke-width="0.9" rx="1.5"/>
<ellipse cx="199.2" cy="1814.1" rx="1.8" ry="7.5" fill="#f4f4f4" stroke="#1a1a1a" stroke-width="0.9"/>
<rect x="133.4" y="1843.4" width="12.8" height="16.6" fill="#f2f2f2" stroke="#1a1a1a" stroke-width="0.9"/>
<rect x="132.8" y="1850.0" width="14.0" height="10.0" fill="url(#thrg)" stroke="#1a1a1a" stroke-width="0.9" rx="1.5"/>
<ellipse cx="139.8" cy="1860.0" rx="7.0" ry="1.8" fill="#f4f4f4" stroke="#1a1a1a" stroke-width="0.9"/>
<ellipse cx="141.2" cy="1813.4" rx="39.0" ry="32.0" fill="url(#ring)" stroke="#1a1a1a" stroke-width="1.3"/>
<ellipse cx="141.2" cy="1813.4" rx="21.2" ry="17.4" fill="#e8121c" stroke="#1a1a1a" stroke-width="1.2"/>
<text x="105.0" y="1871.6" font-family="'Liberation Serif','Noto Serif CJK KR','Noto Serif CJK SC',serif" font-size="9" fill="#636363" textLength="68.5" lengthAdjust="spacingAndGlyphs">GL45 Closed Cap</text>
<path d="M87.1,1960.0 L78.7,1949.1 L69.3,1956.6 L87.1,1978.5 Z" fill="url(#gl)"/>
<path d="M87.1,1960.0 L78.7,1949.1 M69.3,1956.6 L87.1,1978.5" fill="none" stroke="#1a1a1a" stroke-width="1"/>
<g transform="rotate(-36.9 70.3 1948.4)"><rect x="62.7" y="1942.6" width="15.2" height="11.6" fill="url(#thrg2)" stroke="#1a1a1a" stroke-width="0.9" rx="1.5"/>
<ellipse cx="70.3" cy="1942.6" rx="7.6" ry="3.4" fill="#f4f4f4" stroke="#1a1a1a" stroke-width="0.9"/>
</g><path d="M189.8,1960.0 L198.2,1949.1 L207.6,1956.6 L189.8,1978.5 Z" fill="url(#gl)"/>
<path d="M189.8,1960.0 L198.2,1949.1 M207.6,1956.6 L189.8,1978.5" fill="none" stroke="#1a1a1a" stroke-width="1"/>
<g transform="rotate(36.9 206.6 1948.4)"><rect x="199.0" y="1942.6" width="15.2" height="11.6" fill="url(#thrg2)" stroke="#1a1a1a" stroke-width="0.9" rx="1.5"/>
<ellipse cx="206.6" cy="1942.6" rx="7.6" ry="3.4" fill="#f4f4f4" stroke="#1a1a1a" stroke-width="0.9"/>
</g><rect x="111.5" y="1930.0" width="55.2" height="9.0" fill="url(#gl)" stroke="#1a1a1a" stroke-width="0.9"/>
<rect x="108.9" y="1914.6" width="59.7" height="17.2" fill="url(#thrb)" stroke="#1a1a1a" stroke-width="0.9" rx="1"/>
<path d="M87.1,1953 Q87.1,1939.5 108.1,1937 L168.8,1937 Q189.8,1939.5 189.8,1953 L189.8,2049.5 Q189.8,2055.5 183.8,2055.5 L93.1,2055.5 Q87.1,2055.5 87.1,2049.5 Z" fill="url(#bot)" stroke="#1a1a1a" stroke-width="1.1"/>
<line x1="87.1" y1="1961.2" x2="87.1" y2="1977.2" stroke="#cdcdcd" stroke-width="1.8"/>
<line x1="189.8" y1="1961.2" x2="189.8" y2="1977.2" stroke="#cdcdcd" stroke-width="1.8"/>
<path d="M103.0,1904.5 A35.8,6.5 0 0 0 174.5,1904.5 L174.5,1901.0 L103.0,1901.0 Z" fill="#ee4f18" stroke="#8f2a0c" stroke-width="0.9"/>
<path d="M106.0,1882.1 L105.0,1902.0 A33.8,6.5 0 0 0 172.5,1902.0 L171.5,1882.1 Z" fill="url(#ribB)" stroke="#8f2a0c" stroke-width="0.9"/>
<ellipse cx="138.8" cy="1882.1" rx="32.8" ry="6.5" fill="#ee4f18" stroke="#8f2a0c" stroke-width="0.9"/>
<text x="127.5" y="1975.7" font-family="'Liberation Serif','Noto Serif CJK KR','Noto Serif CJK SC',serif" font-size="8" fill="#444" textLength="20.5" lengthAdjust="spacingAndGlyphs">100ml</text>
<text x="127.5" y="1983.1" font-family="'Liberation Serif','Noto Serif CJK KR','Noto Serif CJK SC',serif" font-size="8" fill="#444" textLength="20.5" lengthAdjust="spacingAndGlyphs">250ml</text>
<text x="127.5" y="1991.0" font-family="'Liberation Serif','Noto Serif CJK KR','Noto Serif CJK SC',serif" font-size="8" fill="#444" textLength="20.5" lengthAdjust="spacingAndGlyphs">500ml</text>
<text x="127.5" y="1998.2" font-family="'Liberation Serif','Noto Serif CJK KR','Noto Serif CJK SC',serif" font-size="8" fill="#444" textLength="24.6" lengthAdjust="spacingAndGlyphs">1000ml</text>
<path d="M129.7,2018.7 L129.7,2031.0 A6.9,7 0 0 0 143.5,2031.0 L143.5,2018.7 Z" fill="url(#gl)" stroke="#1a1a1a" stroke-width="0.9"/>
<path d="M127.7,2007.8 L127.7,2018.7 A8.9,3 0 0 0 145.5,2018.7 L145.5,2007.8 Z" fill="#cfc9c4" stroke="#1a1a1a" stroke-width="0.9"/>
<path d="M127.7,2010.5 A8.9,3 0 0 0 145.5,2010.5" fill="none" stroke="#5a514b" stroke-width="1"/>
<path d="M127.7,2013.2 A8.9,3 0 0 0 145.5,2013.2" fill="none" stroke="#5a514b" stroke-width="1"/>
<path d="M127.7,2016.0 A8.9,3 0 0 0 145.5,2016.0" fill="none" stroke="#5a514b" stroke-width="1"/>
<ellipse cx="136.6" cy="2007.8" rx="8.9" ry="3.0" fill="#fff" stroke="#1a1a1a" stroke-width="0.9"/>
<text x="93.8" y="2050.3" font-family="'Liberation Serif','Noto Serif CJK KR','Noto Serif CJK SC',serif" font-size="10" fill="#666" textLength="80.3" lengthAdjust="spacingAndGlyphs">수평, 경사 여부 확인</text>
</g><g transform="translate(724.2,2.0)"><rect x="81.8" y="1807.8" width="21.0" height="13.8" fill="#f2f2f2" stroke="#1a1a1a" stroke-width="0.9"/>
<rect x="81.8" y="1807.2" width="11.6" height="15.0" fill="url(#thrv)" stroke="#1a1a1a" stroke-width="0.9" rx="1.5"/>
<ellipse cx="81.8" cy="1814.7" rx="1.8" ry="7.5" fill="#f4f4f4" stroke="#1a1a1a" stroke-width="0.9"/>
<rect x="178.8" y="1807.8" width="20.0" height="13.8" fill="#f2f2f2" stroke="#1a1a1a" stroke-width="0.9"/>
<rect x="187.8" y="1807.2" width="11.0" height="15.0" fill="url(#thrv)" stroke="#1a1a1a" stroke-width="0.9" rx="1.5"/>
<ellipse cx="198.8" cy="1814.7" rx="1.8" ry="7.5" fill="#f4f4f4" stroke="#1a1a1a" stroke-width="0.9"/>
<rect x="133.0" y="1844.0" width="12.8" height="16.6" fill="#f2f2f2" stroke="#1a1a1a" stroke-width="0.9"/>
<rect x="132.4" y="1850.6" width="14.0" height="10.0" fill="url(#thrg)" stroke="#1a1a1a" stroke-width="0.9" rx="1.5"/>
<ellipse cx="139.4" cy="1860.6" rx="7.0" ry="1.8" fill="#f4f4f4" stroke="#1a1a1a" stroke-width="0.9"/>
<ellipse cx="140.8" cy="1814.0" rx="39.0" ry="32.0" fill="url(#ring)" stroke="#1a1a1a" stroke-width="1.3"/>
<ellipse cx="140.8" cy="1814.0" rx="21.2" ry="17.4" fill="#e8121c" stroke="#1a1a1a" stroke-width="1.2"/>
<text x="105.0" y="1871.6" font-family="'Liberation Serif','Noto Serif CJK KR','Noto Serif CJK SC',serif" font-size="9" fill="#636363" textLength="68.5" lengthAdjust="spacingAndGlyphs">GL45 Closed Cap</text>
<path d="M87.1,1960.0 L78.7,1949.1 L69.3,1956.6 L87.1,1978.5 Z" fill="url(#gl)"/>
<path d="M87.1,1960.0 L78.7,1949.1 M69.3,1956.6 L87.1,1978.5" fill="none" stroke="#1a1a1a" stroke-width="1"/>
<g transform="rotate(-36.9 70.3 1948.4)"><rect x="62.7" y="1942.6" width="15.2" height="11.6" fill="url(#thrg2)" stroke="#1a1a1a" stroke-width="0.9" rx="1.5"/>
<ellipse cx="70.3" cy="1942.6" rx="7.6" ry="3.4" fill="#f4f4f4" stroke="#1a1a1a" stroke-width="0.9"/>
</g><path d="M189.8,1960.0 L198.2,1949.1 L207.6,1956.6 L189.8,1978.5 Z" fill="url(#gl)"/>
<path d="M189.8,1960.0 L198.2,1949.1 M207.6,1956.6 L189.8,1978.5" fill="none" stroke="#1a1a1a" stroke-width="1"/>
<g transform="rotate(36.9 206.6 1948.4)"><rect x="199.0" y="1942.6" width="15.2" height="11.6" fill="url(#thrg2)" stroke="#1a1a1a" stroke-width="0.9" rx="1.5"/>
<ellipse cx="206.6" cy="1942.6" rx="7.6" ry="3.4" fill="#f4f4f4" stroke="#1a1a1a" stroke-width="0.9"/>
</g><rect x="111.5" y="1930.0" width="55.2" height="9.0" fill="url(#gl)" stroke="#1a1a1a" stroke-width="0.9"/>
<rect x="108.9" y="1914.6" width="59.7" height="17.2" fill="url(#thrb)" stroke="#1a1a1a" stroke-width="0.9" rx="1"/>
<path d="M87.1,1953 Q87.1,1939.5 108.1,1937 L168.8,1937 Q189.8,1939.5 189.8,1953 L189.8,2049.5 Q189.8,2055.5 183.8,2055.5 L93.1,2055.5 Q87.1,2055.5 87.1,2049.5 Z" fill="url(#bot)" stroke="#1a1a1a" stroke-width="1.1"/>
<line x1="87.1" y1="1961.2" x2="87.1" y2="1977.2" stroke="#cdcdcd" stroke-width="1.8"/>
<line x1="189.8" y1="1961.2" x2="189.8" y2="1977.2" stroke="#cdcdcd" stroke-width="1.8"/>
<path d="M103.0,1904.5 A35.8,6.5 0 0 0 174.5,1904.5 L174.5,1901.0 L103.0,1901.0 Z" fill="#ee4f18" stroke="#8f2a0c" stroke-width="0.9"/>
<path d="M106.0,1882.1 L105.0,1902.0 A33.8,6.5 0 0 0 172.5,1902.0 L171.5,1882.1 Z" fill="url(#ribB)" stroke="#8f2a0c" stroke-width="0.9"/>
<ellipse cx="138.8" cy="1882.1" rx="32.8" ry="6.5" fill="#ee4f18" stroke="#8f2a0c" stroke-width="0.9"/>
<text x="127.5" y="1975.7" font-family="'Liberation Serif','Noto Serif CJK KR','Noto Serif CJK SC',serif" font-size="8" fill="#444" textLength="20.5" lengthAdjust="spacingAndGlyphs">100ml</text>
<text x="127.5" y="1983.1" font-family="'Liberation Serif','Noto Serif CJK KR','Noto Serif CJK SC',serif" font-size="8" fill="#444" textLength="20.5" lengthAdjust="spacingAndGlyphs">250ml</text>
<text x="127.5" y="1991.0" font-family="'Liberation Serif','Noto Serif CJK KR','Noto Serif CJK SC',serif" font-size="8" fill="#444" textLength="20.5" lengthAdjust="spacingAndGlyphs">500ml</text>
<text x="127.5" y="1998.2" font-family="'Liberation Serif','Noto Serif CJK KR','Noto Serif CJK SC',serif" font-size="8" fill="#444" textLength="24.6" lengthAdjust="spacingAndGlyphs">1000ml</text>
<path d="M129.7,2018.7 L129.7,2031.0 A6.9,7 0 0 0 143.5,2031.0 L143.5,2018.7 Z" fill="url(#gl)" stroke="#1a1a1a" stroke-width="0.9"/>
<path d="M127.7,2007.8 L127.7,2018.7 A8.9,3 0 0 0 145.5,2018.7 L145.5,2007.8 Z" fill="#cfc9c4" stroke="#1a1a1a" stroke-width="0.9"/>
<path d="M127.7,2010.5 A8.9,3 0 0 0 145.5,2010.5" fill="none" stroke="#5a514b" stroke-width="1"/>
<path d="M127.7,2013.2 A8.9,3 0 0 0 145.5,2013.2" fill="none" stroke="#5a514b" stroke-width="1"/>
<path d="M127.7,2016.0 A8.9,3 0 0 0 145.5,2016.0" fill="none" stroke="#5a514b" stroke-width="1"/>
<ellipse cx="136.6" cy="2007.8" rx="8.9" ry="3.0" fill="#fff" stroke="#1a1a1a" stroke-width="0.9"/>
<text x="93.8" y="2050.3" font-family="'Liberation Serif','Noto Serif CJK KR','Noto Serif CJK SC',serif" font-size="10" fill="#666" textLength="80.3" lengthAdjust="spacingAndGlyphs">수평, 경사 여부 확인</text>
</g><rect x="733.3" y="2025.7" width="78.0" height="16.5" fill="#f4f4f4"/>
<line x1="733.8" y1="2025.7" x2="810.8" y2="2025.7" stroke="#1a1a1a" stroke-width="1"/>
<line x1="733.8" y1="2042.2" x2="810.8" y2="2042.2" stroke="#1a1a1a" stroke-width="1"/>
<g transform="translate(542.6,1.6)"><rect x="224.0" y="2026.5" width="14.0" height="12.5" fill="#fff" stroke="#555" stroke-width="0.8"/>
<rect x="204.6" y="2019.4" width="21.0" height="26.0" fill="url(#ribH2)" stroke="#8f2a0c" stroke-width="0.9" rx="3.5"/>
<rect x="236.5" y="2019.4" width="20.4" height="26.0" fill="url(#ribH2)" stroke="#8f2a0c" stroke-width="0.9" rx="3.5"/>
<ellipse cx="225.3" cy="2032.4" rx="2.6" ry="11.5" fill="#ee4f18" stroke="#8f2a0c" stroke-width="0.8"/>
<ellipse cx="236.8" cy="2032.4" rx="2.6" ry="11.5" fill="#ee4f18" stroke="#8f2a0c" stroke-width="0.8"/>
</g><g transform="translate(-3.4,301.8)"><rect x="83.9" y="1808.2" width="21.0" height="13.8" fill="#f2f2f2" stroke="#1a1a1a" stroke-width="0.9"/>
<rect x="83.9" y="1807.6" width="11.6" height="15.0" fill="url(#thrv)" stroke="#1a1a1a" stroke-width="0.9" rx="1.5"/>
<ellipse cx="83.9" cy="1815.1" rx="1.8" ry="7.5" fill="#f4f4f4" stroke="#1a1a1a" stroke-width="0.9"/>
<rect x="180.9" y="1808.2" width="20.0" height="13.8" fill="#f2f2f2" stroke="#1a1a1a" stroke-width="0.9"/>
<rect x="189.9" y="1807.6" width="11.0" height="15.0" fill="url(#thrv)" stroke="#1a1a1a" stroke-width="0.9" rx="1.5"/>
<ellipse cx="200.9" cy="1815.1" rx="1.8" ry="7.5" fill="#f4f4f4" stroke="#1a1a1a" stroke-width="0.9"/>
<rect x="135.1" y="1844.4" width="12.8" height="16.6" fill="#f2f2f2" stroke="#1a1a1a" stroke-width="0.9"/>
<rect x="134.5" y="1851.0" width="14.0" height="10.0" fill="url(#thrg)" stroke="#1a1a1a" stroke-width="0.9" rx="1.5"/>
<ellipse cx="141.5" cy="1861.0" rx="7.0" ry="1.8" fill="#f4f4f4" stroke="#1a1a1a" stroke-width="0.9"/>
<ellipse cx="142.9" cy="1814.4" rx="39.0" ry="32.0" fill="url(#ring)" stroke="#1a1a1a" stroke-width="1.3"/>
<ellipse cx="142.9" cy="1814.4" rx="21.2" ry="17.4" fill="#e8121c" stroke="#1a1a1a" stroke-width="1.2"/>
<text x="105.0" y="1871.6" font-family="'Liberation Serif','Noto Serif CJK KR','Noto Serif CJK SC',serif" font-size="9" fill="#636363" textLength="68.5" lengthAdjust="spacingAndGlyphs">GL45 Closed Cap</text>
<path d="M87.1,1960.0 L78.7,1949.1 L69.3,1956.6 L87.1,1978.5 Z" fill="url(#gl)"/>
<path d="M87.1,1960.0 L78.7,1949.1 M69.3,1956.6 L87.1,1978.5" fill="none" stroke="#1a1a1a" stroke-width="1"/>
<g transform="rotate(-36.9 70.3 1948.4)"><rect x="62.7" y="1942.6" width="15.2" height="11.6" fill="url(#thrg2)" stroke="#1a1a1a" stroke-width="0.9" rx="1.5"/>
<ellipse cx="70.3" cy="1942.6" rx="7.6" ry="3.4" fill="#f4f4f4" stroke="#1a1a1a" stroke-width="0.9"/>
</g><path d="M189.8,1960.0 L198.2,1949.1 L207.6,1956.6 L189.8,1978.5 Z" fill="url(#gl)"/>
<path d="M189.8,1960.0 L198.2,1949.1 M207.6,1956.6 L189.8,1978.5" fill="none" stroke="#1a1a1a" stroke-width="1"/>
<g transform="rotate(36.9 206.6 1948.4)"><rect x="199.0" y="1942.6" width="15.2" height="11.6" fill="url(#thrg2)" stroke="#1a1a1a" stroke-width="0.9" rx="1.5"/>
<ellipse cx="206.6" cy="1942.6" rx="7.6" ry="3.4" fill="#f4f4f4" stroke="#1a1a1a" stroke-width="0.9"/>
</g><rect x="111.5" y="1930.0" width="55.2" height="9.0" fill="url(#gl)" stroke="#1a1a1a" stroke-width="0.9"/>
<rect x="108.9" y="1914.6" width="59.7" height="17.2" fill="url(#thrb)" stroke="#1a1a1a" stroke-width="0.9" rx="1"/>
<path d="M87.1,1953 Q87.1,1939.5 108.1,1937 L168.8,1937 Q189.8,1939.5 189.8,1953 L189.8,2049.5 Q189.8,2055.5 183.8,2055.5 L93.1,2055.5 Q87.1,2055.5 87.1,2049.5 Z" fill="url(#bot)" stroke="#1a1a1a" stroke-width="1.1"/>
<line x1="87.1" y1="1961.2" x2="87.1" y2="1977.2" stroke="#cdcdcd" stroke-width="1.8"/>
<line x1="189.8" y1="1961.2" x2="189.8" y2="1977.2" stroke="#cdcdcd" stroke-width="1.8"/>
<path d="M103.0,1904.5 A35.8,6.5 0 0 0 174.5,1904.5 L174.5,1901.0 L103.0,1901.0 Z" fill="#ee4f18" stroke="#8f2a0c" stroke-width="0.9"/>
<path d="M106.0,1882.1 L105.0,1902.0 A33.8,6.5 0 0 0 172.5,1902.0 L171.5,1882.1 Z" fill="url(#ribB)" stroke="#8f2a0c" stroke-width="0.9"/>
<ellipse cx="138.8" cy="1882.1" rx="32.8" ry="6.5" fill="#ee4f18" stroke="#8f2a0c" stroke-width="0.9"/>
<text x="127.5" y="1975.7" font-family="'Liberation Serif','Noto Serif CJK KR','Noto Serif CJK SC',serif" font-size="8" fill="#444" textLength="20.5" lengthAdjust="spacingAndGlyphs">100ml</text>
<text x="127.5" y="1983.1" font-family="'Liberation Serif','Noto Serif CJK KR','Noto Serif CJK SC',serif" font-size="8" fill="#444" textLength="20.5" lengthAdjust="spacingAndGlyphs">250ml</text>
<text x="127.5" y="1991.0" font-family="'Liberation Serif','Noto Serif CJK KR','Noto Serif CJK SC',serif" font-size="8" fill="#444" textLength="20.5" lengthAdjust="spacingAndGlyphs">500ml</text>
<text x="127.5" y="1998.2" font-family="'Liberation Serif','Noto Serif CJK KR','Noto Serif CJK SC',serif" font-size="8" fill="#444" textLength="24.6" lengthAdjust="spacingAndGlyphs">1000ml</text>
<path d="M129.7,2018.7 L129.7,2031.0 A6.9,7 0 0 0 143.5,2031.0 L143.5,2018.7 Z" fill="url(#gl)" stroke="#1a1a1a" stroke-width="0.9"/>
<path d="M127.7,2007.8 L127.7,2018.7 A8.9,3 0 0 0 145.5,2018.7 L145.5,2007.8 Z" fill="#cfc9c4" stroke="#1a1a1a" stroke-width="0.9"/>
<path d="M127.7,2010.5 A8.9,3 0 0 0 145.5,2010.5" fill="none" stroke="#5a514b" stroke-width="1"/>
<path d="M127.7,2013.2 A8.9,3 0 0 0 145.5,2013.2" fill="none" stroke="#5a514b" stroke-width="1"/>
<path d="M127.7,2016.0 A8.9,3 0 0 0 145.5,2016.0" fill="none" stroke="#5a514b" stroke-width="1"/>
<ellipse cx="136.6" cy="2007.8" rx="8.9" ry="3.0" fill="#fff" stroke="#1a1a1a" stroke-width="0.9"/>
<text x="93.8" y="2050.3" font-family="'Liberation Serif','Noto Serif CJK KR','Noto Serif CJK SC',serif" font-size="10" fill="#666" textLength="80.3" lengthAdjust="spacingAndGlyphs">수평, 경사 여부 확인</text>
</g><g transform="translate(178.0,301.2)"><rect x="84.2" y="1807.2" width="21.0" height="13.8" fill="#f2f2f2" stroke="#1a1a1a" stroke-width="0.9"/>
<rect x="84.2" y="1806.6" width="11.6" height="15.0" fill="url(#thrv)" stroke="#1a1a1a" stroke-width="0.9" rx="1.5"/>
<ellipse cx="84.2" cy="1814.1" rx="1.8" ry="7.5" fill="#f4f4f4" stroke="#1a1a1a" stroke-width="0.9"/>
<rect x="181.2" y="1807.2" width="20.0" height="13.8" fill="#f2f2f2" stroke="#1a1a1a" stroke-width="0.9"/>
<rect x="190.2" y="1806.6" width="11.0" height="15.0" fill="url(#thrv)" stroke="#1a1a1a" stroke-width="0.9" rx="1.5"/>
<ellipse cx="201.2" cy="1814.1" rx="1.8" ry="7.5" fill="#f4f4f4" stroke="#1a1a1a" stroke-width="0.9"/>
<rect x="135.4" y="1843.4" width="12.8" height="16.6" fill="#f2f2f2" stroke="#1a1a1a" stroke-width="0.9"/>
<rect x="134.8" y="1850.0" width="14.0" height="10.0" fill="url(#thrg)" stroke="#1a1a1a" stroke-width="0.9" rx="1.5"/>
<ellipse cx="141.8" cy="1860.0" rx="7.0" ry="1.8" fill="#f4f4f4" stroke="#1a1a1a" stroke-width="0.9"/>
<ellipse cx="143.2" cy="1813.4" rx="39.0" ry="32.0" fill="url(#ring)" stroke="#1a1a1a" stroke-width="1.3"/>
<ellipse cx="143.2" cy="1813.4" rx="21.6" ry="17.3" fill="#fff" stroke="#1a1a1a" stroke-width="1.2"/>
<text x="108.3" y="1870.0" font-family="'Liberation Serif','Noto Serif CJK KR','Noto Serif CJK SC',serif" font-size="9" fill="#636363" textLength="61.9" lengthAdjust="spacingAndGlyphs">GL45 Open Cap</text>
<g transform="translate(0.5,5)"><text x="188.6" y="1833.5" font-family="'Liberation Serif','Noto Serif CJK KR','Noto Serif CJK SC',serif" font-size="8.5" fill="#636363" textLength="57.8" lengthAdjust="spacingAndGlyphs">(주사기 사용시)</text>
<text x="189.6" y="1843.2" font-family="'Liberation Serif','Noto Serif CJK KR','Noto Serif CJK SC',serif" font-size="8.5" fill="#636363" textLength="55.0" lengthAdjust="spacingAndGlyphs">Piercing Septa</text>
<ellipse cx="216.2" cy="1863.2" rx="32.2" ry="11.5" fill="#e4e4e4" stroke="#1a1a1a" stroke-width="1"/>
<ellipse cx="216.2" cy="1860.7" rx="32.2" ry="11.5" fill="url(#disc2)" stroke="#1a1a1a" stroke-width="1"/>
</g><path d="M87.1,1960.0 L78.7,1949.1 L69.3,1956.6 L87.1,1978.5 Z" fill="url(#gl)"/>
<path d="M87.1,1960.0 L78.7,1949.1 M69.3,1956.6 L87.1,1978.5" fill="none" stroke="#1a1a1a" stroke-width="1"/>
<g transform="rotate(-36.9 70.3 1948.4)"><rect x="62.7" y="1942.6" width="15.2" height="11.6" fill="url(#thrg2)" stroke="#1a1a1a" stroke-width="0.9" rx="1.5"/>
<ellipse cx="70.3" cy="1942.6" rx="7.6" ry="3.4" fill="#f4f4f4" stroke="#1a1a1a" stroke-width="0.9"/>
</g><path d="M189.8,1960.0 L198.2,1949.1 L207.6,1956.6 L189.8,1978.5 Z" fill="url(#gl)"/>
<path d="M189.8,1960.0 L198.2,1949.1 M207.6,1956.6 L189.8,1978.5" fill="none" stroke="#1a1a1a" stroke-width="1"/>
<g transform="rotate(36.9 206.6 1948.4)"><rect x="199.0" y="1942.6" width="15.2" height="11.6" fill="url(#thrg2)" stroke="#1a1a1a" stroke-width="0.9" rx="1.5"/>
<ellipse cx="206.6" cy="1942.6" rx="7.6" ry="3.4" fill="#f4f4f4" stroke="#1a1a1a" stroke-width="0.9"/>
</g><rect x="111.5" y="1930.0" width="55.2" height="9.0" fill="url(#gl)" stroke="#1a1a1a" stroke-width="0.9"/>
<rect x="108.9" y="1914.6" width="59.7" height="17.2" fill="url(#thrb)" stroke="#1a1a1a" stroke-width="0.9" rx="1"/>
<path d="M87.1,1953 Q87.1,1939.5 108.1,1937 L168.8,1937 Q189.8,1939.5 189.8,1953 L189.8,2049.5 Q189.8,2055.5 183.8,2055.5 L93.1,2055.5 Q87.1,2055.5 87.1,2049.5 Z" fill="url(#bot)" stroke="#1a1a1a" stroke-width="1.1"/>
<line x1="87.1" y1="1961.2" x2="87.1" y2="1977.2" stroke="#cdcdcd" stroke-width="1.8"/>
<line x1="189.8" y1="1961.2" x2="189.8" y2="1977.2" stroke="#cdcdcd" stroke-width="1.8"/>
<path d="M103.0,1904.5 A35.8,6.5 0 0 0 174.5,1904.5 L174.5,1901.0 L103.0,1901.0 Z" fill="#ee4f18" stroke="#8f2a0c" stroke-width="0.9"/>
<path d="M106.0,1882.1 L105.0,1902.0 A33.8,6.5 0 0 0 172.5,1902.0 L171.5,1882.1 Z" fill="url(#ribB)" stroke="#8f2a0c" stroke-width="0.9"/>
<ellipse cx="138.8" cy="1882.1" rx="32.8" ry="6.5" fill="#ee4f18" stroke="#8f2a0c" stroke-width="0.9"/>
<ellipse cx="138.8" cy="1882.4" rx="19.0" ry="4.7" fill="#fff" stroke="#8f2a0c" stroke-width="0.8"/>
<text x="127.5" y="1975.7" font-family="'Liberation Serif','Noto Serif CJK KR','Noto Serif CJK SC',serif" font-size="8" fill="#444" textLength="20.5" lengthAdjust="spacingAndGlyphs">100ml</text>
<text x="127.5" y="1983.1" font-family="'Liberation Serif','Noto Serif CJK KR','Noto Serif CJK SC',serif" font-size="8" fill="#444" textLength="20.5" lengthAdjust="spacingAndGlyphs">250ml</text>
<text x="127.5" y="1991.0" font-family="'Liberation Serif','Noto Serif CJK KR','Noto Serif CJK SC',serif" font-size="8" fill="#444" textLength="20.5" lengthAdjust="spacingAndGlyphs">500ml</text>
<text x="127.5" y="1998.2" font-family="'Liberation Serif','Noto Serif CJK KR','Noto Serif CJK SC',serif" font-size="8" fill="#444" textLength="24.6" lengthAdjust="spacingAndGlyphs">1000ml</text>
<path d="M129.7,2018.7 L129.7,2031.0 A6.9,7 0 0 0 143.5,2031.0 L143.5,2018.7 Z" fill="url(#gl)" stroke="#1a1a1a" stroke-width="0.9"/>
<path d="M127.7,2007.8 L127.7,2018.7 A8.9,3 0 0 0 145.5,2018.7 L145.5,2007.8 Z" fill="#cfc9c4" stroke="#1a1a1a" stroke-width="0.9"/>
<path d="M127.7,2010.5 A8.9,3 0 0 0 145.5,2010.5" fill="none" stroke="#5a514b" stroke-width="1"/>
<path d="M127.7,2013.2 A8.9,3 0 0 0 145.5,2013.2" fill="none" stroke="#5a514b" stroke-width="1"/>
<path d="M127.7,2016.0 A8.9,3 0 0 0 145.5,2016.0" fill="none" stroke="#5a514b" stroke-width="1"/>
<ellipse cx="136.6" cy="2007.8" rx="8.9" ry="3.0" fill="#fff" stroke="#1a1a1a" stroke-width="0.9"/>
<text x="93.8" y="2050.3" font-family="'Liberation Serif','Noto Serif CJK KR','Noto Serif CJK SC',serif" font-size="10" fill="#666" textLength="80.3" lengthAdjust="spacingAndGlyphs">수평, 경사 여부 확인</text>
</g><rect x="186.4" y="2325.6" width="78.7" height="16.5" fill="#f4f4f4"/>
<line x1="186.9" y1="2325.6" x2="264.6" y2="2325.6" stroke="#1a1a1a" stroke-width="1"/>
<line x1="186.9" y1="2342.1" x2="264.6" y2="2342.1" stroke="#1a1a1a" stroke-width="1"/>
<g transform="translate(-8.2,301.5)"><rect x="224.0" y="2026.5" width="14.0" height="12.5" fill="#fff" stroke="#555" stroke-width="0.8"/>
<rect x="204.6" y="2019.4" width="21.0" height="26.0" fill="url(#ribH2)" stroke="#8f2a0c" stroke-width="0.9" rx="3.5"/>
<rect x="236.5" y="2019.4" width="20.4" height="26.0" fill="url(#ribH2)" stroke="#8f2a0c" stroke-width="0.9" rx="3.5"/>
<ellipse cx="225.3" cy="2032.4" rx="2.6" ry="11.5" fill="#ee4f18" stroke="#8f2a0c" stroke-width="0.8"/>
<ellipse cx="236.8" cy="2032.4" rx="2.6" ry="11.5" fill="#ee4f18" stroke="#8f2a0c" stroke-width="0.8"/>
</g><g><rect x="589.5" y="2118.5" width="345.0" height="247.0" fill="#29b27c"/>
<rect x="589.5" y="2118.5" width="345" height="247" fill="url(#pgrad3)"/><rect x="589.5" y="2118.5" width="345" height="247" fill="url(#pvig3)"/><g filter="url(#b2)"><path d="M659.5,2252.5 L707.5,2234.5 L729.5,2308.5 L719.5,2333.5 L689.5,2340.5 L669.5,2328.5 Z" fill="#ffffff" fill-opacity="0.07" stroke="#e8f8f0" stroke-width="2.5" stroke-opacity="0.5" stroke-linejoin="round"/>
<path d="M804.5,2226.5 L864.5,2230.5 L864.5,2306.5 L844.5,2325.5 L812.5,2318.5 L800.5,2294.5 Z" fill="#ffffff" fill-opacity="0.07" stroke="#e8f8f0" stroke-width="2.5" stroke-opacity="0.5" stroke-linejoin="round"/>
<path d="M677.5,2308.5 L709.5,2323.5 L721.5,2314.5 L715.5,2332.5 L689.5,2337.5 Z" fill="#ffffff" fill-opacity="0.18"/>
<ellipse cx="824.5" cy="2305.5" rx="12.0" ry="5.0" fill="#f4fbf8" fill-opacity="0.9"/>
<path d="M689.5,2256.5 L711.5,2250.5 L715.5,2268.5 L697.5,2274.5 Z" fill="#ffffff" fill-opacity="0.2"/>
</g><g filter="url(#b1)"><g transform="rotate(-13 675.5 2217.5)"><rect x="649.5" y="2185.5" width="52.0" height="64.0" fill="#ea4f6c" rx="13"/>
<ellipse cx="675.5" cy="2198.5" rx="24.0" ry="11.0" fill="#f27088" fill-opacity="0.45"/>
<rect x="649.5" y="2226.5" width="52.0" height="23.0" fill="#d23a58" rx="11" fill-opacity="0.5"/>
</g><g transform="rotate(3 838.5 2203.5)"><rect x="810.5" y="2169.5" width="56.0" height="68.0" fill="#ea4f6c" rx="15"/>
<ellipse cx="838.5" cy="2184.5" rx="25.0" ry="12.0" fill="#f27088" fill-opacity="0.45"/>
<rect x="810.5" y="2214.5" width="56.0" height="23.0" fill="#d23a58" rx="11" fill-opacity="0.5"/>
</g><rect x="735.5" y="2272.5" width="28.0" height="42.0" fill="#ea4f6c" rx="3"/>
<rect x="767.5" y="2269.5" width="24.0" height="41.0" fill="#ea4f6c" rx="3"/>
<rect x="763.5" y="2278.5" width="4.5" height="28.0" fill="#fff4f6"/>
<rect x="735.5" y="2300.5" width="28.0" height="14.0" fill="#d23a58" rx="3" fill-opacity="0.45"/>
<rect x="767.5" y="2296.5" width="24.0" height="14.0" fill="#d23a58" rx="3" fill-opacity="0.45"/>
<path d="M595.5,2259.5 L593.5,2267.5 L621.5,2277.5 L623.5,2268.5 Z" fill="#fbfbfb"/>
<path d="M623.5,2265.5 L641.5,2269.5 L639.5,2294.5 L619.5,2288.5 Z" fill="#ea4f6c"/>
<path d="M641.5,2268.5 L669.5,2270.5 L673.5,2290.5 L645.5,2296.5 Z" fill="#f08a9a"/>
<ellipse cx="647.5" cy="2278.5" rx="7.0" ry="7.0" fill="#e8f0f6"/>
<path d="M920.5,2231.5 L924.5,2239.5 L898.5,2255.5 L893.5,2247.5 Z" fill="#fbfbfb"/>
<path d="M876.5,2252.5 L892.5,2246.5 L900.5,2266.5 L882.5,2272.5 Z" fill="#ea4f6c"/>
<ellipse cx="844.5" cy="2264.5" rx="11.0" ry="11.0" fill="#f48a9c"/>
<ellipse cx="846.5" cy="2260.5" rx="5.0" ry="4.5" fill="#f4f0f4"/>
<rect x="836.5" y="2272.5" width="16.0" height="7.0" fill="#ea4f6c" rx="2"/>
</g><text x="706.5" y="2210.3" font-family="'Liberation Sans','NanumGothic','Noto Sans CJK KR',sans-serif" font-size="19.5" font-weight="bold" fill="#000" textLength="101.7" lengthAdjust="spacingAndGlyphs">bot-25(예)</text>
</g><g id="chart2" transform="translate(-70.3,1447.7) scale(1.076)"><text x="119.8" y="897.7" font-family="'Liberation Sans','NanumGothic','Noto Sans CJK KR',sans-serif" font-size="16.5" fill="#111">*</text>
<text x="135.4" y="897.7" font-family="'Liberation Sans','NanumGothic','Noto Sans CJK KR',sans-serif" font-size="16.5" fill="#111" textLength="433.6" lengthAdjust="spacingAndGlyphs">GL Screw는 아래그림 참조하여 추가 할 수 있습니다.</text>
<ellipse cx="132.3" cy="915.5" rx="18.7" ry="9.2" fill="#e9c962" stroke="#8a7a3a" stroke-width="0.7"/>
<ellipse cx="132.3" cy="912.8" rx="18.7" ry="9.2" fill="#fdfdf6" stroke="#555" stroke-width="0.8"/>
<ellipse cx="132.3" cy="912.8" rx="8.4" ry="4.1" fill="#fff" stroke="#555" stroke-width="0.8"/>
<line x1="139.0" y1="912.2" x2="163.0" y2="912.2" stroke="#e02020" stroke-width="0.9"/>
<path d="M136.5,912.2 L142,910 L142,914.4 Z" fill="#e02020"/>
<text x="164.8" y="919.5" font-family="'Liberation Sans','NanumGothic','Noto Sans CJK KR',sans-serif" font-size="16" fill="#111" textLength="560.0" lengthAdjust="spacingAndGlyphs">ptfe/silicon Septa Hole(thermometer, Teflon Tubing, SUS Tubing을 체결할 수 있음)</text>
<text x="92.0" y="947.8" font-family="'Liberation Serif','Noto Serif CJK KR','Noto Serif CJK SC',serif" font-size="11.5" fill="#636363" textLength="86.6" lengthAdjust="spacingAndGlyphs">GL14 Glass Screw</text>
<text x="115.6" y="963.8" font-family="'Liberation Serif','Noto Serif CJK KR','Noto Serif CJK SC',serif" font-size="11.5" fill="#636363" textLength="10.4" lengthAdjust="spacingAndGlyphs">14</text>
<rect x="131.2" y="963.0" width="16.3" height="25.3" fill="#fff" stroke="#222" stroke-width="1"/>
<path d="M129.5,952.8 L129.5,961.8 A9.8,3.2 0 0 0 149.2,961.8 L149.2,952.8 Z" fill="#d6d6d6" stroke="#444" stroke-width="0.8"/>
<path d="M129.5,955.8 A9.8,3.2 0 0 0 149.2,955.8" fill="none" stroke="#4a4a4a" stroke-width="1.0"/>
<path d="M129.5,958.8 A9.8,3.2 0 0 0 149.2,958.8" fill="none" stroke="#4a4a4a" stroke-width="1.0"/>
<path d="M129.5,961.8 A9.8,3.2 0 0 0 149.2,961.8" fill="none" stroke="#4a4a4a" stroke-width="1.0"/>
<ellipse cx="139.3" cy="952.8" rx="9.8" ry="3.2" fill="#f0f0f0" stroke="#555" stroke-width="0.9"/>
<ellipse cx="139.3" cy="952.8" rx="7.6" ry="2.2" fill="#fff" stroke="#666" stroke-width="0.7"/>
<text x="119.8" y="1001.8" font-family="'Liberation Serif','Noto Serif CJK KR','Noto Serif CJK SC',serif" font-size="11.5" fill="#636363" textLength="38.1" lengthAdjust="spacingAndGlyphs">12*1.5T</text>
<text x="193.5" y="948.8" font-family="'Liberation Serif','Noto Serif CJK KR','Noto Serif CJK SC',serif" font-size="11.5" fill="#636363" textLength="82.0" lengthAdjust="spacingAndGlyphs">GL14 Closed Cap</text>
<text x="217.7" y="964.0" font-family="'Liberation Serif','Noto Serif CJK KR','Noto Serif CJK SC',serif" font-size="10" fill="#636363" textLength="35.3" lengthAdjust="spacingAndGlyphs">(마개용)</text>
<path d="M220.0,984.0 A12.5,2.6 0 0 0 245.0,984.0 L245.0,982.0 L220.0,982.0 Z" fill="#e0481a" stroke="#8f2a0c" stroke-width="0.7"/>
<path d="M221.5,976.4 L221.0,982.5 A11.5,2.6 0 0 0 244.0,982.5 L243.5,976.4 Z" fill="url(#ribO)" stroke="#8f2a0c" stroke-width="0.7"/>
<ellipse cx="232.5" cy="976.4" rx="11.0" ry="2.6" fill="#e0481a" stroke="#8f2a0c" stroke-width="0.7"/>
<text x="304.2" y="948.8" font-family="'Liberation Serif','Noto Serif CJK KR','Noto Serif CJK SC',serif" font-size="11.5" fill="#636363" textLength="73.4" lengthAdjust="spacingAndGlyphs">GL14 Open Cap</text>
<text x="319.8" y="964.0" font-family="'Liberation Serif','Noto Serif CJK KR','Noto Serif CJK SC',serif" font-size="10" fill="#636363" textLength="37.0" lengthAdjust="spacingAndGlyphs">(오픈용)</text>
<path d="M325.0,984.7 A12.1,2.6 0 0 0 349.2,984.7 L349.2,982.7 L325.0,982.7 Z" fill="#e0481a" stroke="#8f2a0c" stroke-width="0.7"/>
<path d="M326.5,977.4 L326.0,983.2 A11.1,2.6 0 0 0 348.2,983.2 L347.7,977.4 Z" fill="url(#ribO)" stroke="#8f2a0c" stroke-width="0.7"/>
<ellipse cx="337.1" cy="977.4" rx="10.6" ry="2.6" fill="#e0481a" stroke="#8f2a0c" stroke-width="0.7"/>
<ellipse cx="337.1" cy="977.6" rx="6.6" ry="1.5" fill="#fff" stroke="#8f2a0c" stroke-width="0.6"/>
<text x="317.4" y="1001.8" font-family="'Liberation Serif','Noto Serif CJK KR','Noto Serif CJK SC',serif" font-size="11.5" fill="#636363" textLength="39.4" lengthAdjust="spacingAndGlyphs">Hole 9.5</text>
<text x="403.6" y="949.2" font-family="'Liberation Serif','Noto Serif CJK KR','Noto Serif CJK SC',serif" font-size="11.5" fill="#636363" textLength="97.2" lengthAdjust="spacingAndGlyphs">GL14 Piercing Septa</text>
<text x="420.2" y="964.5" font-family="'Liberation Serif','Noto Serif CJK KR','Noto Serif CJK SC',serif" font-size="11.5" fill="#636363" textLength="75.1" lengthAdjust="spacingAndGlyphs">(Syringe 사용시)</text>
<text x="403.6" y="978.6" font-family="'Liberation Serif','Noto Serif CJK KR','Noto Serif CJK SC',serif" font-size="11.5" fill="#636363" textLength="123.8" lengthAdjust="spacingAndGlyphs">Silicon, PTFE/Butylrubber</text>
<text x="441.0" y="994.8" font-family="'Liberation Serif','Noto Serif CJK KR','Noto Serif CJK SC',serif" font-size="11.5" fill="#636363" textLength="29.3" lengthAdjust="spacingAndGlyphs">OD 13</text>
<line x1="441.0" y1="996.3" x2="470.3" y2="996.3" stroke="#555" stroke-width="0.7"/>
<ellipse cx="456.1" cy="1005.5" rx="12.5" ry="5.5" fill="#e6e6e6" stroke="#555" stroke-width="0.8"/>
<ellipse cx="456.1" cy="1003.5" rx="12.5" ry="5.5" fill="url(#disc)" stroke="#555" stroke-width="0.8"/>
<text x="520.5" y="949.8" font-family="'Liberation Serif','Noto Serif CJK KR','Noto Serif CJK SC',serif" font-size="11.5" fill="#636363" textLength="131.5" lengthAdjust="spacingAndGlyphs">GL14 Washer Sealing Septa</text>
<text x="547.2" y="964.0" font-family="'Liberation Serif','Noto Serif CJK KR','Noto Serif CJK SC',serif" font-size="10" fill="#636363" textLength="77.1" lengthAdjust="spacingAndGlyphs">(하드튜브 연결용)</text>
<text x="550.0" y="981.8" font-family="'Liberation Serif','Noto Serif CJK KR','Noto Serif CJK SC',serif" font-size="11.5" fill="#636363" textLength="86.4" lengthAdjust="spacingAndGlyphs">Hole ID 6mm, 1/4&quot;</text>
<text x="669.7" y="949.2" font-family="'Liberation Serif','Noto Serif CJK KR','Noto Serif CJK SC',serif" font-size="11.5" fill="#636363" textLength="144.3" lengthAdjust="spacingAndGlyphs">GL14 Open Cap and Connector</text>
<text x="708.4" y="963.3" font-family="'Liberation Serif','Noto Serif CJK KR','Noto Serif CJK SC',serif" font-size="10" fill="#636363" textLength="77.9" lengthAdjust="spacingAndGlyphs">(루버튜브 연결용)</text>
<text x="747.5" y="981.1" font-family="'Liberation Serif','Noto Serif CJK KR','Noto Serif CJK SC',serif" font-size="11.5" fill="#636363" textLength="23.9" lengthAdjust="spacingAndGlyphs">OD 8</text>
<path d="M708.4,1005.2 A8.7,2.8 0 0 0 725.7,1005.2 L725.7,1003.2 L708.4,1003.2 Z" fill="#e0481a" stroke="#8f2a0c" stroke-width="0.7"/>
<path d="M709.9,997.1 L709.4,1003.7 A7.7,2.8 0 0 0 724.7,1003.7 L724.2,997.1 Z" fill="url(#ribO)" stroke="#8f2a0c" stroke-width="0.7"/>
<ellipse cx="717.0" cy="997.1" rx="7.2" ry="2.8" fill="#e0481a" stroke="#8f2a0c" stroke-width="0.7"/>
<ellipse cx="717.0" cy="997.3" rx="4.4" ry="1.7" fill="#fff" stroke="#8f2a0c" stroke-width="0.6"/>
<rect x="714.7" y="982.8" width="5.2" height="15.6" fill="#fff" stroke="#333" stroke-width="0.8"/>
<path d="M714.7,971.4 L719.9,971.4 L721.6,974.7 L720.4,975.5 L714.2,975.5 L713.0,974.7 Z" fill="#fff" stroke="#333" stroke-width="0.8"/>
<path d="M714.7,975.5 L719.9,975.5 L721.6,978.9 L720.4,979.7 L714.2,979.7 L713.0,978.9 Z" fill="#fff" stroke="#333" stroke-width="0.8"/>
<path d="M714.7,979.7 L719.9,979.7 L721.6,983.0 L720.4,983.8 L714.2,983.8 L713.0,983.0 Z" fill="#fff" stroke="#333" stroke-width="0.8"/>
<rect x="715.1" y="971.8" width="4.4" height="1.6" fill="#cfcfcf"/>
<text x="832.0" y="949.2" font-family="'Liberation Serif','Noto Serif CJK KR','Noto Serif CJK SC',serif" font-size="11.5" fill="#636363" textLength="131.9" lengthAdjust="spacingAndGlyphs">GL14 Screw Type SVS Cap</text>
<text x="864.8" y="963.3" font-family="'Liberation Serif','Noto Serif CJK KR','Noto Serif CJK SC',serif" font-size="10" fill="#636363" textLength="59.9" lengthAdjust="spacingAndGlyphs">(보틀 연결용)</text>
<path d="M865.6,976.2 L873.7,976.2 A2.9,9.2 0 0 1 873.7,994.6 L865.6,994.6 A2.6,9.2 0 0 1 865.6,976.2 Z" fill="url(#ribH)" stroke="#8f2a0c" stroke-width="0.8"/>
<ellipse cx="873.7" cy="985.4" rx="2.9" ry="9.2" fill="#e0481a" stroke="#8f2a0c" stroke-width="0.7"/>
<path d="M894.4,976.2 L886.3,976.2 A2.9,9.2 0 0 0 886.3,994.6 L894.4,994.6 A2.6,9.2 0 0 0 894.4,976.2 Z" fill="url(#ribH)" stroke="#8f2a0c" stroke-width="0.8"/>
<ellipse cx="886.3" cy="985.4" rx="2.9" ry="9.2" fill="#e0481a" stroke="#8f2a0c" stroke-width="0.7"/>
<rect x="874.7" y="980.4" width="10.6" height="9.9" fill="#fff"/>
<line x1="875.7" y1="980.4" x2="884.3" y2="980.4" stroke="#bdbdbd" stroke-width="1.3"/>
<line x1="875.7" y1="990.4" x2="884.3" y2="990.4" stroke="#bdbdbd" stroke-width="1.3"/>
<ellipse cx="875.3" cy="985.4" rx="2.2" ry="5.6" fill="#fff"/>
<ellipse cx="884.7" cy="985.4" rx="2.2" ry="5.6" fill="#fff"/>
<text x="93.8" y="1026.8" font-family="'Liberation Serif','Noto Serif CJK KR','Noto Serif CJK SC',serif" font-size="11.5" fill="#636363" textLength="86.5" lengthAdjust="spacingAndGlyphs">GL18 Glass Screw</text>
<text x="117.4" y="1049.6" font-family="'Liberation Serif','Noto Serif CJK KR','Noto Serif CJK SC',serif" font-size="11.5" fill="#636363" textLength="10.4" lengthAdjust="spacingAndGlyphs">18</text>
<rect x="131.5" y="1052.0" width="22.1" height="23.9" fill="#fff" stroke="#222" stroke-width="1"/>
<path d="M129.5,1039.1 L129.5,1049.9 A13.0,4.1 0 0 0 155.4,1049.9 L155.4,1039.1 Z" fill="#d6d6d6" stroke="#444" stroke-width="0.8"/>
<path d="M129.5,1042.7 A13.0,4.1 0 0 0 155.4,1042.7" fill="none" stroke="#4a4a4a" stroke-width="1.0"/>
<path d="M129.5,1046.3 A13.0,4.1 0 0 0 155.4,1046.3" fill="none" stroke="#4a4a4a" stroke-width="1.0"/>
<path d="M129.5,1049.9 A13.0,4.1 0 0 0 155.4,1049.9" fill="none" stroke="#4a4a4a" stroke-width="1.0"/>
<ellipse cx="142.4" cy="1039.1" rx="13.0" ry="4.1" fill="#f0f0f0" stroke="#555" stroke-width="0.9"/>
<ellipse cx="142.4" cy="1039.1" rx="10.8" ry="3.1" fill="#fff" stroke="#666" stroke-width="0.7"/>
<text x="120.8" y="1088.3" font-family="'Liberation Serif','Noto Serif CJK KR','Noto Serif CJK SC',serif" font-size="11.5" fill="#636363" textLength="38.1" lengthAdjust="spacingAndGlyphs">16*1.8T</text>
<text x="196.0" y="1027.8" font-family="'Liberation Serif','Noto Serif CJK KR','Noto Serif CJK SC',serif" font-size="11.5" fill="#636363" textLength="81.2" lengthAdjust="spacingAndGlyphs">GL18 Closed Cap</text>
<path d="M217.4,1062.3 A13.8,2.9 0 0 0 245.0,1062.3 L245.0,1060.3 L217.4,1060.3 Z" fill="#e0481a" stroke="#8f2a0c" stroke-width="0.7"/>
<path d="M218.9,1053.9 L218.4,1060.8 A12.8,2.9 0 0 0 244.0,1060.8 L243.5,1053.9 Z" fill="url(#ribO)" stroke="#8f2a0c" stroke-width="0.7"/>
<ellipse cx="231.2" cy="1053.9" rx="12.3" ry="2.9" fill="#e0481a" stroke="#8f2a0c" stroke-width="0.7"/>
<text x="305.6" y="1027.8" font-family="'Liberation Serif','Noto Serif CJK KR','Noto Serif CJK SC',serif" font-size="11.5" fill="#636363" textLength="72.7" lengthAdjust="spacingAndGlyphs">GL18 Open Cap</text>
<path d="M323.3,1062.2 A12.9,2.9 0 0 0 349.2,1062.2 L349.2,1060.2 L323.3,1060.2 Z" fill="#e0481a" stroke="#8f2a0c" stroke-width="0.7"/>
<path d="M324.8,1053.8 L324.3,1060.7 A11.9,2.9 0 0 0 348.2,1060.7 L347.7,1053.8 Z" fill="url(#ribO)" stroke="#8f2a0c" stroke-width="0.7"/>
<ellipse cx="336.2" cy="1053.8" rx="11.4" ry="2.9" fill="#e0481a" stroke="#8f2a0c" stroke-width="0.7"/>
<ellipse cx="336.2" cy="1054.0" rx="7.1" ry="1.7" fill="#fff" stroke="#8f2a0c" stroke-width="0.6"/>
<text x="318.8" y="1080.8" font-family="'Liberation Serif','Noto Serif CJK KR','Noto Serif CJK SC',serif" font-size="11.5" fill="#636363" textLength="35.2" lengthAdjust="spacingAndGlyphs">Hole 11</text>
<text x="403.6" y="1027.8" font-family="'Liberation Serif','Noto Serif CJK KR','Noto Serif CJK SC',serif" font-size="11.5" fill="#636363" textLength="97.2" lengthAdjust="spacingAndGlyphs">GL18 Piercing Septa</text>
<text x="403.6" y="1044.0" font-family="'Liberation Serif','Noto Serif CJK KR','Noto Serif CJK SC',serif" font-size="11.5" fill="#636363" textLength="123.8" lengthAdjust="spacingAndGlyphs">Silicon, PTFE/Butylrubber</text>
<text x="420.2" y="1057.8" font-family="'Liberation Serif','Noto Serif CJK KR','Noto Serif CJK SC',serif" font-size="11.5" fill="#636363" textLength="75.1" lengthAdjust="spacingAndGlyphs">(Syringe 사용시)</text>
<text x="442.7" y="1074.5" font-family="'Liberation Serif','Noto Serif CJK KR','Noto Serif CJK SC',serif" font-size="11.5" fill="#636363" textLength="28.3" lengthAdjust="spacingAndGlyphs">OD 16</text>
<line x1="442.7" y1="1076.0" x2="471.0" y2="1076.0" stroke="#555" stroke-width="0.7"/>
<ellipse cx="457.2" cy="1085.0" rx="15.6" ry="5.4" fill="#e6e6e6" stroke="#555" stroke-width="0.8"/>
<ellipse cx="457.2" cy="1083.0" rx="15.6" ry="5.4" fill="url(#disc)" stroke="#555" stroke-width="0.8"/>
<text x="520.5" y="1029.5" font-family="'Liberation Serif','Noto Serif CJK KR','Noto Serif CJK SC',serif" font-size="11.5" fill="#636363" textLength="131.5" lengthAdjust="spacingAndGlyphs">GL18 Washer Sealing Septa</text>
<text x="550.6" y="1044.0" font-family="'Liberation Serif','Noto Serif CJK KR','Noto Serif CJK SC',serif" font-size="11.5" fill="#636363" textLength="86.4" lengthAdjust="spacingAndGlyphs">Hole ID 6mm, 1/4&quot;</text>
<text x="550.6" y="1057.2" font-family="'Liberation Serif','Noto Serif CJK KR','Noto Serif CJK SC',serif" font-size="11.5" fill="#636363" textLength="61.6" lengthAdjust="spacingAndGlyphs">Hole ID 8mm</text>
<text x="550.6" y="1073.8" font-family="'Liberation Serif','Noto Serif CJK KR','Noto Serif CJK SC',serif" font-size="11.5" fill="#636363" textLength="101.4" lengthAdjust="spacingAndGlyphs">Hole ID, 3/8&quot; , 10mm</text>
<ellipse cx="578.0" cy="1088.3" rx="15.2" ry="8.0" fill="#e9c962" stroke="#8a7a3a" stroke-width="0.7"/>
<ellipse cx="578.0" cy="1085.5" rx="15.2" ry="8.0" fill="#fdfdf6" stroke="#555" stroke-width="0.8"/>
<ellipse cx="578.0" cy="1085.5" rx="6.9" ry="3.6" fill="#fff" stroke="#555" stroke-width="0.8"/>
<text x="669.7" y="1028.5" font-family="'Liberation Serif','Noto Serif CJK KR','Noto Serif CJK SC',serif" font-size="11.5" fill="#636363" textLength="144.3" lengthAdjust="spacingAndGlyphs">GL18 Open Cap and Connector</text>
<text x="747.5" y="1046.8" font-family="'Liberation Serif','Noto Serif CJK KR','Noto Serif CJK SC',serif" font-size="11.5" fill="#636363" textLength="30.1" lengthAdjust="spacingAndGlyphs">OD 10</text>
<path d="M705.0,1085.4 A12.2,3.6 0 0 0 729.5,1085.4 L729.5,1083.4 L705.0,1083.4 Z" fill="#e0481a" stroke="#8f2a0c" stroke-width="0.7"/>
<path d="M706.5,1074.6 L706.0,1083.9 A11.2,3.6 0 0 0 728.5,1083.9 L728.0,1074.6 Z" fill="url(#ribO)" stroke="#8f2a0c" stroke-width="0.7"/>
<ellipse cx="717.2" cy="1074.6" rx="10.8" ry="3.6" fill="#e0481a" stroke="#8f2a0c" stroke-width="0.7"/>
<ellipse cx="717.2" cy="1074.8" rx="6.7" ry="2.2" fill="#fff" stroke="#8f2a0c" stroke-width="0.6"/>
<rect x="714.1" y="1054.5" width="6.2" height="21.9" fill="#fff" stroke="#333" stroke-width="0.8"/>
<path d="M714.1,1037.0 L720.2,1037.0 L722.3,1041.9 L720.9,1043.2 L713.4,1043.2 L712.0,1041.9 Z" fill="#fff" stroke="#333" stroke-width="0.8"/>
<path d="M714.1,1043.2 L720.2,1043.2 L722.3,1048.1 L720.9,1049.3 L713.4,1049.3 L712.0,1048.1 Z" fill="#fff" stroke="#333" stroke-width="0.8"/>
<path d="M714.1,1049.3 L720.2,1049.3 L722.3,1054.3 L720.9,1055.5 L713.4,1055.5 L712.0,1054.3 Z" fill="#fff" stroke="#333" stroke-width="0.8"/>
<rect x="714.5" y="1037.4" width="5.4" height="1.6" fill="#cfcfcf"/>
<text x="833.7" y="1028.5" font-family="'Liberation Serif','Noto Serif CJK KR','Noto Serif CJK SC',serif" font-size="11.5" fill="#636363" textLength="131.9" lengthAdjust="spacingAndGlyphs">GL18 Screw Type SVS Cap</text>
<path d="M866.1,1040.6 L874.4,1040.6 A2.9,11.6 0 0 1 874.4,1063.8 L866.1,1063.8 A2.6,11.6 0 0 1 866.1,1040.6 Z" fill="url(#ribH)" stroke="#8f2a0c" stroke-width="0.8"/>
<ellipse cx="874.4" cy="1052.2" rx="2.9" ry="11.6" fill="#e0481a" stroke="#8f2a0c" stroke-width="0.7"/>
<path d="M895.4,1040.6 L887.1,1040.6 A2.9,11.6 0 0 0 887.1,1063.8 L895.4,1063.8 A2.6,11.6 0 0 0 895.4,1040.6 Z" fill="url(#ribH)" stroke="#8f2a0c" stroke-width="0.8"/>
<ellipse cx="887.1" cy="1052.2" rx="2.9" ry="11.6" fill="#e0481a" stroke="#8f2a0c" stroke-width="0.7"/>
<rect x="875.4" y="1045.9" width="10.8" height="12.5" fill="#fff"/>
<line x1="876.4" y1="1045.9" x2="885.1" y2="1045.9" stroke="#bdbdbd" stroke-width="1.3"/>
<line x1="876.4" y1="1058.5" x2="885.1" y2="1058.5" stroke="#bdbdbd" stroke-width="1.3"/>
<ellipse cx="876.0" cy="1052.2" rx="2.2" ry="6.9" fill="#fff"/>
<ellipse cx="885.5" cy="1052.2" rx="2.2" ry="6.9" fill="#fff"/>
<text x="92.8" y="1117.4" font-family="'Liberation Serif','Noto Serif CJK KR','Noto Serif CJK SC',serif" font-size="11.5" fill="#636363" textLength="87.5" lengthAdjust="spacingAndGlyphs">GL25 Glass Screw</text>
<text x="114.6" y="1137.4" font-family="'Liberation Serif','Noto Serif CJK KR','Noto Serif CJK SC',serif" font-size="11.5" fill="#636363" textLength="10.4" lengthAdjust="spacingAndGlyphs">25</text>
<rect x="130.9" y="1142.0" width="28.0" height="26.2" fill="#fff" stroke="#222" stroke-width="1"/>
<path d="M128.4,1126.9 L128.4,1138.6 A16.8,5.4 0 0 0 162.0,1138.6 L162.0,1126.9 Z" fill="#d6d6d6" stroke="#444" stroke-width="0.8"/>
<path d="M128.4,1129.8 A16.8,5.4 0 0 0 162.0,1129.8" fill="none" stroke="#4a4a4a" stroke-width="1.0"/>
<path d="M128.4,1132.8 A16.8,5.4 0 0 0 162.0,1132.8" fill="none" stroke="#4a4a4a" stroke-width="1.0"/>
<path d="M128.4,1135.7 A16.8,5.4 0 0 0 162.0,1135.7" fill="none" stroke="#4a4a4a" stroke-width="1.0"/>
<path d="M128.4,1138.6 A16.8,5.4 0 0 0 162.0,1138.6" fill="none" stroke="#4a4a4a" stroke-width="1.0"/>
<ellipse cx="145.2" cy="1126.9" rx="16.8" ry="5.4" fill="#f0f0f0" stroke="#555" stroke-width="0.9"/>
<ellipse cx="145.2" cy="1126.9" rx="14.6" ry="4.4" fill="#fff" stroke="#666" stroke-width="0.7"/>
<text x="123.3" y="1181.8" font-family="'Liberation Serif','Noto Serif CJK KR','Noto Serif CJK SC',serif" font-size="11.5" fill="#636363" textLength="38.7" lengthAdjust="spacingAndGlyphs">22*1.8T</text>
<text x="194.9" y="1118.4" font-family="'Liberation Serif','Noto Serif CJK KR','Noto Serif CJK SC',serif" font-size="11.5" fill="#636363" textLength="81.3" lengthAdjust="spacingAndGlyphs">GL25 Closed Cap</text>
<path d="M215.0,1158.3 A17.3,3.7 0 0 0 249.6,1158.3 L249.6,1156.3 L215.0,1156.3 Z" fill="#e0481a" stroke="#8f2a0c" stroke-width="0.7"/>
<path d="M216.5,1147.0 L216.0,1156.8 A16.3,3.7 0 0 0 248.6,1156.8 L248.1,1147.0 Z" fill="url(#ribO)" stroke="#8f2a0c" stroke-width="0.7"/>
<ellipse cx="232.3" cy="1147.0" rx="15.8" ry="3.7" fill="#e0481a" stroke="#8f2a0c" stroke-width="0.7"/>
<text x="305.0" y="1117.8" font-family="'Liberation Serif','Noto Serif CJK KR','Noto Serif CJK SC',serif" font-size="11.5" fill="#636363" textLength="73.3" lengthAdjust="spacingAndGlyphs">GL25 Open Cap</text>
<path d="M319.8,1158.3 A16.2,3.7 0 0 0 352.3,1158.3 L352.3,1156.3 L319.8,1156.3 Z" fill="#e0481a" stroke="#8f2a0c" stroke-width="0.7"/>
<path d="M321.3,1147.0 L320.8,1156.8 A15.2,3.7 0 0 0 351.3,1156.8 L350.8,1147.0 Z" fill="url(#ribO)" stroke="#8f2a0c" stroke-width="0.7"/>
<ellipse cx="336.1" cy="1147.0" rx="14.8" ry="3.7" fill="#e0481a" stroke="#8f2a0c" stroke-width="0.7"/>
<ellipse cx="336.1" cy="1147.2" rx="9.1" ry="2.2" fill="#fff" stroke="#8f2a0c" stroke-width="0.6"/>
<text x="318.8" y="1174.5" font-family="'Liberation Serif','Noto Serif CJK KR','Noto Serif CJK SC',serif" font-size="11.5" fill="#636363" textLength="36.2" lengthAdjust="spacingAndGlyphs">Hole 15</text>
<text x="404.6" y="1118.4" font-family="'Liberation Serif','Noto Serif CJK KR','Noto Serif CJK SC',serif" font-size="11.5" fill="#636363" textLength="96.9" lengthAdjust="spacingAndGlyphs">GL25 Piercing Septa</text>
<text x="402.2" y="1135.0" font-family="'Liberation Serif','Noto Serif CJK KR','Noto Serif CJK SC',serif" font-size="11.5" fill="#636363" textLength="123.5" lengthAdjust="spacingAndGlyphs">Silicon, PTFE/Butylrubber</text>
<text x="419.5" y="1149.5" font-family="'Liberation Serif','Noto Serif CJK KR','Noto Serif CJK SC',serif" font-size="11.5" fill="#636363" textLength="75.1" lengthAdjust="spacingAndGlyphs">(Syringe 사용시)</text>
<text x="444.4" y="1166.8" font-family="'Liberation Serif','Noto Serif CJK KR','Noto Serif CJK SC',serif" font-size="11.5" fill="#636363" textLength="29.4" lengthAdjust="spacingAndGlyphs">OD 23</text>
<line x1="444.4" y1="1168.3" x2="473.8" y2="1168.3" stroke="#555" stroke-width="0.7"/>
<ellipse cx="458.8" cy="1177.0" rx="18.6" ry="5.8" fill="#e6e6e6" stroke="#555" stroke-width="0.8"/>
<ellipse cx="458.8" cy="1175.0" rx="18.6" ry="5.8" fill="url(#disc)" stroke="#555" stroke-width="0.8"/>
<text x="520.5" y="1120.1" font-family="'Liberation Serif','Noto Serif CJK KR','Noto Serif CJK SC',serif" font-size="11.5" fill="#636363" textLength="131.5" lengthAdjust="spacingAndGlyphs">GL25 Washer Sealing Septa</text>
<text x="550.6" y="1136.4" font-family="'Liberation Serif','Noto Serif CJK KR','Noto Serif CJK SC',serif" font-size="11.5" fill="#636363" textLength="61.6" lengthAdjust="spacingAndGlyphs">Hole ID 8mm</text>
<text x="550.6" y="1150.2" font-family="'Liberation Serif','Noto Serif CJK KR','Noto Serif CJK SC',serif" font-size="11.5" fill="#636363" textLength="99.0" lengthAdjust="spacingAndGlyphs">Hole ID 3/8&quot; , 10mm</text>
<text x="550.6" y="1165.8" font-family="'Liberation Serif','Noto Serif CJK KR','Noto Serif CJK SC',serif" font-size="11.5" fill="#636363" textLength="92.8" lengthAdjust="spacingAndGlyphs">Hole ID 12mm, 1/2&quot;</text>
<ellipse cx="577.6" cy="1183.5" rx="19.0" ry="9.0" fill="#e9c962" stroke="#8a7a3a" stroke-width="0.7"/>
<ellipse cx="577.6" cy="1180.7" rx="19.0" ry="9.0" fill="#fdfdf6" stroke="#555" stroke-width="0.8"/>
<ellipse cx="577.6" cy="1180.7" rx="8.6" ry="4.0" fill="#fff" stroke="#555" stroke-width="0.8"/>
<text x="670.4" y="1118.4" font-family="'Liberation Serif','Noto Serif CJK KR','Noto Serif CJK SC',serif" font-size="11.5" fill="#636363" textLength="143.6" lengthAdjust="spacingAndGlyphs">GL25 Open Cap and Connector</text>
<text x="747.5" y="1136.8" font-family="'Liberation Serif','Noto Serif CJK KR','Noto Serif CJK SC',serif" font-size="11.5" fill="#636363" textLength="29.1" lengthAdjust="spacingAndGlyphs">OD 15</text>
<path d="M704.0,1179.8 A13.5,4.0 0 0 0 731.0,1179.8 L731.0,1177.8 L704.0,1177.8 Z" fill="#e0481a" stroke="#8f2a0c" stroke-width="0.7"/>
<path d="M705.5,1168.0 L705.0,1178.3 A12.5,4.0 0 0 0 730.0,1178.3 L729.5,1168.0 Z" fill="url(#ribO)" stroke="#8f2a0c" stroke-width="0.7"/>
<ellipse cx="717.5" cy="1168.0" rx="12.0" ry="4.0" fill="#e0481a" stroke="#8f2a0c" stroke-width="0.7"/>
<ellipse cx="717.5" cy="1168.2" rx="7.4" ry="2.4" fill="#fff" stroke="#8f2a0c" stroke-width="0.6"/>
<rect x="714.4" y="1145.6" width="7.2" height="24.3" fill="#fff" stroke="#333" stroke-width="0.8"/>
<path d="M714.4,1126.7 L721.6,1126.7 L724.0,1132.0 L722.3,1133.3 L713.7,1133.3 L712.0,1132.0 Z" fill="#fff" stroke="#333" stroke-width="0.8"/>
<path d="M714.4,1133.3 L721.6,1133.3 L724.0,1138.6 L722.3,1140.0 L713.7,1140.0 L712.0,1138.6 Z" fill="#fff" stroke="#333" stroke-width="0.8"/>
<path d="M714.4,1140.0 L721.6,1140.0 L724.0,1145.3 L722.3,1146.6 L713.7,1146.6 L712.0,1145.3 Z" fill="#fff" stroke="#333" stroke-width="0.8"/>
<rect x="714.8" y="1127.1" width="6.4" height="1.6" fill="#cfcfcf"/>
<text x="833.0" y="1118.4" font-family="'Liberation Serif','Noto Serif CJK KR','Noto Serif CJK SC',serif" font-size="11.5" fill="#636363" textLength="131.9" lengthAdjust="spacingAndGlyphs">GL25 Screw Type SVS Cap</text>
<path d="M857.1,1129.5 L870.6,1129.5 A3.7,13.0 0 0 1 870.6,1155.4 L857.1,1155.4 A2.6,13.0 0 0 1 857.1,1129.5 Z" fill="url(#ribH)" stroke="#8f2a0c" stroke-width="0.8"/>
<ellipse cx="870.6" cy="1142.5" rx="3.7" ry="13.0" fill="#e0481a" stroke="#8f2a0c" stroke-width="0.7"/>
<path d="M901.4,1129.5 L887.9,1129.5 A3.7,13.0 0 0 0 887.9,1155.4 L901.4,1155.4 A2.6,13.0 0 0 0 901.4,1129.5 Z" fill="url(#ribH)" stroke="#8f2a0c" stroke-width="0.8"/>
<ellipse cx="887.9" cy="1142.5" rx="3.7" ry="13.0" fill="#e0481a" stroke="#8f2a0c" stroke-width="0.7"/>
<rect x="871.6" y="1135.5" width="15.2" height="14.0" fill="#fff"/>
<line x1="872.6" y1="1135.5" x2="885.9" y2="1135.5" stroke="#bdbdbd" stroke-width="1.3"/>
<line x1="872.6" y1="1149.4" x2="885.9" y2="1149.4" stroke="#bdbdbd" stroke-width="1.3"/>
<ellipse cx="872.2" cy="1142.5" rx="2.8" ry="7.6" fill="#fff"/>
<ellipse cx="886.3" cy="1142.5" rx="2.8" ry="7.6" fill="#fff"/>
<text x="92.8" y="1222.2" font-family="'Liberation Serif','Noto Serif CJK KR','Noto Serif CJK SC',serif" font-size="11.5" fill="#636363" textLength="87.5" lengthAdjust="spacingAndGlyphs">GL32 Glass Screw</text>
<text x="112.9" y="1243.7" font-family="'Liberation Serif','Noto Serif CJK KR','Noto Serif CJK SC',serif" font-size="11.5" fill="#636363" textLength="11.4" lengthAdjust="spacingAndGlyphs">32</text>
<rect x="130.9" y="1250.0" width="32.1" height="28.3" fill="#fff" stroke="#222" stroke-width="1"/>
<path d="M127.8,1232.8 L127.8,1246.2 A18.1,5.8 0 0 0 164.0,1246.2 L164.0,1232.8 Z" fill="#d6d6d6" stroke="#444" stroke-width="0.8"/>
<path d="M127.8,1236.1 A18.1,5.8 0 0 0 164.0,1236.1" fill="none" stroke="#4a4a4a" stroke-width="1.0"/>
<path d="M127.8,1239.5 A18.1,5.8 0 0 0 164.0,1239.5" fill="none" stroke="#4a4a4a" stroke-width="1.0"/>
<path d="M127.8,1242.9 A18.1,5.8 0 0 0 164.0,1242.9" fill="none" stroke="#4a4a4a" stroke-width="1.0"/>
<path d="M127.8,1246.2 A18.1,5.8 0 0 0 164.0,1246.2" fill="none" stroke="#4a4a4a" stroke-width="1.0"/>
<ellipse cx="145.9" cy="1232.8" rx="18.1" ry="5.8" fill="#f0f0f0" stroke="#555" stroke-width="0.9"/>
<ellipse cx="145.9" cy="1232.8" rx="15.9" ry="4.8" fill="#fff" stroke="#666" stroke-width="0.7"/>
<text x="126.0" y="1292.1" font-family="'Liberation Serif','Noto Serif CJK KR','Noto Serif CJK SC',serif" font-size="11.5" fill="#636363" textLength="38.8" lengthAdjust="spacingAndGlyphs">28*2.0T</text>
<text x="194.9" y="1223.2" font-family="'Liberation Serif','Noto Serif CJK KR','Noto Serif CJK SC',serif" font-size="11.5" fill="#636363" textLength="81.3" lengthAdjust="spacingAndGlyphs">GL32 Closed Cap</text>
<path d="M212.2,1262.6 A19.9,4.3 0 0 0 252.0,1262.6 L252.0,1260.6 L212.2,1260.6 Z" fill="#e0481a" stroke="#8f2a0c" stroke-width="0.7"/>
<path d="M213.7,1249.7 L213.2,1261.1 A18.9,4.3 0 0 0 251.0,1261.1 L250.5,1249.7 Z" fill="url(#ribO)" stroke="#8f2a0c" stroke-width="0.7"/>
<ellipse cx="232.1" cy="1249.7" rx="18.4" ry="4.3" fill="#e0481a" stroke="#8f2a0c" stroke-width="0.7"/>
<text x="305.0" y="1222.8" font-family="'Liberation Serif','Noto Serif CJK KR','Noto Serif CJK SC',serif" font-size="11.5" fill="#636363" textLength="73.3" lengthAdjust="spacingAndGlyphs">GL32 Open Cap</text>
<path d="M317.0,1263.2 A20.4,4.4 0 0 0 357.9,1263.2 L357.9,1261.2 L317.0,1261.2 Z" fill="#e0481a" stroke="#8f2a0c" stroke-width="0.7"/>
<path d="M318.5,1249.8 L318.0,1261.7 A19.4,4.4 0 0 0 356.9,1261.7 L356.4,1249.8 Z" fill="url(#ribO)" stroke="#8f2a0c" stroke-width="0.7"/>
<ellipse cx="337.4" cy="1249.8" rx="18.9" ry="4.4" fill="#e0481a" stroke="#8f2a0c" stroke-width="0.7"/>
<ellipse cx="337.4" cy="1250.0" rx="11.7" ry="2.6" fill="#fff" stroke="#8f2a0c" stroke-width="0.6"/>
<text x="318.8" y="1281.0" font-family="'Liberation Serif','Noto Serif CJK KR','Noto Serif CJK SC',serif" font-size="11.5" fill="#636363" textLength="36.2" lengthAdjust="spacingAndGlyphs">Hole 20</text>
<text x="404.6" y="1223.2" font-family="'Liberation Serif','Noto Serif CJK KR','Noto Serif CJK SC',serif" font-size="11.5" fill="#636363" textLength="96.9" lengthAdjust="spacingAndGlyphs">GL32 Piercing Septa</text>
<text x="402.2" y="1240.2" font-family="'Liberation Serif','Noto Serif CJK KR','Noto Serif CJK SC',serif" font-size="11.5" fill="#636363" textLength="123.5" lengthAdjust="spacingAndGlyphs">Silicon, PTFE/Butylrubber</text>
<text x="419.5" y="1254.4" font-family="'Liberation Serif','Noto Serif CJK KR','Noto Serif CJK SC',serif" font-size="11.5" fill="#636363" textLength="75.1" lengthAdjust="spacingAndGlyphs">(Syringe 사용시)</text>
<text x="447.9" y="1272.4" font-family="'Liberation Serif','Noto Serif CJK KR','Noto Serif CJK SC',serif" font-size="11.5" fill="#636363" textLength="29.4" lengthAdjust="spacingAndGlyphs">OD 30</text>
<line x1="447.9" y1="1273.6" x2="477.3" y2="1273.6" stroke="#555" stroke-width="0.7"/>
<ellipse cx="462.7" cy="1282.6" rx="22.5" ry="6.1" fill="#e6e6e6" stroke="#555" stroke-width="0.8"/>
<ellipse cx="462.7" cy="1280.6" rx="22.5" ry="6.1" fill="url(#disc)" stroke="#555" stroke-width="0.8"/>
<text x="520.5" y="1225.7" font-family="'Liberation Serif','Noto Serif CJK KR','Noto Serif CJK SC',serif" font-size="11.5" fill="#636363" textLength="131.5" lengthAdjust="spacingAndGlyphs">GL32 Washer Sealing Septa</text>
<text x="550.6" y="1241.2" font-family="'Liberation Serif','Noto Serif CJK KR','Noto Serif CJK SC',serif" font-size="11.5" fill="#636363" textLength="66.4" lengthAdjust="spacingAndGlyphs">Hole ID 10mm</text>
<text x="550.6" y="1254.4" font-family="'Liberation Serif','Noto Serif CJK KR','Noto Serif CJK SC',serif" font-size="11.5" fill="#636363" textLength="92.8" lengthAdjust="spacingAndGlyphs">Hole ID 12mm, 1/2&quot;</text>
<text x="550.6" y="1270.0" font-family="'Liberation Serif','Noto Serif CJK KR','Noto Serif CJK SC',serif" font-size="11.5" fill="#636363" textLength="66.4" lengthAdjust="spacingAndGlyphs">Hole ID 14mm</text>
<text x="550.6" y="1283.5" font-family="'Liberation Serif','Noto Serif CJK KR','Noto Serif CJK SC',serif" font-size="11.5" fill="#636363" textLength="66.4" lengthAdjust="spacingAndGlyphs">Hole ID 16mm</text>
<text x="550.6" y="1295.8" font-family="'Liberation Serif','Noto Serif CJK KR','Noto Serif CJK SC',serif" font-size="11.5" fill="#636363" textLength="66.4" lengthAdjust="spacingAndGlyphs">Hole ID 18mm</text>
<ellipse cx="577.5" cy="1310.1" rx="21.9" ry="10.3" fill="#e9c962" stroke="#8a7a3a" stroke-width="0.7"/>
<ellipse cx="577.5" cy="1307.3" rx="21.9" ry="10.3" fill="#fdfdf6" stroke="#555" stroke-width="0.8"/>
<ellipse cx="577.5" cy="1307.3" rx="9.9" ry="4.6" fill="#fff" stroke="#555" stroke-width="0.8"/>
<text x="672.8" y="1226.1" font-family="'Liberation Serif','Noto Serif CJK KR','Noto Serif CJK SC',serif" font-size="10.5" fill="#636363" textLength="130.2" lengthAdjust="spacingAndGlyphs">GL14 Open Cap and Connector</text>
<text x="708.4" y="1237.0" font-family="'Liberation Serif','Noto Serif CJK KR','Noto Serif CJK SC',serif" font-size="9" fill="#636363" textLength="69.9" lengthAdjust="spacingAndGlyphs">(루버튜브 연결용)</text>
<text x="747.5" y="1253.4" font-family="'Liberation Serif','Noto Serif CJK KR','Noto Serif CJK SC',serif" font-size="11.5" fill="#636363" textLength="23.2" lengthAdjust="spacingAndGlyphs">OD 8</text>
<path d="M717.3,1270.6 L717.3,1262.6 Q717.3,1254.6 726.4,1252.0 L734.4,1244.0" fill="none" stroke="#333" stroke-width="7.6" stroke-linejoin="round"/>
<path d="M717.3,1270.6 L717.3,1262.6 Q717.3,1254.6 726.4,1252.0 L734.4,1244.0" fill="none" stroke="#fff" stroke-width="6" stroke-linejoin="round"/>
<line x1="730.4" y1="1242.1" x2="736.3" y2="1248.0" stroke="#333" stroke-width="0.9"/>
<line x1="728.1" y1="1244.4" x2="734.0" y2="1250.3" stroke="#333" stroke-width="0.9"/>
<line x1="725.8" y1="1246.6" x2="731.8" y2="1252.6" stroke="#333" stroke-width="0.9"/>
<path d="M708.4,1276.5 A8.9,2.5 0 0 0 726.2,1276.5 L726.2,1274.5 L708.4,1274.5 Z" fill="#e0481a" stroke="#8f2a0c" stroke-width="0.7"/>
<path d="M709.9,1269.1 L709.4,1275.0 A7.9,2.5 0 0 0 725.2,1275.0 L724.7,1269.1 Z" fill="url(#ribO)" stroke="#8f2a0c" stroke-width="0.7"/>
<ellipse cx="717.3" cy="1269.1" rx="7.4" ry="2.5" fill="#e0481a" stroke="#8f2a0c" stroke-width="0.7"/>
<ellipse cx="717.3" cy="1269.3" rx="4.6" ry="1.5" fill="#fff" stroke="#8f2a0c" stroke-width="0.6"/>
<text x="672.8" y="1292.2" font-family="'Liberation Serif','Noto Serif CJK KR','Noto Serif CJK SC',serif" font-size="10.5" fill="#636363" textLength="130.2" lengthAdjust="spacingAndGlyphs">GL18 Open Cap and Connector</text>
<text x="747.6" y="1311.1" font-family="'Liberation Serif','Noto Serif CJK KR','Noto Serif CJK SC',serif" font-size="11.5" fill="#636363" textLength="29.4" lengthAdjust="spacingAndGlyphs">OD 10</text>
<path d="M717.0,1339.8 L717.0,1331.8 Q717.0,1323.8 733.5,1313.0 L741.5,1305.0" fill="none" stroke="#333" stroke-width="9.6" stroke-linejoin="round"/>
<path d="M717.0,1339.8 L717.0,1331.8 Q717.0,1323.8 733.5,1313.0 L741.5,1305.0" fill="none" stroke="#fff" stroke-width="8" stroke-linejoin="round"/>
<line x1="736.8" y1="1302.4" x2="744.1" y2="1309.7" stroke="#333" stroke-width="0.9"/>
<line x1="734.5" y1="1304.6" x2="741.9" y2="1312.0" stroke="#333" stroke-width="0.9"/>
<line x1="732.2" y1="1306.9" x2="739.6" y2="1314.3" stroke="#333" stroke-width="0.9"/>
<path d="M705.2,1349.3 A11.8,3.4 0 0 0 728.7,1349.3 L728.7,1347.3 L705.2,1347.3 Z" fill="#e0481a" stroke="#8f2a0c" stroke-width="0.7"/>
<path d="M706.7,1339.2 L706.2,1347.8 A10.8,3.4 0 0 0 727.7,1347.8 L727.2,1339.2 Z" fill="url(#ribO)" stroke="#8f2a0c" stroke-width="0.7"/>
<ellipse cx="717.0" cy="1339.2" rx="10.2" ry="3.4" fill="#e0481a" stroke="#8f2a0c" stroke-width="0.7"/>
<ellipse cx="717.0" cy="1339.4" rx="6.4" ry="2.0" fill="#fff" stroke="#8f2a0c" stroke-width="0.6"/>
<text x="832.0" y="1225.7" font-family="'Liberation Serif','Noto Serif CJK KR','Noto Serif CJK SC',serif" font-size="11.5" fill="#636363" textLength="131.9" lengthAdjust="spacingAndGlyphs">GL32 Screw Type SVS Cap</text>
<path d="M852.2,1235.7 L869.0,1235.7 A4.1,15.6 0 0 1 869.0,1266.9 L852.2,1266.9 A2.6,15.6 0 0 1 852.2,1235.7 Z" fill="url(#ribH)" stroke="#8f2a0c" stroke-width="0.8"/>
<ellipse cx="869.0" cy="1251.3" rx="4.1" ry="15.6" fill="#e0481a" stroke="#8f2a0c" stroke-width="0.7"/>
<path d="M905.8,1235.7 L889.0,1235.7 A4.1,15.6 0 0 0 889.0,1266.9 L905.8,1266.9 A2.6,15.6 0 0 0 905.8,1235.7 Z" fill="url(#ribH)" stroke="#8f2a0c" stroke-width="0.8"/>
<ellipse cx="889.0" cy="1251.3" rx="4.1" ry="15.6" fill="#e0481a" stroke="#8f2a0c" stroke-width="0.7"/>
<rect x="870.0" y="1242.9" width="18.0" height="16.8" fill="#fff"/>
<line x1="871.0" y1="1242.9" x2="887.0" y2="1242.9" stroke="#bdbdbd" stroke-width="1.3"/>
<line x1="871.0" y1="1259.7" x2="887.0" y2="1259.7" stroke="#bdbdbd" stroke-width="1.3"/>
<ellipse cx="870.6" cy="1251.3" rx="3.1" ry="9.0" fill="#fff"/>
<ellipse cx="887.4" cy="1251.3" rx="3.1" ry="9.0" fill="#fff"/>
<text x="89.3" y="1328.4" font-family="'Liberation Serif','Noto Serif CJK KR','Noto Serif CJK SC',serif" font-size="11.5" fill="#636363" textLength="87.2" lengthAdjust="spacingAndGlyphs">GL45 Glass Screw</text>
<text x="112.5" y="1349.2" font-family="'Liberation Serif','Noto Serif CJK KR','Noto Serif CJK SC',serif" font-size="11.5" fill="#636363" textLength="11.0" lengthAdjust="spacingAndGlyphs">45</text>
<rect x="130.8" y="1366.9" width="40.5" height="25.1" fill="#fff" stroke="#222" stroke-width="1"/>
<path d="M127.3,1344.2 L127.3,1361.4 A23.4,7.5 0 0 0 174.0,1361.4 L174.0,1344.2 Z" fill="#d6d6d6" stroke="#444" stroke-width="0.8"/>
<path d="M127.3,1347.0 A23.4,7.5 0 0 0 174.0,1347.0" fill="none" stroke="#4a4a4a" stroke-width="1.0"/>
<path d="M127.3,1349.9 A23.4,7.5 0 0 0 174.0,1349.9" fill="none" stroke="#4a4a4a" stroke-width="1.0"/>
<path d="M127.3,1352.8 A23.4,7.5 0 0 0 174.0,1352.8" fill="none" stroke="#4a4a4a" stroke-width="1.0"/>
<path d="M127.3,1355.7 A23.4,7.5 0 0 0 174.0,1355.7" fill="none" stroke="#4a4a4a" stroke-width="1.0"/>
<path d="M127.3,1358.6 A23.4,7.5 0 0 0 174.0,1358.6" fill="none" stroke="#4a4a4a" stroke-width="1.0"/>
<path d="M127.3,1361.4 A23.4,7.5 0 0 0 174.0,1361.4" fill="none" stroke="#4a4a4a" stroke-width="1.0"/>
<ellipse cx="150.7" cy="1344.2" rx="23.4" ry="7.5" fill="#f0f0f0" stroke="#555" stroke-width="0.9"/>
<ellipse cx="150.7" cy="1344.2" rx="21.2" ry="6.5" fill="#fff" stroke="#666" stroke-width="0.7"/>
<text x="130.8" y="1405.2" font-family="'Liberation Serif','Noto Serif CJK KR','Noto Serif CJK SC',serif" font-size="11.5" fill="#636363" textLength="38.8" lengthAdjust="spacingAndGlyphs">40*3.2T</text>
<text x="191.3" y="1330.1" font-family="'Liberation Serif','Noto Serif CJK KR','Noto Serif CJK SC',serif" font-size="11.5" fill="#636363" textLength="82.1" lengthAdjust="spacingAndGlyphs">GL45 Closed Cap</text>
<path d="M205.9,1375.4 A24.5,5.3 0 0 0 255.0,1375.4 L255.0,1373.4 L205.9,1373.4 Z" fill="#e0481a" stroke="#8f2a0c" stroke-width="0.7"/>
<path d="M207.4,1359.3 L206.9,1373.9 A23.5,5.3 0 0 0 254.0,1373.9 L253.5,1359.3 Z" fill="url(#ribO)" stroke="#8f2a0c" stroke-width="0.7"/>
<ellipse cx="230.4" cy="1359.3" rx="23.0" ry="5.3" fill="#e0481a" stroke="#8f2a0c" stroke-width="0.7"/>
<text x="302.0" y="1330.1" font-family="'Liberation Serif','Noto Serif CJK KR','Noto Serif CJK SC',serif" font-size="11.5" fill="#636363" textLength="73.5" lengthAdjust="spacingAndGlyphs">GL45 Open Cap</text>
<path d="M314.2,1374.5 A24.8,5.2 0 0 0 363.7,1374.5 L363.7,1372.5 L314.2,1372.5 Z" fill="#e0481a" stroke="#8f2a0c" stroke-width="0.7"/>
<path d="M315.7,1358.5 L315.2,1373.0 A23.8,5.2 0 0 0 362.7,1373.0 L362.2,1358.5 Z" fill="url(#ribO)" stroke="#8f2a0c" stroke-width="0.7"/>
<ellipse cx="338.9" cy="1358.5" rx="23.2" ry="5.2" fill="#e0481a" stroke="#8f2a0c" stroke-width="0.7"/>
<ellipse cx="338.9" cy="1358.7" rx="14.4" ry="3.1" fill="#fff" stroke="#8f2a0c" stroke-width="0.6"/>
<text x="319.4" y="1395.8" font-family="'Liberation Serif','Noto Serif CJK KR','Noto Serif CJK SC',serif" font-size="11.5" fill="#636363" textLength="36.3" lengthAdjust="spacingAndGlyphs">Hole 34</text>
<text x="404.9" y="1330.1" font-family="'Liberation Serif','Noto Serif CJK KR','Noto Serif CJK SC',serif" font-size="11.5" fill="#636363" textLength="96.1" lengthAdjust="spacingAndGlyphs">GL45 Piercing Septa</text>
<text x="402.5" y="1348.1" font-family="'Liberation Serif','Noto Serif CJK KR','Noto Serif CJK SC',serif" font-size="11.5" fill="#636363" textLength="123.5" lengthAdjust="spacingAndGlyphs">Silicon, PTFE/Butylrubber</text>
<text x="419.8" y="1362.3" font-family="'Liberation Serif','Noto Serif CJK KR','Noto Serif CJK SC',serif" font-size="11.5" fill="#636363" textLength="75.0" lengthAdjust="spacingAndGlyphs">(Syringe 사용시)</text>
<text x="450.2" y="1378.6" font-family="'Liberation Serif','Noto Serif CJK KR','Noto Serif CJK SC',serif" font-size="11.5" fill="#636363" textLength="29.1" lengthAdjust="spacingAndGlyphs">OD 42</text>
<line x1="450.2" y1="1380.0" x2="479.3" y2="1380.0" stroke="#555" stroke-width="0.7"/>
<ellipse cx="467.0" cy="1389.6" rx="27.2" ry="5.9" fill="#e6e6e6" stroke="#555" stroke-width="0.8"/>
<ellipse cx="467.0" cy="1387.6" rx="27.2" ry="5.9" fill="url(#disc)" stroke="#555" stroke-width="0.8"/>
<text x="521.8" y="1330.1" font-family="'Liberation Serif','Noto Serif CJK KR','Noto Serif CJK SC',serif" font-size="11.5" fill="#636363" textLength="131.3" lengthAdjust="spacingAndGlyphs">GL45 Washer Sealing Septa</text>
<text x="550.4" y="1348.1" font-family="'Liberation Serif','Noto Serif CJK KR','Noto Serif CJK SC',serif" font-size="11.5" fill="#636363" textLength="89.3" lengthAdjust="spacingAndGlyphs">Hole ID 1&quot; . 26mm</text>
<text x="550.4" y="1362.0" font-family="'Liberation Serif','Noto Serif CJK KR','Noto Serif CJK SC',serif" font-size="11.5" fill="#636363" textLength="66.4" lengthAdjust="spacingAndGlyphs">Hole ID 32mm</text>
<ellipse cx="578.1" cy="1385.1" rx="29.4" ry="11.1" fill="#e9c962" stroke="#8a7a3a" stroke-width="0.7"/>
<ellipse cx="578.1" cy="1382.3" rx="29.4" ry="11.1" fill="#fdfdf6" stroke="#555" stroke-width="0.8"/>
<ellipse cx="578.1" cy="1382.3" rx="13.2" ry="5.0" fill="#fff" stroke="#555" stroke-width="0.8"/>
</g><text x="4.2" y="2998.7" font-family="'Liberation Sans','NanumGothic','Noto Sans CJK KR',sans-serif" font-size="16" fill="#111" textLength="980.8" lengthAdjust="spacingAndGlyphs">*상기 images는 user의 이해를 돕기위한 images이며 brand, exchange rate, 단종, 재고소진, 제작전 사용자의 요청등 외부요인</text>
<text x="9.4" y="3018.5" font-family="'Liberation Sans','NanumGothic','Noto Sans CJK KR',sans-serif" font-size="16" fill="#111" textLength="789.6" lengthAdjust="spacingAndGlyphs">과 신상품개발, 좀더 개선된 제품의 개발등 내부요인에 따라 변경될 수 있으므로 참고 하시기 바랍니다.</text>
<text x="4.2" y="3041.0" font-family="'Liberation Sans','NanumGothic','Noto Sans CJK KR',sans-serif" font-size="16" fill="#111" textLength="164.0" lengthAdjust="spacingAndGlyphs">*Copyright © 초자랩.</text>
<text x="199.5" y="3041.0" font-family="'Liberation Sans','NanumGothic','Noto Sans CJK KR',sans-serif" font-size="16" fill="#111" textLength="157.5" lengthAdjust="spacingAndGlyphs">All Rights Reserved.</text>
</svg>
</body></html>
